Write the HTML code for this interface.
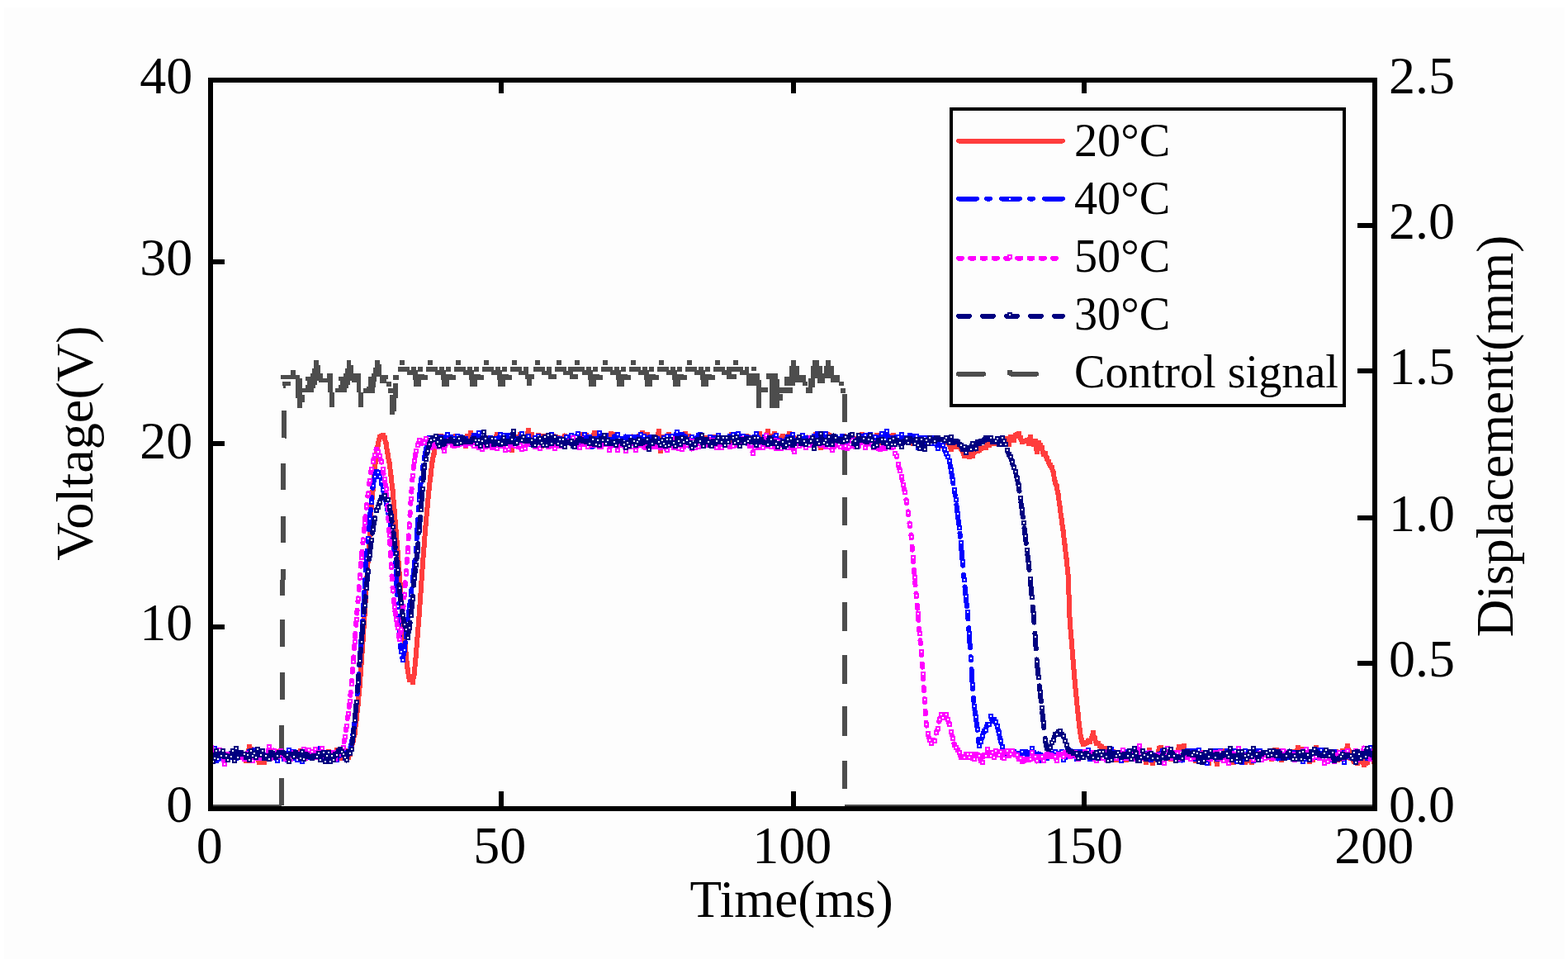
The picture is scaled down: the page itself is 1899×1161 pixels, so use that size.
<!DOCTYPE html><html><head><meta charset="utf-8"><title>chart</title><style>html,body{margin:0;padding:0;background:#fdfdfd;overflow:hidden}svg{display:block}</style></head><body><svg width="1899" height="1161" viewBox="0 0 1899 1161" shape-rendering="crispEdges"><defs><clipPath id="pc"><rect x="257" y="99" width="1405" height="877"/></clipPath></defs><rect width="1899" height="1161" fill="#fdfdfd"/><rect width="1899" height="9" fill="#fff"/><rect width="5" height="1161" fill="#fff"/><rect x="1895" width="4" height="1161" fill="#fff"/><g><path d="M254.0 974.0h87.0v6.0h-87.0zM1023.0 974.0h642.0v6.0h-642.0zM342.0 461.8h9.5v5.6h-9.5zM343.4 467.0h2.3v3.0h-2.3zM340.0 453.7h23.2v5.7h-23.2zM351.8 448.0h5.7v5.7h-5.7zM358.0 458.4h7.5v23.3h-7.5zM360.3 477.9h9.0v9.1h-9.0zM359.9 487.0h5.6v6.5h-5.6zM380.0 436.0h5.5v5.5h-5.5zM380.0 441.5h7.8v4.5h-7.8zM378.0 446.0h9.8v5.7h-9.8zM376.4 451.7h14.6v6.0h-14.6zM370.4 456.0h15.6v5.4h-15.6zM372.0 461.4h11.6v4.8h-11.6zM370.4 466.2h11.4v3.6h-11.4zM365.4 469.8h14.6v5.4h-14.6zM386.0 457.7h16.8v5.5h-16.8zM396.4 452.3h6.4v5.4h-6.4zM397.4 457.7h5.4v17.5h-5.4zM399.2 475.2h6.0v18.1h-6.0zM419.9 436.0h5.5v5.5h-5.5zM419.9 441.5h7.8v4.5h-7.8zM417.9 446.0h9.8v5.7h-9.8zM416.3 451.7h14.6v6.0h-14.6zM410.3 456.0h15.6v5.4h-15.6zM411.9 461.4h11.6v4.8h-11.6zM410.3 466.2h11.4v3.6h-11.4zM406.0 469.8h13.9v5.4h-13.9zM425.9 457.7h11.5v5.5h-11.5zM431.0 452.3h6.4v5.4h-6.4zM432.0 457.7h5.4v17.5h-5.4zM433.8 475.2h6.0v18.1h-6.0zM454.1 436.2h5.5v5.2h-5.5zM454.1 441.4h7.5v3.6h-7.5zM452.0 445.0h9.6v6.7h-9.6zM450.0 451.7h11.6v4.3h-11.6zM460.0 454.0h9.6v5.0h-9.6zM460.0 457.5h7.5v6.2h-7.5zM467.9 462.0h5.8v5.5h-5.8zM446.2 456.0h9.6v5.7h-9.6zM446.2 461.7h9.0v7.6h-9.0zM444.0 468.0h9.8v2.0h-9.8zM439.8 470.0h14.0v5.5h-14.0zM476.2 453.8h6.3v5.8h-6.3zM470.0 470.0h11.7v5.5h-11.7zM475.8 464.0h5.9v17.7h-5.9zM472.0 477.5h8.0v20.0h-8.0zM472.0 496.0h5.5v5.6h-5.5zM494.4 448.0h5.6v5.4h-5.6zM484.0 436.0h6.0v6.0h-6.0zM482.0 444.0h14.0v6.0h-14.0zM493.0 448.0h13.0v5.5h-13.0zM498.0 444.0h6.0v6.0h-6.0zM506.0 444.0h6.0v6.0h-6.0zM500.0 453.0h14.0v7.0h-14.0zM512.0 454.0h6.0v6.0h-6.0zM501.0 460.0h9.0v7.5h-9.0zM518.0 436.0h6.0v6.0h-6.0zM516.0 444.0h14.0v6.0h-14.0zM527.0 448.0h13.0v5.5h-13.0zM532.0 444.0h6.0v6.0h-6.0zM540.0 444.0h6.0v6.0h-6.0zM534.0 453.0h14.0v7.0h-14.0zM546.0 454.0h6.0v6.0h-6.0zM535.0 460.0h9.0v7.5h-9.0zM552.0 436.0h6.0v6.0h-6.0zM550.0 444.0h14.0v6.0h-14.0zM561.0 448.0h13.0v5.5h-13.0zM566.0 444.0h6.0v6.0h-6.0zM574.0 444.0h6.0v6.0h-6.0zM568.0 453.0h14.0v7.0h-14.0zM580.0 454.0h6.0v6.0h-6.0zM569.0 460.0h9.0v7.5h-9.0zM586.0 436.0h6.0v6.0h-6.0zM584.0 444.0h14.0v6.0h-14.0zM595.0 448.0h13.0v5.5h-13.0zM600.0 444.0h6.0v6.0h-6.0zM608.0 444.0h6.0v6.0h-6.0zM602.0 453.0h14.0v7.0h-14.0zM614.0 454.0h6.0v6.0h-6.0zM603.0 460.0h9.0v7.5h-9.0zM620.0 436.0h6.0v6.0h-6.0zM618.0 444.0h14.0v6.0h-14.0zM628.0 449.0h12.0v4.5h-12.0zM634.0 444.0h6.0v6.0h-6.0zM636.0 452.8h11.0v6.6h-11.0zM638.0 459.4h6.0v7.9h-6.0zM648.0 436.0h6.0v6.0h-6.0zM646.0 444.0h14.0v6.0h-14.0zM656.0 449.0h12.0v4.5h-12.0zM662.0 444.0h6.0v6.0h-6.0zM664.0 453.0h10.0v6.4h-10.0zM674.0 436.0h6.0v6.0h-6.0zM672.0 444.0h14.0v6.0h-14.0zM682.0 449.0h12.0v4.5h-12.0zM688.0 444.0h6.0v6.0h-6.0zM690.0 453.0h10.0v6.4h-10.0zM696.0 436.0h6.0v6.0h-6.0zM694.0 444.0h14.0v6.0h-14.0zM705.0 448.0h13.0v5.5h-13.0zM710.0 444.0h6.0v6.0h-6.0zM718.0 444.0h6.0v6.0h-6.0zM712.0 453.0h14.0v7.0h-14.0zM724.0 454.0h6.0v6.0h-6.0zM713.0 460.0h9.0v7.5h-9.0zM730.0 436.0h6.0v6.0h-6.0zM728.0 444.0h14.0v6.0h-14.0zM739.0 448.0h13.0v5.5h-13.0zM744.0 444.0h6.0v6.0h-6.0zM752.0 444.0h6.0v6.0h-6.0zM746.0 453.0h14.0v7.0h-14.0zM758.0 454.0h6.0v6.0h-6.0zM747.0 460.0h9.0v7.5h-9.0zM764.0 436.0h6.0v6.0h-6.0zM762.0 444.0h14.0v6.0h-14.0zM773.0 448.0h13.0v5.5h-13.0zM778.0 444.0h6.0v6.0h-6.0zM786.0 444.0h6.0v6.0h-6.0zM780.0 453.0h14.0v7.0h-14.0zM792.0 454.0h6.0v6.0h-6.0zM781.0 460.0h9.0v7.5h-9.0zM798.0 436.0h6.0v6.0h-6.0zM796.0 444.0h14.0v6.0h-14.0zM807.0 448.0h13.0v5.5h-13.0zM812.0 444.0h6.0v6.0h-6.0zM820.0 444.0h6.0v6.0h-6.0zM814.0 453.0h14.0v7.0h-14.0zM826.0 454.0h6.0v6.0h-6.0zM815.0 460.0h9.0v7.5h-9.0zM832.0 436.0h6.0v6.0h-6.0zM830.0 444.0h14.0v6.0h-14.0zM841.0 448.0h13.0v5.5h-13.0zM846.0 444.0h6.0v6.0h-6.0zM854.0 444.0h6.0v6.0h-6.0zM848.0 453.0h14.0v7.0h-14.0zM860.0 454.0h6.0v6.0h-6.0zM849.0 460.0h9.0v7.5h-9.0zM866.0 436.0h6.0v6.0h-6.0zM864.0 444.0h14.0v6.0h-14.0zM874.0 449.0h12.0v4.5h-12.0zM880.0 444.0h6.0v6.0h-6.0zM882.0 453.0h10.0v6.4h-10.0zM888.0 436.0h6.0v6.0h-6.0zM886.0 444.0h14.0v6.0h-14.0zM874.2 448.0h7.6v5.6h-7.6zM880.0 453.6h8.0v5.7h-8.0zM860.0 453.6h5.7v5.7h-5.7zM896.0 448.4h11.4v5.2h-11.4zM902.0 443.7h5.4v4.7h-5.4zM910.2 443.7h5.8v5.7h-5.8zM904.0 452.2h15.7v15.2h-15.7zM916.0 459.8h6.0v33.7h-6.0zM921.6 469.3h8.4v5.7h-8.4zM928.0 451.8h14.0v7.1h-14.0zM932.0 458.9h12.0v34.6h-12.0zM944.0 476.9h3.7v8.5h-3.7zM940.0 469.3h19.5v6.2h-19.5zM950.0 456.0h13.3v11.4h-13.3zM955.7 442.7h12.3v13.3h-12.3zM958.0 435.6h5.8v7.1h-5.8zM963.3 454.0h12.3v8.7h-12.3zM971.8 461.7h6.2v5.7h-6.2zM976.0 469.3h8.2v6.2h-8.2zM979.4 458.0h7.6v11.3h-7.6zM982.3 442.7h13.2v15.3h-13.2zM984.2 435.6h7.6v7.1h-7.6zM989.9 452.2h9.4v11.4h-9.4zM998.4 442.7h11.4v15.3h-11.4zM1000.3 435.6h5.7v7.1h-5.7zM1006.0 454.0h11.3v8.7h-11.3zM1015.5 461.7h6.5v5.7h-6.5zM1017.8 469.8h6.2v5.7h-6.2zM1020.0 476.5h6.0v34.3h-6.0zM1020.0 540.3h6.0v34.3h-6.0zM1020.0 601.6h6.0v34.4h-6.0zM1020.0 665.5h6.0v34.3h-6.0zM1020.0 729.3h6.0v34.3h-6.0zM1020.0 793.0h6.0v34.5h-6.0zM1020.0 854.5h6.0v36.8h-6.0zM1020.0 920.7h6.0v34.3h-6.0z" fill="#4d4d4d"/><path d="M340.7 975.0 L340.9 942.0M341.2 910.0 L341.4 878.0M341.6 847.0 L341.8 814.0M342.0 783.0 L342.2 750.0M342.4 721.0 L342.6 689.0M342.9 657.0 L343.1 625.0M343.3 593.0 L343.5 561.0M343.7 530.5 L343.9 497.0" fill="none" stroke="#4d4d4d" stroke-width="6"/></g><g clip-path="url(#pc)"><path d="M253.7 916.0 L255.7 917.5 L257.7 916.2 L259.7 910.3 L261.7 920.6 L263.7 917.6 L265.7 914.0 L267.7 917.5 L269.7 916.1 L271.7 915.7 L273.7 915.0 L275.7 917.5 L277.7 913.3 L279.7 915.4 L281.7 914.5 L283.7 918.5 L285.7 915.4 L287.7 913.1 L289.7 910.8 L291.7 913.0 L293.7 914.8 L295.7 914.5 L297.7 921.3 L299.7 920.6 L301.7 904.4 L303.7 907.0 L305.7 913.9 L307.7 912.9 L309.7 915.0 L311.7 915.5 L313.7 923.3 L315.7 909.5 L317.7 912.2 L319.7 922.6 L321.7 916.1 L323.7 917.2 L325.7 912.6 L327.7 908.5 L329.7 916.4 L331.7 916.1 L333.7 909.9 L335.7 911.5 L337.7 913.8 L339.7 910.5 L341.7 914.7 L343.7 915.5 L345.7 915.5 L347.7 913.2 L349.7 916.7 L351.7 917.9 L353.7 915.8 L355.7 911.0 L357.7 917.2 L359.7 912.7 L361.7 918.1 L363.7 909.5 L365.7 918.4 L367.7 914.7 L369.7 910.1 L371.7 914.0 L373.7 915.2 L375.7 916.1 L377.7 911.2 L379.7 909.7 L381.7 915.0 L383.7 912.8 L385.7 914.7 L387.7 916.4 L389.7 905.7 L391.7 914.2 L393.7 917.4 L395.7 911.6 L397.7 910.2 L399.7 917.6 L401.7 915.9 L403.7 919.2 L405.7 913.7 L407.7 907.7 L409.7 914.0 L411.7 912.2 L413.7 918.3 L415.7 915.7 L417.7 908.6 L419.7 910.7 L421.7 916.6 L423.7 912.5 L425.7 905.1 L427.7 896.2 L429.7 886.8 L431.7 870.0 L433.7 852.1 L435.7 830.2 L437.7 802.1 L439.7 774.0 L441.7 743.0 L443.7 709.7 L445.7 678.6 L447.7 646.7 L449.7 614.1 L451.7 591.5 L453.7 569.0 L455.7 551.3 L457.7 538.0 L459.7 529.3 L461.7 527.9 L463.7 527.3 L465.7 530.0 L467.7 538.3 L469.7 551.4 L471.7 561.6 L473.7 578.1 L475.7 595.5 L477.7 619.0 L479.7 644.3 L481.7 669.1 L483.7 695.1 L485.7 720.8 L487.7 745.6 L489.7 768.9 L491.7 792.0 L493.7 811.1 L495.7 822.9 L497.7 821.8 L499.7 825.9 L501.7 815.4 L503.7 794.3 L505.7 769.3 L507.7 744.2 L509.7 715.0 L511.7 686.0 L513.7 659.6 L515.7 634.1 L517.7 611.9 L519.7 591.3 L521.7 573.9 L523.7 556.9 L525.7 547.8 L527.7 538.4 L529.7 536.5 L531.7 531.3 L533.7 527.7 L535.7 535.8 L537.7 529.5 L539.7 530.5 L541.7 533.4 L543.7 530.3 L545.7 531.5 L547.7 534.0 L549.7 533.6 L551.7 527.8 L553.7 536.1 L555.7 531.7 L557.7 529.8 L559.7 529.8 L561.7 531.6 L563.7 540.4 L565.7 527.7 L567.7 533.0 L569.7 524.3 L571.7 532.9 L573.7 537.0 L575.7 532.7 L577.7 530.9 L579.7 533.6 L581.7 535.2 L583.7 534.6 L585.7 539.5 L587.7 532.9 L589.7 529.7 L591.7 532.3 L593.7 533.0 L595.7 533.3 L597.7 532.6 L599.7 533.9 L601.7 525.9 L603.7 535.8 L605.7 531.1 L607.7 529.2 L609.7 537.1 L611.7 539.6 L613.7 537.2 L615.7 535.2 L617.7 529.9 L619.7 545.3 L621.7 537.1 L623.7 528.6 L625.7 530.0 L627.7 533.9 L629.7 526.3 L631.7 534.0 L633.7 530.1 L635.7 536.6 L637.7 535.7 L639.7 520.8 L641.7 532.4 L643.7 526.3 L645.7 537.5 L647.7 533.3 L649.7 534.6 L651.7 527.4 L653.7 539.5 L655.7 540.4 L657.7 528.3 L659.7 534.8 L661.7 530.0 L663.7 532.3 L665.7 527.9 L667.7 539.8 L669.7 528.0 L671.7 530.8 L673.7 534.6 L675.7 529.5 L677.7 531.6 L679.7 530.7 L681.7 532.5 L683.7 527.5 L685.7 531.3 L687.7 532.3 L689.7 531.9 L691.7 534.2 L693.7 532.6 L695.7 536.1 L697.7 531.7 L699.7 531.8 L701.7 529.1 L703.7 529.7 L705.7 526.1 L707.7 533.6 L709.7 526.9 L711.7 529.2 L713.7 533.4 L715.7 534.5 L717.7 531.1 L719.7 523.6 L721.7 533.5 L723.7 533.9 L725.7 526.8 L727.7 536.2 L729.7 531.0 L731.7 529.5 L733.7 534.3 L735.7 532.1 L737.7 533.1 L739.7 525.3 L741.7 539.1 L743.7 529.2 L745.7 526.5 L747.7 535.8 L749.7 532.3 L751.7 535.0 L753.7 532.3 L755.7 533.0 L757.7 533.9 L759.7 529.2 L761.7 535.3 L763.7 530.5 L765.7 528.5 L767.7 532.8 L769.7 533.8 L771.7 531.1 L773.7 528.0 L775.7 534.2 L777.7 524.5 L779.7 527.3 L781.7 531.5 L783.7 526.2 L785.7 532.8 L787.7 532.5 L789.7 537.1 L791.7 530.8 L793.7 531.2 L795.7 534.5 L797.7 522.1 L799.7 545.7 L801.7 528.9 L803.7 529.7 L805.7 537.1 L807.7 533.6 L809.7 525.6 L811.7 535.2 L813.7 536.6 L815.7 531.1 L817.7 532.1 L819.7 535.5 L821.7 530.0 L823.7 534.6 L825.7 533.1 L827.7 528.2 L829.7 525.3 L831.7 530.2 L833.7 527.7 L835.7 535.8 L837.7 533.5 L839.7 536.2 L841.7 533.9 L843.7 533.3 L845.7 528.4 L847.7 534.8 L849.7 539.0 L851.7 529.8 L853.7 529.9 L855.7 531.8 L857.7 530.1 L859.7 529.0 L861.7 531.9 L863.7 529.3 L865.7 536.2 L867.7 529.9 L869.7 531.7 L871.7 535.2 L873.7 530.1 L875.7 539.0 L877.7 530.3 L879.7 529.7 L881.7 531.6 L883.7 533.0 L885.7 526.3 L887.7 532.1 L889.7 525.6 L891.7 538.5 L893.7 532.8 L895.7 530.5 L897.7 529.0 L899.7 531.7 L901.7 532.0 L903.7 528.3 L905.7 529.4 L907.7 533.3 L909.7 530.6 L911.7 536.6 L913.7 537.1 L915.7 532.0 L917.7 532.3 L919.7 525.2 L921.7 532.6 L923.7 530.0 L925.7 532.5 L927.7 538.4 L929.7 521.7 L931.7 533.9 L933.7 527.7 L935.7 534.1 L937.7 525.5 L939.7 529.0 L941.7 531.7 L943.7 534.0 L945.7 531.4 L947.7 528.0 L949.7 529.7 L951.7 535.7 L953.7 531.8 L955.7 525.0 L957.7 536.2 L959.7 533.5 L961.7 535.4 L963.7 530.6 L965.7 536.9 L967.7 528.8 L969.7 536.6 L971.7 531.8 L973.7 536.0 L975.7 537.1 L977.7 529.5 L979.7 532.0 L981.7 532.1 L983.7 537.1 L985.7 534.9 L987.7 526.5 L989.7 533.4 L991.7 535.8 L993.7 541.6 L995.7 525.2 L997.7 529.9 L999.7 537.7 L1001.7 525.7 L1003.7 526.8 L1005.7 533.9 L1007.7 537.1 L1009.7 529.9 L1011.7 534.9 L1013.7 533.0 L1015.7 539.0 L1017.7 531.6 L1019.7 536.0 L1021.7 528.4 L1023.7 530.4 L1025.7 530.8 L1027.7 536.2 L1029.7 533.8 L1031.7 528.3 L1033.7 534.8 L1035.7 535.1 L1037.7 531.4 L1039.7 531.3 L1041.7 531.1 L1043.7 525.7 L1045.7 533.4 L1047.7 534.0 L1049.7 528.8 L1051.7 535.6 L1053.7 526.2 L1055.7 530.8 L1057.7 531.0 L1059.7 541.5 L1061.7 527.0 L1063.7 535.9 L1065.7 536.3 L1067.7 533.8 L1069.7 537.4 L1071.7 528.0 L1073.7 522.5 L1075.7 535.8 L1077.7 527.6 L1079.7 531.3 L1081.7 527.4 L1083.7 536.7 L1085.7 536.1 L1087.7 529.2 L1089.7 536.1 L1091.7 532.7 L1093.7 531.9 L1095.7 532.0 L1097.7 530.8 L1099.7 534.3 L1101.7 533.3 L1103.7 531.1 L1105.7 537.2 L1107.7 531.3 L1109.7 534.7 L1111.7 534.7 L1113.7 539.0 L1115.7 530.9 L1117.7 539.2 L1119.7 533.3 L1121.7 532.7 L1123.7 530.8 L1125.7 536.0 L1127.7 534.4 L1129.7 529.7 L1131.7 530.3 L1133.7 532.3 L1135.7 532.1 L1137.7 539.4 L1139.7 539.9 L1141.7 536.7 L1143.7 535.9 L1145.7 532.1 L1147.7 534.4 L1149.7 538.5 L1151.7 543.8 L1153.7 540.6 L1155.7 538.9 L1157.7 541.4 L1159.7 540.8 L1161.7 539.9 L1163.7 543.2 L1165.7 545.9 L1167.7 552.3 L1169.7 546.1 L1171.7 551.6 L1173.7 553.1 L1175.7 544.8 L1177.7 552.0 L1179.7 547.4 L1181.7 542.3 L1183.7 545.6 L1185.7 545.3 L1187.7 542.7 L1189.7 542.2 L1191.7 542.4 L1193.7 542.4 L1195.7 537.6 L1197.7 539.1 L1199.7 533.5 L1201.7 537.5 L1203.7 537.3 L1205.7 533.7 L1207.7 534.8 L1209.7 534.9 L1211.7 530.5 L1213.7 531.2 L1215.7 533.3 L1217.7 533.8 L1219.7 530.9 L1221.7 538.2 L1223.7 529.0 L1225.7 532.6 L1227.7 532.8 L1229.7 526.9 L1231.7 525.6 L1233.7 525.4 L1235.7 530.5 L1237.7 534.8 L1239.7 533.8 L1241.7 534.4 L1243.7 532.9 L1245.7 537.1 L1247.7 528.7 L1249.7 537.4 L1251.7 538.0 L1253.7 534.1 L1255.7 546.7 L1257.7 535.6 L1259.7 539.2 L1261.7 542.2 L1263.7 550.2 L1265.7 548.8 L1267.7 555.4 L1269.7 559.0 L1271.7 563.4 L1273.7 566.1 L1275.7 572.6 L1277.7 583.6 L1279.7 588.9 L1281.7 600.3 L1283.7 614.6 L1285.7 629.7 L1287.7 644.0 L1289.7 661.3 L1291.7 677.9 L1293.7 697.6 L1295.7 752.7 L1297.7 775.5 L1299.7 801.0 L1301.7 824.6 L1303.7 846.0 L1305.7 865.3 L1307.7 884.0 L1309.7 896.2 L1311.7 901.1 L1313.7 900.2 L1315.7 898.8 L1317.7 896.5 L1319.7 897.7 L1321.7 894.3 L1323.7 887.4 L1325.7 894.4 L1327.7 899.6 L1329.7 900.2 L1331.7 902.6 L1333.7 903.8 L1335.7 908.7 L1337.7 906.1 L1339.7 913.1 L1341.7 912.1 L1343.7 917.4 L1345.7 915.0 L1347.7 910.3 L1349.7 915.4 L1351.7 920.1 L1353.7 912.1 L1355.7 914.7 L1357.7 913.4 L1359.7 910.2 L1361.7 919.1 L1363.7 920.2 L1365.7 917.9 L1367.7 915.5 L1369.7 915.0 L1371.7 916.4 L1373.7 912.6 L1375.7 919.2 L1377.7 919.9 L1379.7 919.1 L1381.7 913.2 L1383.7 916.3 L1385.7 914.6 L1387.7 922.9 L1389.7 916.6 L1391.7 908.3 L1393.7 916.8 L1395.7 924.3 L1397.7 918.8 L1399.7 918.6 L1401.7 915.0 L1403.7 906.1 L1405.7 905.1 L1407.7 908.3 L1409.7 913.8 L1411.7 915.7 L1413.7 917.7 L1415.7 914.4 L1417.7 919.1 L1419.7 914.3 L1421.7 912.5 L1423.7 919.6 L1425.7 911.3 L1427.7 904.4 L1429.7 911.3 L1431.7 916.3 L1433.7 903.0 L1435.7 915.2 L1437.7 914.9 L1439.7 909.9 L1441.7 909.3 L1443.7 913.4 L1445.7 912.9 L1447.7 921.3 L1449.7 916.9 L1451.7 908.5 L1453.7 911.3 L1455.7 918.3 L1457.7 923.2 L1459.7 917.9 L1461.7 917.9 L1463.7 924.0 L1465.7 916.5 L1467.7 915.0 L1469.7 909.8 L1471.7 913.3 L1473.7 925.0 L1475.7 909.2 L1477.7 915.2 L1479.7 909.1 L1481.7 914.5 L1483.7 917.8 L1485.7 913.1 L1487.7 917.3 L1489.7 917.3 L1491.7 917.4 L1493.7 923.1 L1495.7 918.8 L1497.7 914.6 L1499.7 912.3 L1501.7 911.0 L1503.7 915.7 L1505.7 911.6 L1507.7 923.4 L1509.7 921.0 L1511.7 913.4 L1513.7 913.3 L1515.7 923.4 L1517.7 908.9 L1519.7 914.2 L1521.7 919.7 L1523.7 911.8 L1525.7 913.2 L1527.7 913.1 L1529.7 917.9 L1531.7 915.4 L1533.7 916.9 L1535.7 916.8 L1537.7 914.9 L1539.7 919.1 L1541.7 911.9 L1543.7 908.1 L1545.7 907.9 L1547.7 909.0 L1549.7 913.2 L1551.7 920.0 L1553.7 916.9 L1555.7 913.5 L1557.7 912.2 L1559.7 915.0 L1561.7 914.8 L1563.7 913.9 L1565.7 910.1 L1567.7 913.3 L1569.7 918.9 L1571.7 905.4 L1573.7 914.0 L1575.7 906.8 L1577.7 915.3 L1579.7 912.0 L1581.7 906.6 L1583.7 915.8 L1585.7 922.4 L1587.7 916.3 L1589.7 920.1 L1591.7 914.4 L1593.7 904.6 L1595.7 915.9 L1597.7 911.9 L1599.7 907.7 L1601.7 917.6 L1603.7 915.7 L1605.7 912.0 L1607.7 918.4 L1609.7 911.8 L1611.7 917.6 L1613.7 912.1 L1615.7 917.8 L1617.7 909.7 L1619.7 919.6 L1621.7 914.7 L1623.7 919.1 L1625.7 909.5 L1627.7 911.1 L1629.7 917.0 L1631.7 903.1 L1633.7 909.9 L1635.7 918.5 L1637.7 918.3 L1639.7 922.2 L1641.7 919.6 L1643.7 924.3 L1645.7 922.2 L1647.7 922.2 L1649.7 920.7 L1651.7 925.9 L1653.7 924.2 L1655.7 922.6 L1657.7 912.9 L1659.7 915.8 L1661.7 918.8 L1663.7 921.7 L1665.7 918.8" fill="none" stroke="#ff3d3d" stroke-width="6" stroke-linejoin="round" stroke-linecap="round"/><path d="M251 913h6v6h-6zM253 915h6v6h-6zM255 913h6v6h-6zM257 907h6v6h-6zM259 918h6v6h-6zM261 915h6v6h-6zM263 911h6v6h-6zM265 915h6v6h-6zM267 913h6v6h-6zM269 913h6v6h-6zM271 912h6v6h-6zM273 915h6v6h-6zM275 910h6v6h-6zM277 912h6v6h-6zM279 912h6v6h-6zM281 916h6v6h-6zM283 912h6v6h-6zM285 910h6v6h-6zM287 908h6v6h-6zM289 910h6v6h-6zM291 912h6v6h-6zM293 911h6v6h-6zM295 918h6v6h-6zM297 918h6v6h-6zM299 901h6v6h-6zM301 904h6v6h-6zM303 911h6v6h-6zM305 910h6v6h-6zM307 912h6v6h-6zM309 913h6v6h-6zM311 920h6v6h-6zM313 906h6v6h-6zM315 909h6v6h-6zM317 920h6v6h-6zM319 913h6v6h-6zM321 914h6v6h-6zM323 910h6v6h-6zM325 906h6v6h-6zM327 913h6v6h-6zM329 913h6v6h-6zM331 907h6v6h-6zM333 909h6v6h-6zM335 911h6v6h-6zM337 908h6v6h-6zM339 912h6v6h-6zM341 912h6v6h-6zM343 913h6v6h-6zM345 910h6v6h-6zM347 914h6v6h-6zM349 915h6v6h-6zM351 913h6v6h-6zM353 908h6v6h-6zM355 914h6v6h-6zM357 910h6v6h-6zM359 915h6v6h-6zM361 906h6v6h-6zM363 915h6v6h-6zM365 912h6v6h-6zM367 907h6v6h-6zM369 911h6v6h-6zM371 912h6v6h-6zM373 913h6v6h-6zM375 908h6v6h-6zM377 907h6v6h-6zM379 912h6v6h-6zM381 910h6v6h-6zM383 912h6v6h-6zM385 913h6v6h-6zM387 903h6v6h-6zM389 911h6v6h-6zM391 914h6v6h-6zM393 909h6v6h-6zM395 907h6v6h-6zM397 915h6v6h-6zM399 913h6v6h-6zM401 916h6v6h-6zM403 911h6v6h-6zM405 905h6v6h-6zM407 911h6v6h-6zM409 909h6v6h-6zM411 915h6v6h-6zM413 913h6v6h-6zM415 906h6v6h-6zM417 908h6v6h-6zM419 914h6v6h-6zM421 910h6v6h-6zM423 902h6v6h-6zM425 893h6v6h-6zM427 884h6v6h-6zM429 867h6v6h-6zM431 849h6v6h-6zM433 827h6v6h-6zM435 799h6v6h-6zM437 771h6v6h-6zM439 740h6v6h-6zM441 707h6v6h-6zM443 676h6v6h-6zM445 644h6v6h-6zM447 611h6v6h-6zM449 589h6v6h-6zM451 566h6v6h-6zM453 548h6v6h-6zM455 535h6v6h-6zM457 526h6v6h-6zM459 525h6v6h-6zM461 524h6v6h-6zM463 527h6v6h-6zM465 535h6v6h-6zM467 548h6v6h-6zM469 559h6v6h-6zM471 575h6v6h-6zM473 592h6v6h-6zM475 616h6v6h-6zM477 641h6v6h-6zM479 666h6v6h-6zM481 692h6v6h-6zM483 718h6v6h-6zM485 743h6v6h-6zM487 766h6v6h-6zM489 789h6v6h-6zM491 808h6v6h-6zM493 820h6v6h-6zM495 819h6v6h-6zM497 823h6v6h-6zM499 812h6v6h-6zM501 791h6v6h-6zM503 766h6v6h-6zM505 741h6v6h-6zM507 712h6v6h-6zM509 683h6v6h-6zM511 657h6v6h-6zM513 631h6v6h-6zM515 609h6v6h-6zM517 588h6v6h-6zM519 571h6v6h-6zM521 554h6v6h-6zM523 545h6v6h-6zM525 535h6v6h-6zM527 534h6v6h-6zM529 528h6v6h-6zM531 525h6v6h-6zM533 533h6v6h-6zM535 527h6v6h-6zM537 528h6v6h-6zM539 530h6v6h-6zM541 527h6v6h-6zM543 528h6v6h-6zM545 531h6v6h-6zM547 531h6v6h-6zM549 525h6v6h-6zM551 533h6v6h-6zM553 529h6v6h-6zM555 527h6v6h-6zM557 527h6v6h-6zM559 529h6v6h-6zM561 537h6v6h-6zM563 525h6v6h-6zM565 530h6v6h-6zM567 521h6v6h-6zM569 530h6v6h-6zM571 534h6v6h-6zM573 530h6v6h-6zM575 528h6v6h-6zM577 531h6v6h-6zM579 532h6v6h-6zM581 532h6v6h-6zM583 536h6v6h-6zM585 530h6v6h-6zM587 527h6v6h-6zM589 529h6v6h-6zM591 530h6v6h-6zM593 530h6v6h-6zM595 530h6v6h-6zM597 531h6v6h-6zM599 523h6v6h-6zM601 533h6v6h-6zM603 528h6v6h-6zM605 526h6v6h-6zM607 534h6v6h-6zM609 537h6v6h-6zM611 534h6v6h-6zM613 532h6v6h-6zM615 527h6v6h-6zM617 542h6v6h-6zM619 534h6v6h-6zM621 526h6v6h-6zM623 527h6v6h-6zM625 531h6v6h-6zM627 523h6v6h-6zM629 531h6v6h-6zM631 527h6v6h-6zM633 534h6v6h-6zM635 533h6v6h-6zM637 518h6v6h-6zM639 529h6v6h-6zM641 523h6v6h-6zM643 535h6v6h-6zM645 530h6v6h-6zM647 532h6v6h-6zM649 524h6v6h-6zM651 536h6v6h-6zM653 537h6v6h-6zM655 525h6v6h-6zM657 532h6v6h-6zM659 527h6v6h-6zM661 529h6v6h-6zM663 525h6v6h-6zM665 537h6v6h-6zM667 525h6v6h-6zM669 528h6v6h-6zM671 532h6v6h-6zM673 527h6v6h-6zM675 529h6v6h-6zM677 528h6v6h-6zM679 530h6v6h-6zM681 525h6v6h-6zM683 528h6v6h-6zM685 529h6v6h-6zM687 529h6v6h-6zM689 531h6v6h-6zM691 530h6v6h-6zM693 533h6v6h-6zM695 529h6v6h-6zM697 529h6v6h-6zM699 526h6v6h-6zM701 527h6v6h-6zM703 523h6v6h-6zM705 531h6v6h-6zM707 524h6v6h-6zM709 526h6v6h-6zM711 530h6v6h-6zM713 532h6v6h-6zM715 528h6v6h-6zM717 521h6v6h-6zM719 531h6v6h-6zM721 531h6v6h-6zM723 524h6v6h-6zM725 533h6v6h-6zM727 528h6v6h-6zM729 527h6v6h-6zM731 531h6v6h-6zM733 529h6v6h-6zM735 530h6v6h-6zM737 522h6v6h-6zM739 536h6v6h-6zM741 526h6v6h-6zM743 523h6v6h-6zM745 533h6v6h-6zM747 529h6v6h-6zM749 532h6v6h-6zM751 529h6v6h-6zM753 530h6v6h-6zM755 531h6v6h-6zM757 526h6v6h-6zM759 532h6v6h-6zM761 527h6v6h-6zM763 526h6v6h-6zM765 530h6v6h-6zM767 531h6v6h-6zM769 528h6v6h-6zM771 525h6v6h-6zM773 531h6v6h-6zM775 521h6v6h-6zM777 524h6v6h-6zM779 529h6v6h-6zM781 523h6v6h-6zM783 530h6v6h-6zM785 529h6v6h-6zM787 534h6v6h-6zM789 528h6v6h-6zM791 528h6v6h-6zM793 532h6v6h-6zM795 519h6v6h-6zM797 543h6v6h-6zM799 526h6v6h-6zM801 527h6v6h-6zM803 534h6v6h-6zM805 531h6v6h-6zM807 523h6v6h-6zM809 532h6v6h-6zM811 534h6v6h-6zM813 528h6v6h-6zM815 529h6v6h-6zM817 533h6v6h-6zM819 527h6v6h-6zM821 532h6v6h-6zM823 530h6v6h-6zM825 525h6v6h-6zM827 522h6v6h-6zM829 527h6v6h-6zM831 525h6v6h-6zM833 533h6v6h-6zM835 530h6v6h-6zM837 533h6v6h-6zM839 531h6v6h-6zM841 530h6v6h-6zM843 525h6v6h-6zM845 532h6v6h-6zM847 536h6v6h-6zM849 527h6v6h-6zM851 527h6v6h-6zM853 529h6v6h-6zM855 527h6v6h-6zM857 526h6v6h-6zM859 529h6v6h-6zM861 526h6v6h-6zM863 533h6v6h-6zM865 527h6v6h-6zM867 529h6v6h-6zM869 532h6v6h-6zM871 527h6v6h-6zM873 536h6v6h-6zM875 527h6v6h-6zM877 527h6v6h-6zM879 529h6v6h-6zM881 530h6v6h-6zM883 523h6v6h-6zM885 529h6v6h-6zM887 523h6v6h-6zM889 536h6v6h-6zM891 530h6v6h-6zM893 528h6v6h-6zM895 526h6v6h-6zM897 529h6v6h-6zM899 529h6v6h-6zM901 525h6v6h-6zM903 526h6v6h-6zM905 530h6v6h-6zM907 528h6v6h-6zM909 534h6v6h-6zM911 534h6v6h-6zM913 529h6v6h-6zM915 529h6v6h-6zM917 522h6v6h-6zM919 530h6v6h-6zM921 527h6v6h-6zM923 530h6v6h-6zM925 535h6v6h-6zM927 519h6v6h-6zM929 531h6v6h-6zM931 525h6v6h-6zM933 531h6v6h-6zM935 522h6v6h-6zM937 526h6v6h-6zM939 529h6v6h-6zM941 531h6v6h-6zM943 528h6v6h-6zM945 525h6v6h-6zM947 527h6v6h-6zM949 533h6v6h-6zM951 529h6v6h-6zM953 522h6v6h-6zM955 533h6v6h-6zM957 530h6v6h-6zM959 532h6v6h-6zM961 528h6v6h-6zM963 534h6v6h-6zM965 526h6v6h-6zM967 534h6v6h-6zM969 529h6v6h-6zM971 533h6v6h-6zM973 534h6v6h-6zM975 527h6v6h-6zM977 529h6v6h-6zM979 529h6v6h-6zM981 534h6v6h-6zM983 532h6v6h-6zM985 523h6v6h-6zM987 530h6v6h-6zM989 533h6v6h-6zM991 539h6v6h-6zM993 522h6v6h-6zM995 527h6v6h-6zM997 535h6v6h-6zM999 523h6v6h-6zM1001 524h6v6h-6zM1003 531h6v6h-6zM1005 534h6v6h-6zM1007 527h6v6h-6zM1009 532h6v6h-6zM1011 530h6v6h-6zM1013 536h6v6h-6zM1015 529h6v6h-6zM1017 533h6v6h-6zM1019 525h6v6h-6zM1021 527h6v6h-6zM1023 528h6v6h-6zM1025 533h6v6h-6zM1027 531h6v6h-6zM1029 525h6v6h-6zM1031 532h6v6h-6zM1033 532h6v6h-6zM1035 528h6v6h-6zM1037 528h6v6h-6zM1039 528h6v6h-6zM1041 523h6v6h-6zM1043 530h6v6h-6zM1045 531h6v6h-6zM1047 526h6v6h-6zM1049 533h6v6h-6zM1051 523h6v6h-6zM1053 528h6v6h-6zM1055 528h6v6h-6zM1057 539h6v6h-6zM1059 524h6v6h-6zM1061 533h6v6h-6zM1063 533h6v6h-6zM1065 531h6v6h-6zM1067 534h6v6h-6zM1069 525h6v6h-6zM1071 520h6v6h-6zM1073 533h6v6h-6zM1075 525h6v6h-6zM1077 528h6v6h-6zM1079 524h6v6h-6zM1081 534h6v6h-6zM1083 533h6v6h-6zM1085 526h6v6h-6zM1087 533h6v6h-6zM1089 530h6v6h-6zM1091 529h6v6h-6zM1093 529h6v6h-6zM1095 528h6v6h-6zM1097 531h6v6h-6zM1099 530h6v6h-6zM1101 528h6v6h-6zM1103 534h6v6h-6zM1105 528h6v6h-6zM1107 532h6v6h-6zM1109 532h6v6h-6zM1111 536h6v6h-6zM1113 528h6v6h-6zM1115 536h6v6h-6zM1117 530h6v6h-6zM1119 530h6v6h-6zM1121 528h6v6h-6zM1123 533h6v6h-6zM1125 531h6v6h-6zM1127 527h6v6h-6zM1129 527h6v6h-6zM1131 529h6v6h-6zM1133 529h6v6h-6zM1135 536h6v6h-6zM1137 537h6v6h-6zM1139 534h6v6h-6zM1141 533h6v6h-6zM1143 529h6v6h-6zM1145 531h6v6h-6zM1147 535h6v6h-6zM1149 541h6v6h-6zM1151 538h6v6h-6zM1153 536h6v6h-6zM1155 538h6v6h-6zM1157 538h6v6h-6zM1159 537h6v6h-6zM1161 540h6v6h-6zM1163 543h6v6h-6zM1165 549h6v6h-6zM1167 543h6v6h-6zM1169 549h6v6h-6zM1171 550h6v6h-6zM1173 542h6v6h-6zM1175 549h6v6h-6zM1177 544h6v6h-6zM1179 539h6v6h-6zM1181 543h6v6h-6zM1183 542h6v6h-6zM1185 540h6v6h-6zM1187 539h6v6h-6zM1189 539h6v6h-6zM1191 539h6v6h-6zM1193 535h6v6h-6zM1195 536h6v6h-6zM1197 531h6v6h-6zM1199 534h6v6h-6zM1201 534h6v6h-6zM1203 531h6v6h-6zM1205 532h6v6h-6zM1207 532h6v6h-6zM1209 528h6v6h-6zM1211 528h6v6h-6zM1213 530h6v6h-6zM1215 531h6v6h-6zM1217 528h6v6h-6zM1219 535h6v6h-6zM1221 526h6v6h-6zM1223 530h6v6h-6zM1225 530h6v6h-6zM1227 524h6v6h-6zM1229 523h6v6h-6zM1231 522h6v6h-6zM1233 527h6v6h-6zM1235 532h6v6h-6zM1237 531h6v6h-6zM1239 531h6v6h-6zM1241 530h6v6h-6zM1243 534h6v6h-6zM1245 526h6v6h-6zM1247 534h6v6h-6zM1249 535h6v6h-6zM1251 531h6v6h-6zM1253 544h6v6h-6zM1255 533h6v6h-6zM1257 536h6v6h-6zM1259 539h6v6h-6zM1261 547h6v6h-6zM1263 546h6v6h-6zM1265 552h6v6h-6zM1267 556h6v6h-6zM1269 560h6v6h-6zM1271 563h6v6h-6zM1273 570h6v6h-6zM1275 581h6v6h-6zM1277 586h6v6h-6zM1279 597h6v6h-6zM1281 612h6v6h-6zM1283 627h6v6h-6zM1285 641h6v6h-6zM1287 658h6v6h-6zM1289 675h6v6h-6zM1291 695h6v6h-6zM1293 750h6v6h-6zM1295 773h6v6h-6zM1297 798h6v6h-6zM1299 822h6v6h-6zM1301 843h6v6h-6zM1303 862h6v6h-6zM1305 881h6v6h-6zM1307 893h6v6h-6zM1309 898h6v6h-6zM1311 897h6v6h-6zM1313 896h6v6h-6zM1315 894h6v6h-6zM1317 895h6v6h-6zM1319 891h6v6h-6zM1321 884h6v6h-6zM1323 891h6v6h-6zM1325 897h6v6h-6zM1327 897h6v6h-6zM1329 900h6v6h-6zM1331 901h6v6h-6zM1333 906h6v6h-6zM1335 903h6v6h-6zM1337 910h6v6h-6zM1339 909h6v6h-6zM1341 914h6v6h-6zM1343 912h6v6h-6zM1345 907h6v6h-6zM1347 912h6v6h-6zM1349 917h6v6h-6zM1351 909h6v6h-6zM1353 912h6v6h-6zM1355 910h6v6h-6zM1357 907h6v6h-6zM1359 916h6v6h-6zM1361 917h6v6h-6zM1363 915h6v6h-6zM1365 913h6v6h-6zM1367 912h6v6h-6zM1369 913h6v6h-6zM1371 910h6v6h-6zM1373 916h6v6h-6zM1375 917h6v6h-6zM1377 916h6v6h-6zM1379 910h6v6h-6zM1381 913h6v6h-6zM1383 912h6v6h-6zM1385 920h6v6h-6zM1387 914h6v6h-6zM1389 905h6v6h-6zM1391 914h6v6h-6zM1393 921h6v6h-6zM1395 916h6v6h-6zM1397 916h6v6h-6zM1399 912h6v6h-6zM1401 903h6v6h-6zM1403 902h6v6h-6zM1405 905h6v6h-6zM1407 911h6v6h-6zM1409 913h6v6h-6zM1411 915h6v6h-6zM1413 911h6v6h-6zM1415 916h6v6h-6zM1417 911h6v6h-6zM1419 910h6v6h-6zM1421 917h6v6h-6zM1423 908h6v6h-6zM1425 901h6v6h-6zM1427 908h6v6h-6zM1429 913h6v6h-6zM1431 900h6v6h-6zM1433 912h6v6h-6zM1435 912h6v6h-6zM1437 907h6v6h-6zM1439 906h6v6h-6zM1441 910h6v6h-6zM1443 910h6v6h-6zM1445 918h6v6h-6zM1447 914h6v6h-6zM1449 906h6v6h-6zM1451 908h6v6h-6zM1453 915h6v6h-6zM1455 920h6v6h-6zM1457 915h6v6h-6zM1459 915h6v6h-6zM1461 921h6v6h-6zM1463 914h6v6h-6zM1465 912h6v6h-6zM1467 907h6v6h-6zM1469 910h6v6h-6zM1471 922h6v6h-6zM1473 906h6v6h-6zM1475 912h6v6h-6zM1477 906h6v6h-6zM1479 912h6v6h-6zM1481 915h6v6h-6zM1483 910h6v6h-6zM1485 914h6v6h-6zM1487 914h6v6h-6zM1489 914h6v6h-6zM1491 920h6v6h-6zM1493 916h6v6h-6zM1495 912h6v6h-6zM1497 909h6v6h-6zM1499 908h6v6h-6zM1501 913h6v6h-6zM1503 909h6v6h-6zM1505 920h6v6h-6zM1507 918h6v6h-6zM1509 910h6v6h-6zM1511 910h6v6h-6zM1513 920h6v6h-6zM1515 906h6v6h-6zM1517 911h6v6h-6zM1519 917h6v6h-6zM1521 909h6v6h-6zM1523 910h6v6h-6zM1525 910h6v6h-6zM1527 915h6v6h-6zM1529 912h6v6h-6zM1531 914h6v6h-6zM1533 914h6v6h-6zM1535 912h6v6h-6zM1537 916h6v6h-6zM1539 909h6v6h-6zM1541 905h6v6h-6zM1543 905h6v6h-6zM1545 906h6v6h-6zM1547 910h6v6h-6zM1549 917h6v6h-6zM1551 914h6v6h-6zM1553 910h6v6h-6zM1555 909h6v6h-6zM1557 912h6v6h-6zM1559 912h6v6h-6zM1561 911h6v6h-6zM1563 907h6v6h-6zM1565 910h6v6h-6zM1567 916h6v6h-6zM1569 902h6v6h-6zM1571 911h6v6h-6zM1573 904h6v6h-6zM1575 912h6v6h-6zM1577 909h6v6h-6zM1579 904h6v6h-6zM1581 913h6v6h-6zM1583 919h6v6h-6zM1585 913h6v6h-6zM1587 917h6v6h-6zM1589 911h6v6h-6zM1591 902h6v6h-6zM1593 913h6v6h-6zM1595 909h6v6h-6zM1597 905h6v6h-6zM1599 915h6v6h-6zM1601 913h6v6h-6zM1603 909h6v6h-6zM1605 915h6v6h-6zM1607 909h6v6h-6zM1609 915h6v6h-6zM1611 909h6v6h-6zM1613 915h6v6h-6zM1615 907h6v6h-6zM1617 917h6v6h-6zM1619 912h6v6h-6zM1621 916h6v6h-6zM1623 906h6v6h-6zM1625 908h6v6h-6zM1627 914h6v6h-6zM1629 900h6v6h-6zM1631 907h6v6h-6zM1633 915h6v6h-6zM1635 915h6v6h-6zM1637 919h6v6h-6zM1639 917h6v6h-6zM1641 921h6v6h-6zM1643 919h6v6h-6zM1645 919h6v6h-6zM1647 918h6v6h-6zM1649 923h6v6h-6zM1651 921h6v6h-6zM1653 920h6v6h-6zM1655 910h6v6h-6zM1657 913h6v6h-6zM1659 916h6v6h-6zM1661 919h6v6h-6zM1663 916h6v6h-6z" fill="#ff3d3d"/></g><g clip-path="url(#pc)"><path d="M253.7 914.9 L255.7 912.2 L257.7 913.0 L259.7 906.5 L261.7 921.2 L263.7 919.4 L265.7 914.7 L267.7 918.0 L269.7 915.6 L271.7 912.6 L273.7 917.3 L275.7 913.1 L277.7 913.3 L279.7 912.1 L281.7 916.8 L283.7 916.3 L285.7 917.5 L287.7 913.3 L289.7 915.4 L291.7 911.3 L293.7 915.6 L295.7 914.2 L297.7 914.6 L299.7 914.8 L301.7 910.1 L303.7 916.5 L305.7 919.9 L307.7 907.8 L309.7 907.7 L311.7 908.1 L313.7 916.5 L315.7 914.7 L317.7 916.7 L319.7 915.9 L321.7 913.9 L323.7 913.9 L325.7 912.7 L327.7 917.6 L329.7 911.0 L331.7 914.1 L333.7 916.2 L335.7 921.2 L337.7 912.4 L339.7 911.6 L341.7 913.5 L343.7 918.7 L345.7 915.2 L347.7 919.9 L349.7 908.2 L351.7 918.1 L353.7 918.2 L355.7 909.6 L357.7 915.5 L359.7 919.8 L361.7 916.3 L363.7 918.2 L365.7 922.1 L367.7 914.6 L369.7 912.2 L371.7 911.2 L373.7 916.9 L375.7 914.7 L377.7 915.0 L379.7 915.7 L381.7 917.3 L383.7 911.7 L385.7 909.7 L387.7 905.9 L389.7 918.3 L391.7 914.0 L393.7 919.1 L395.7 914.7 L397.7 912.9 L399.7 916.9 L401.7 915.8 L403.7 910.5 L405.7 911.1 L407.7 919.6 L409.7 914.8 L411.7 914.3 L413.7 912.6 L415.7 911.4 L417.7 917.5 L419.7 913.5 L421.7 910.1 L423.7 909.1 L425.7 898.1 L427.7 887.4 L429.7 872.8 L431.7 850.3 L433.7 827.0 L435.7 799.6 L437.7 772.0 L439.7 743.8 L441.7 710.0 L443.7 676.5 L445.7 652.4 L447.7 628.3 L449.7 607.7 L451.7 587.5 L453.7 577.0 L455.7 570.8 L457.7 571.6 L459.7 577.5 L461.7 583.3 L463.7 593.4 L465.7 599.7 L467.7 608.3 L469.7 619.7 L471.7 627.6 L473.7 641.4 L475.7 652.5 L477.7 668.3 L479.7 691.9 L481.7 734.1 L483.7 765.4 L485.7 789.3 L487.7 798.7 L489.7 786.7 L491.7 770.6 L493.7 753.5 L495.7 737.0 L497.7 719.9 L499.7 703.3 L501.7 686.2 L503.7 666.8 L505.7 635.9 L507.7 605.2 L509.7 582.8 L511.7 567.2 L513.7 555.2 L515.7 545.5 L517.7 536.0 L519.7 530.3 L521.7 533.8 L523.7 531.0 L525.7 540.0 L527.7 533.0 L529.7 534.3 L531.7 529.2 L533.7 528.8 L535.7 532.0 L537.7 530.2 L539.7 533.2 L541.7 526.2 L543.7 534.2 L545.7 529.1 L547.7 537.9 L549.7 531.3 L551.7 536.1 L553.7 528.0 L555.7 533.6 L557.7 529.1 L559.7 529.7 L561.7 532.0 L563.7 531.2 L565.7 533.7 L567.7 534.5 L569.7 534.8 L571.7 532.2 L573.7 527.0 L575.7 528.3 L577.7 531.1 L579.7 524.4 L581.7 533.8 L583.7 530.2 L585.7 530.7 L587.7 534.8 L589.7 534.6 L591.7 532.7 L593.7 530.2 L595.7 535.3 L597.7 535.5 L599.7 531.0 L601.7 538.1 L603.7 535.6 L605.7 526.2 L607.7 533.2 L609.7 527.5 L611.7 535.0 L613.7 533.3 L615.7 526.9 L617.7 527.8 L619.7 532.1 L621.7 531.5 L623.7 537.6 L625.7 535.3 L627.7 530.9 L629.7 533.4 L631.7 524.6 L633.7 532.6 L635.7 533.9 L637.7 530.3 L639.7 528.2 L641.7 532.7 L643.7 538.0 L645.7 532.9 L647.7 529.8 L649.7 538.8 L651.7 527.8 L653.7 535.3 L655.7 531.4 L657.7 536.3 L659.7 531.2 L661.7 538.2 L663.7 534.3 L665.7 527.7 L667.7 526.2 L669.7 530.7 L671.7 536.0 L673.7 532.2 L675.7 531.9 L677.7 531.5 L679.7 534.6 L681.7 533.5 L683.7 533.3 L685.7 528.7 L687.7 535.7 L689.7 536.3 L691.7 526.9 L693.7 539.2 L695.7 533.7 L697.7 529.4 L699.7 524.8 L701.7 533.9 L703.7 534.7 L705.7 531.0 L707.7 526.1 L709.7 535.9 L711.7 529.7 L713.7 529.3 L715.7 540.9 L717.7 539.9 L719.7 535.2 L721.7 530.7 L723.7 534.4 L725.7 523.9 L727.7 532.3 L729.7 529.9 L731.7 528.4 L733.7 526.7 L735.7 533.7 L737.7 531.8 L739.7 533.4 L741.7 535.0 L743.7 529.3 L745.7 528.2 L747.7 525.9 L749.7 530.5 L751.7 534.3 L753.7 531.5 L755.7 534.4 L757.7 528.5 L759.7 530.7 L761.7 529.4 L763.7 528.8 L765.7 538.6 L767.7 535.5 L769.7 529.2 L771.7 529.1 L773.7 530.8 L775.7 526.4 L777.7 533.1 L779.7 527.7 L781.7 531.8 L783.7 529.9 L785.7 532.9 L787.7 529.1 L789.7 528.6 L791.7 530.3 L793.7 531.2 L795.7 531.0 L797.7 533.0 L799.7 537.0 L801.7 534.1 L803.7 530.3 L805.7 533.4 L807.7 528.4 L809.7 536.5 L811.7 533.7 L813.7 527.6 L815.7 535.0 L817.7 534.9 L819.7 522.6 L821.7 530.2 L823.7 530.9 L825.7 525.8 L827.7 528.4 L829.7 529.3 L831.7 532.8 L833.7 531.9 L835.7 540.0 L837.7 529.2 L839.7 533.7 L841.7 531.2 L843.7 532.1 L845.7 527.0 L847.7 525.7 L849.7 530.0 L851.7 535.6 L853.7 538.0 L855.7 534.9 L857.7 534.3 L859.7 529.5 L861.7 536.8 L863.7 536.4 L865.7 529.9 L867.7 530.9 L869.7 527.5 L871.7 535.2 L873.7 531.3 L875.7 529.6 L877.7 532.2 L879.7 532.8 L881.7 530.1 L883.7 527.8 L885.7 528.2 L887.7 526.4 L889.7 532.9 L891.7 538.4 L893.7 525.3 L895.7 531.6 L897.7 532.6 L899.7 528.1 L901.7 533.6 L903.7 529.4 L905.7 536.8 L907.7 530.5 L909.7 532.5 L911.7 534.2 L913.7 529.3 L915.7 524.9 L917.7 529.6 L919.7 534.8 L921.7 532.2 L923.7 533.8 L925.7 529.3 L927.7 533.5 L929.7 535.6 L931.7 532.4 L933.7 539.4 L935.7 532.2 L937.7 528.9 L939.7 526.8 L941.7 536.4 L943.7 532.7 L945.7 536.3 L947.7 534.4 L949.7 538.0 L951.7 536.2 L953.7 528.9 L955.7 531.2 L957.7 534.1 L959.7 526.2 L961.7 535.2 L963.7 535.0 L965.7 534.0 L967.7 529.4 L969.7 531.6 L971.7 527.4 L973.7 531.6 L975.7 529.9 L977.7 532.4 L979.7 530.9 L981.7 533.1 L983.7 536.3 L985.7 527.8 L987.7 535.6 L989.7 525.3 L991.7 524.6 L993.7 530.7 L995.7 530.8 L997.7 532.1 L999.7 525.1 L1001.7 531.0 L1003.7 532.5 L1005.7 536.5 L1007.7 532.3 L1009.7 534.2 L1011.7 529.0 L1013.7 531.2 L1015.7 531.0 L1017.7 534.1 L1019.7 528.3 L1021.7 529.3 L1023.7 534.5 L1025.7 538.4 L1027.7 534.5 L1029.7 533.8 L1031.7 531.1 L1033.7 535.2 L1035.7 533.2 L1037.7 537.6 L1039.7 533.2 L1041.7 529.2 L1043.7 530.8 L1045.7 528.4 L1047.7 526.8 L1049.7 534.9 L1051.7 532.9 L1053.7 526.2 L1055.7 537.3 L1057.7 532.8 L1059.7 529.2 L1061.7 534.1 L1063.7 532.6 L1065.7 530.2 L1067.7 524.5 L1069.7 531.1 L1071.7 532.2 L1073.7 521.8 L1075.7 532.3 L1077.7 534.0 L1079.7 529.9 L1081.7 531.4 L1083.7 530.6 L1085.7 528.7 L1087.7 529.3 L1089.7 536.0 L1091.7 526.4 L1093.7 532.3 L1095.7 532.3 L1097.7 529.7 L1099.7 530.5 L1101.7 527.2 L1103.7 528.5 L1105.7 530.6 L1107.7 531.8 L1109.7 527.9 L1111.7 541.6 L1113.7 529.6 L1115.7 532.3 L1117.7 531.0 L1119.7 530.4 L1121.7 535.5 L1123.7 530.3 L1125.7 536.7 L1127.7 537.1 L1129.7 529.8 L1131.7 537.3 L1133.7 531.0 L1135.7 542.7 L1137.7 531.6 L1139.7 535.1 L1141.7 538.7 L1143.7 543.9 L1145.7 549.3 L1147.7 552.9 L1149.7 557.6 L1151.7 568.9 L1153.7 580.8 L1155.7 593.5 L1157.7 604.7 L1159.7 622.2 L1161.7 638.5 L1163.7 657.1 L1165.7 680.0 L1167.7 702.4 L1169.7 722.4 L1171.7 741.3 L1173.7 766.5 L1175.7 797.3 L1177.7 829.2 L1179.7 854.7 L1181.7 868.4 L1183.7 882.6 L1185.7 903.4 L1187.7 898.0 L1189.7 891.4 L1191.7 885.0 L1193.7 883.5 L1195.7 876.6 L1197.7 877.2 L1199.7 867.2 L1201.7 873.4 L1203.7 871.2 L1205.7 874.2 L1207.7 879.0 L1209.7 887.0 L1211.7 897.1 L1213.7 904.3 L1215.7 909.0 L1217.7 911.3 L1219.7 913.2 L1221.7 913.5 L1223.7 912.0 L1225.7 911.8 L1227.7 910.0 L1229.7 911.6 L1231.7 912.4 L1233.7 916.6 L1235.7 912.2 L1237.7 909.9 L1239.7 915.7 L1241.7 909.9 L1243.7 910.9 L1245.7 913.2 L1247.7 915.5 L1249.7 906.2 L1251.7 911.0 L1253.7 915.5 L1255.7 914.7 L1257.7 912.6 L1259.7 914.2 L1261.7 921.2 L1263.7 914.6 L1265.7 917.9 L1267.7 917.8 L1269.7 912.8 L1271.7 915.4 L1273.7 912.3 L1275.7 912.1 L1277.7 910.2 L1279.7 917.2 L1281.7 912.5 L1283.7 911.9 L1285.7 909.9 L1287.7 919.9 L1289.7 916.8 L1291.7 913.8 L1293.7 911.8 L1295.7 908.9 L1297.7 915.5 L1299.7 915.4 L1301.7 909.9 L1303.7 918.7 L1305.7 916.9 L1307.7 910.4 L1309.7 911.2 L1311.7 911.6 L1313.7 913.8 L1315.7 912.3 L1317.7 908.3 L1319.7 919.4 L1321.7 914.9 L1323.7 917.6 L1325.7 918.4 L1327.7 912.3 L1329.7 913.7 L1331.7 915.5 L1333.7 916.0 L1335.7 912.6 L1337.7 911.9 L1339.7 914.1 L1341.7 911.1 L1343.7 912.8 L1345.7 907.3 L1347.7 914.1 L1349.7 910.7 L1351.7 912.2 L1353.7 913.6 L1355.7 915.5 L1357.7 921.3 L1359.7 914.5 L1361.7 909.7 L1363.7 914.9 L1365.7 912.1 L1367.7 915.8 L1369.7 913.2 L1371.7 913.0 L1373.7 914.0 L1375.7 913.9 L1377.7 908.9 L1379.7 912.8 L1381.7 914.1 L1383.7 917.2 L1385.7 911.8 L1387.7 911.6 L1389.7 915.3 L1391.7 916.0 L1393.7 919.6 L1395.7 916.9 L1397.7 914.5 L1399.7 918.4 L1401.7 918.6 L1403.7 912.6 L1405.7 914.6 L1407.7 909.2 L1409.7 914.5 L1411.7 913.1 L1413.7 915.4 L1415.7 913.9 L1417.7 914.1 L1419.7 913.7 L1421.7 915.8 L1423.7 914.4 L1425.7 912.4 L1427.7 910.9 L1429.7 919.8 L1431.7 920.5 L1433.7 913.7 L1435.7 917.2 L1437.7 909.5 L1439.7 909.1 L1441.7 912.6 L1443.7 919.0 L1445.7 909.4 L1447.7 911.1 L1449.7 918.9 L1451.7 907.6 L1453.7 916.0 L1455.7 915.8 L1457.7 913.3 L1459.7 915.0 L1461.7 923.8 L1463.7 910.7 L1465.7 913.5 L1467.7 912.4 L1469.7 911.3 L1471.7 908.9 L1473.7 919.3 L1475.7 914.9 L1477.7 908.6 L1479.7 912.9 L1481.7 916.6 L1483.7 915.8 L1485.7 909.5 L1487.7 913.4 L1489.7 914.3 L1491.7 915.2 L1493.7 916.6 L1495.7 909.1 L1497.7 922.4 L1499.7 915.7 L1501.7 920.5 L1503.7 923.2 L1505.7 912.8 L1507.7 909.1 L1509.7 916.7 L1511.7 913.3 L1513.7 913.4 L1515.7 911.6 L1517.7 921.1 L1519.7 913.5 L1521.7 909.4 L1523.7 911.6 L1525.7 909.5 L1527.7 914.0 L1529.7 912.9 L1531.7 911.4 L1533.7 917.3 L1535.7 912.2 L1537.7 916.6 L1539.7 917.5 L1541.7 912.6 L1543.7 911.9 L1545.7 915.1 L1547.7 918.4 L1549.7 915.8 L1551.7 915.7 L1553.7 915.0 L1555.7 916.4 L1557.7 916.5 L1559.7 912.4 L1561.7 913.5 L1563.7 914.8 L1565.7 911.4 L1567.7 914.8 L1569.7 916.0 L1571.7 913.9 L1573.7 912.3 L1575.7 913.2 L1577.7 922.0 L1579.7 918.5 L1581.7 911.6 L1583.7 912.5 L1585.7 920.4 L1587.7 918.3 L1589.7 914.3 L1591.7 917.0 L1593.7 907.7 L1595.7 913.9 L1597.7 916.6 L1599.7 907.7 L1601.7 911.4 L1603.7 917.0 L1605.7 917.7 L1607.7 911.9 L1609.7 914.8 L1611.7 920.4 L1613.7 913.9 L1615.7 910.0 L1617.7 913.9 L1619.7 912.7 L1621.7 918.3 L1623.7 914.1 L1625.7 911.3 L1627.7 922.5 L1629.7 912.4 L1631.7 914.8 L1633.7 915.7 L1635.7 916.6 L1637.7 914.7 L1639.7 916.3 L1641.7 914.6 L1643.7 909.6 L1645.7 913.6 L1647.7 913.8 L1649.7 914.1 L1651.7 914.4 L1653.7 913.1 L1655.7 918.1 L1657.7 918.3 L1659.7 905.0 L1661.7 913.4 L1663.7 910.2 L1665.7 905.0" fill="none" stroke="#0000ff" stroke-width="6" stroke-dasharray="24 11 4 11" stroke-linejoin="round" stroke-linecap="round"/><path d="M251 912h6v6h-6zM253 909h6v6h-6zM255 910h6v6h-6zM257 903h6v6h-6zM259 918h6v6h-6zM261 916h6v6h-6zM263 912h6v6h-6zM265 915h6v6h-6zM267 913h6v6h-6zM269 910h6v6h-6zM271 914h6v6h-6zM273 910h6v6h-6zM275 910h6v6h-6zM277 909h6v6h-6zM279 914h6v6h-6zM281 913h6v6h-6zM283 915h6v6h-6zM285 910h6v6h-6zM287 912h6v6h-6zM289 908h6v6h-6zM291 913h6v6h-6zM293 911h6v6h-6zM295 912h6v6h-6zM297 912h6v6h-6zM299 907h6v6h-6zM301 913h6v6h-6zM303 917h6v6h-6zM305 905h6v6h-6zM307 905h6v6h-6zM309 905h6v6h-6zM311 913h6v6h-6zM313 912h6v6h-6zM315 914h6v6h-6zM317 913h6v6h-6zM319 911h6v6h-6zM321 911h6v6h-6zM323 910h6v6h-6zM325 915h6v6h-6zM327 908h6v6h-6zM329 911h6v6h-6zM331 913h6v6h-6zM333 918h6v6h-6zM335 909h6v6h-6zM337 909h6v6h-6zM339 910h6v6h-6zM341 916h6v6h-6zM343 912h6v6h-6zM345 917h6v6h-6zM347 905h6v6h-6zM349 915h6v6h-6zM351 915h6v6h-6zM353 907h6v6h-6zM355 912h6v6h-6zM357 917h6v6h-6zM359 913h6v6h-6zM361 915h6v6h-6zM363 919h6v6h-6zM365 912h6v6h-6zM367 909h6v6h-6zM369 908h6v6h-6zM371 914h6v6h-6zM373 912h6v6h-6zM375 912h6v6h-6zM377 913h6v6h-6zM379 914h6v6h-6zM381 909h6v6h-6zM383 907h6v6h-6zM385 903h6v6h-6zM387 915h6v6h-6zM389 911h6v6h-6zM391 916h6v6h-6zM393 912h6v6h-6zM395 910h6v6h-6zM397 914h6v6h-6zM399 913h6v6h-6zM401 908h6v6h-6zM403 908h6v6h-6zM405 917h6v6h-6zM407 912h6v6h-6zM409 911h6v6h-6zM411 910h6v6h-6zM413 908h6v6h-6zM415 915h6v6h-6zM417 911h6v6h-6zM419 907h6v6h-6zM421 906h6v6h-6zM423 895h6v6h-6zM425 884h6v6h-6zM427 870h6v6h-6zM429 847h6v6h-6zM431 824h6v6h-6zM433 797h6v6h-6zM435 769h6v6h-6zM437 741h6v6h-6zM439 707h6v6h-6zM441 673h6v6h-6zM443 649h6v6h-6zM445 625h6v6h-6zM447 605h6v6h-6zM449 585h6v6h-6zM451 574h6v6h-6zM453 568h6v6h-6zM455 569h6v6h-6zM457 574h6v6h-6zM459 580h6v6h-6zM461 590h6v6h-6zM463 597h6v6h-6zM465 605h6v6h-6zM467 617h6v6h-6zM469 625h6v6h-6zM471 638h6v6h-6zM473 649h6v6h-6zM475 665h6v6h-6zM477 689h6v6h-6zM479 731h6v6h-6zM481 762h6v6h-6zM483 786h6v6h-6zM485 796h6v6h-6zM487 784h6v6h-6zM489 768h6v6h-6zM491 751h6v6h-6zM493 734h6v6h-6zM495 717h6v6h-6zM497 700h6v6h-6zM499 683h6v6h-6zM501 664h6v6h-6zM503 633h6v6h-6zM505 602h6v6h-6zM507 580h6v6h-6zM509 564h6v6h-6zM511 552h6v6h-6zM513 542h6v6h-6zM515 533h6v6h-6zM517 527h6v6h-6zM519 531h6v6h-6zM521 528h6v6h-6zM523 537h6v6h-6zM525 530h6v6h-6zM527 531h6v6h-6zM529 526h6v6h-6zM531 526h6v6h-6zM533 529h6v6h-6zM535 527h6v6h-6zM537 530h6v6h-6zM539 523h6v6h-6zM541 531h6v6h-6zM543 526h6v6h-6zM545 535h6v6h-6zM547 528h6v6h-6zM549 533h6v6h-6zM551 525h6v6h-6zM553 531h6v6h-6zM555 526h6v6h-6zM557 527h6v6h-6zM559 529h6v6h-6zM561 528h6v6h-6zM563 531h6v6h-6zM565 532h6v6h-6zM567 532h6v6h-6zM569 529h6v6h-6zM571 524h6v6h-6zM573 525h6v6h-6zM575 528h6v6h-6zM577 521h6v6h-6zM579 531h6v6h-6zM581 527h6v6h-6zM583 528h6v6h-6zM585 532h6v6h-6zM587 532h6v6h-6zM589 530h6v6h-6zM591 527h6v6h-6zM593 532h6v6h-6zM595 532h6v6h-6zM597 528h6v6h-6zM599 535h6v6h-6zM601 533h6v6h-6zM603 523h6v6h-6zM605 530h6v6h-6zM607 524h6v6h-6zM609 532h6v6h-6zM611 530h6v6h-6zM613 524h6v6h-6zM615 525h6v6h-6zM617 529h6v6h-6zM619 528h6v6h-6zM621 535h6v6h-6zM623 532h6v6h-6zM625 528h6v6h-6zM627 530h6v6h-6zM629 522h6v6h-6zM631 530h6v6h-6zM633 531h6v6h-6zM635 527h6v6h-6zM637 525h6v6h-6zM639 530h6v6h-6zM641 535h6v6h-6zM643 530h6v6h-6zM645 527h6v6h-6zM647 536h6v6h-6zM649 525h6v6h-6zM651 532h6v6h-6zM653 528h6v6h-6zM655 533h6v6h-6zM657 528h6v6h-6zM659 535h6v6h-6zM661 531h6v6h-6zM663 525h6v6h-6zM665 523h6v6h-6zM667 528h6v6h-6zM669 533h6v6h-6zM671 529h6v6h-6zM673 529h6v6h-6zM675 528h6v6h-6zM677 532h6v6h-6zM679 530h6v6h-6zM681 530h6v6h-6zM683 526h6v6h-6zM685 533h6v6h-6zM687 533h6v6h-6zM689 524h6v6h-6zM691 536h6v6h-6zM693 531h6v6h-6zM695 526h6v6h-6zM697 522h6v6h-6zM699 531h6v6h-6zM701 532h6v6h-6zM703 528h6v6h-6zM705 523h6v6h-6zM707 533h6v6h-6zM709 527h6v6h-6zM711 526h6v6h-6zM713 538h6v6h-6zM715 537h6v6h-6zM717 532h6v6h-6zM719 528h6v6h-6zM721 531h6v6h-6zM723 521h6v6h-6zM725 529h6v6h-6zM727 527h6v6h-6zM729 525h6v6h-6zM731 524h6v6h-6zM733 531h6v6h-6zM735 529h6v6h-6zM737 530h6v6h-6zM739 532h6v6h-6zM741 526h6v6h-6zM743 525h6v6h-6zM745 523h6v6h-6zM747 528h6v6h-6zM749 531h6v6h-6zM751 528h6v6h-6zM753 531h6v6h-6zM755 526h6v6h-6zM757 528h6v6h-6zM759 526h6v6h-6zM761 526h6v6h-6zM763 536h6v6h-6zM765 532h6v6h-6zM767 526h6v6h-6zM769 526h6v6h-6zM771 528h6v6h-6zM773 523h6v6h-6zM775 530h6v6h-6zM777 525h6v6h-6zM779 529h6v6h-6zM781 527h6v6h-6zM783 530h6v6h-6zM785 526h6v6h-6zM787 526h6v6h-6zM789 527h6v6h-6zM791 528h6v6h-6zM793 528h6v6h-6zM795 530h6v6h-6zM797 534h6v6h-6zM799 531h6v6h-6zM801 527h6v6h-6zM803 530h6v6h-6zM805 525h6v6h-6zM807 533h6v6h-6zM809 531h6v6h-6zM811 525h6v6h-6zM813 532h6v6h-6zM815 532h6v6h-6zM817 520h6v6h-6zM819 527h6v6h-6zM821 528h6v6h-6zM823 523h6v6h-6zM825 525h6v6h-6zM827 526h6v6h-6zM829 530h6v6h-6zM831 529h6v6h-6zM833 537h6v6h-6zM835 526h6v6h-6zM837 531h6v6h-6zM839 528h6v6h-6zM841 529h6v6h-6zM843 524h6v6h-6zM845 523h6v6h-6zM847 527h6v6h-6zM849 533h6v6h-6zM851 535h6v6h-6zM853 532h6v6h-6zM855 531h6v6h-6zM857 526h6v6h-6zM859 534h6v6h-6zM861 533h6v6h-6zM863 527h6v6h-6zM865 528h6v6h-6zM867 524h6v6h-6zM869 532h6v6h-6zM871 528h6v6h-6zM873 527h6v6h-6zM875 529h6v6h-6zM877 530h6v6h-6zM879 527h6v6h-6zM881 525h6v6h-6zM883 525h6v6h-6zM885 523h6v6h-6zM887 530h6v6h-6zM889 535h6v6h-6zM891 522h6v6h-6zM893 529h6v6h-6zM895 530h6v6h-6zM897 525h6v6h-6zM899 531h6v6h-6zM901 526h6v6h-6zM903 534h6v6h-6zM905 527h6v6h-6zM907 529h6v6h-6zM909 531h6v6h-6zM911 526h6v6h-6zM913 522h6v6h-6zM915 527h6v6h-6zM917 532h6v6h-6zM919 529h6v6h-6zM921 531h6v6h-6zM923 526h6v6h-6zM925 531h6v6h-6zM927 533h6v6h-6zM929 529h6v6h-6zM931 536h6v6h-6zM933 529h6v6h-6zM935 526h6v6h-6zM937 524h6v6h-6zM939 533h6v6h-6zM941 530h6v6h-6zM943 533h6v6h-6zM945 531h6v6h-6zM947 535h6v6h-6zM949 533h6v6h-6zM951 526h6v6h-6zM953 528h6v6h-6zM955 531h6v6h-6zM957 523h6v6h-6zM959 532h6v6h-6zM961 532h6v6h-6zM963 531h6v6h-6zM965 526h6v6h-6zM967 529h6v6h-6zM969 524h6v6h-6zM971 529h6v6h-6zM973 527h6v6h-6zM975 529h6v6h-6zM977 528h6v6h-6zM979 530h6v6h-6zM981 533h6v6h-6zM983 525h6v6h-6zM985 533h6v6h-6zM987 522h6v6h-6zM989 522h6v6h-6zM991 528h6v6h-6zM993 528h6v6h-6zM995 529h6v6h-6zM997 522h6v6h-6zM999 528h6v6h-6zM1001 529h6v6h-6zM1003 534h6v6h-6zM1005 529h6v6h-6zM1007 531h6v6h-6zM1009 526h6v6h-6zM1011 528h6v6h-6zM1013 528h6v6h-6zM1015 531h6v6h-6zM1017 525h6v6h-6zM1019 526h6v6h-6zM1021 531h6v6h-6zM1023 535h6v6h-6zM1025 532h6v6h-6zM1027 531h6v6h-6zM1029 528h6v6h-6zM1031 532h6v6h-6zM1033 530h6v6h-6zM1035 535h6v6h-6zM1037 530h6v6h-6zM1039 526h6v6h-6zM1041 528h6v6h-6zM1043 525h6v6h-6zM1045 524h6v6h-6zM1047 532h6v6h-6zM1049 530h6v6h-6zM1051 523h6v6h-6zM1053 534h6v6h-6zM1055 530h6v6h-6zM1057 526h6v6h-6zM1059 531h6v6h-6zM1061 530h6v6h-6zM1063 527h6v6h-6zM1065 522h6v6h-6zM1067 528h6v6h-6zM1069 529h6v6h-6zM1071 519h6v6h-6zM1073 529h6v6h-6zM1075 531h6v6h-6zM1077 527h6v6h-6zM1079 528h6v6h-6zM1081 528h6v6h-6zM1083 526h6v6h-6zM1085 526h6v6h-6zM1087 533h6v6h-6zM1089 523h6v6h-6zM1091 529h6v6h-6zM1093 529h6v6h-6zM1095 527h6v6h-6zM1097 528h6v6h-6zM1099 524h6v6h-6zM1101 525h6v6h-6zM1103 528h6v6h-6zM1105 529h6v6h-6zM1107 525h6v6h-6zM1109 539h6v6h-6zM1111 527h6v6h-6zM1113 529h6v6h-6zM1115 528h6v6h-6zM1117 527h6v6h-6zM1119 532h6v6h-6zM1121 527h6v6h-6zM1123 534h6v6h-6zM1125 534h6v6h-6zM1127 527h6v6h-6zM1129 534h6v6h-6zM1131 528h6v6h-6zM1133 540h6v6h-6zM1135 529h6v6h-6zM1137 532h6v6h-6zM1139 536h6v6h-6zM1141 541h6v6h-6zM1143 546h6v6h-6zM1145 550h6v6h-6zM1147 555h6v6h-6zM1149 566h6v6h-6zM1151 578h6v6h-6zM1153 590h6v6h-6zM1155 602h6v6h-6zM1157 619h6v6h-6zM1159 636h6v6h-6zM1161 654h6v6h-6zM1163 677h6v6h-6zM1165 699h6v6h-6zM1167 719h6v6h-6zM1169 738h6v6h-6zM1171 764h6v6h-6zM1173 794h6v6h-6zM1175 826h6v6h-6zM1177 852h6v6h-6zM1179 865h6v6h-6zM1181 880h6v6h-6zM1183 900h6v6h-6zM1185 895h6v6h-6zM1187 888h6v6h-6zM1189 882h6v6h-6zM1191 881h6v6h-6zM1193 874h6v6h-6zM1195 874h6v6h-6zM1197 864h6v6h-6zM1199 870h6v6h-6zM1201 868h6v6h-6zM1203 871h6v6h-6zM1205 876h6v6h-6zM1207 884h6v6h-6zM1209 894h6v6h-6zM1211 901h6v6h-6zM1213 906h6v6h-6zM1215 908h6v6h-6zM1217 910h6v6h-6zM1219 911h6v6h-6zM1221 909h6v6h-6zM1223 909h6v6h-6zM1225 907h6v6h-6zM1227 909h6v6h-6zM1229 909h6v6h-6zM1231 914h6v6h-6zM1233 909h6v6h-6zM1235 907h6v6h-6zM1237 913h6v6h-6zM1239 907h6v6h-6zM1241 908h6v6h-6zM1243 910h6v6h-6zM1245 912h6v6h-6zM1247 903h6v6h-6zM1249 908h6v6h-6zM1251 913h6v6h-6zM1253 912h6v6h-6zM1255 910h6v6h-6zM1257 911h6v6h-6zM1259 918h6v6h-6zM1261 912h6v6h-6zM1263 915h6v6h-6zM1265 915h6v6h-6zM1267 910h6v6h-6zM1269 912h6v6h-6zM1271 909h6v6h-6zM1273 909h6v6h-6zM1275 907h6v6h-6zM1277 914h6v6h-6zM1279 909h6v6h-6zM1281 909h6v6h-6zM1283 907h6v6h-6zM1285 917h6v6h-6zM1287 914h6v6h-6zM1289 911h6v6h-6zM1291 909h6v6h-6zM1293 906h6v6h-6zM1295 912h6v6h-6zM1297 912h6v6h-6zM1299 907h6v6h-6zM1301 916h6v6h-6zM1303 914h6v6h-6zM1305 907h6v6h-6zM1307 908h6v6h-6zM1309 909h6v6h-6zM1311 911h6v6h-6zM1313 909h6v6h-6zM1315 905h6v6h-6zM1317 916h6v6h-6zM1319 912h6v6h-6zM1321 915h6v6h-6zM1323 915h6v6h-6zM1325 909h6v6h-6zM1327 911h6v6h-6zM1329 913h6v6h-6zM1331 913h6v6h-6zM1333 910h6v6h-6zM1335 909h6v6h-6zM1337 911h6v6h-6zM1339 908h6v6h-6zM1341 910h6v6h-6zM1343 904h6v6h-6zM1345 911h6v6h-6zM1347 908h6v6h-6zM1349 909h6v6h-6zM1351 911h6v6h-6zM1353 912h6v6h-6zM1355 918h6v6h-6zM1357 911h6v6h-6zM1359 907h6v6h-6zM1361 912h6v6h-6zM1363 909h6v6h-6zM1365 913h6v6h-6zM1367 910h6v6h-6zM1369 910h6v6h-6zM1371 911h6v6h-6zM1373 911h6v6h-6zM1375 906h6v6h-6zM1377 910h6v6h-6zM1379 911h6v6h-6zM1381 914h6v6h-6zM1383 909h6v6h-6zM1385 909h6v6h-6zM1387 912h6v6h-6zM1389 913h6v6h-6zM1391 917h6v6h-6zM1393 914h6v6h-6zM1395 911h6v6h-6zM1397 915h6v6h-6zM1399 916h6v6h-6zM1401 910h6v6h-6zM1403 912h6v6h-6zM1405 906h6v6h-6zM1407 912h6v6h-6zM1409 910h6v6h-6zM1411 912h6v6h-6zM1413 911h6v6h-6zM1415 911h6v6h-6zM1417 911h6v6h-6zM1419 913h6v6h-6zM1421 911h6v6h-6zM1423 909h6v6h-6zM1425 908h6v6h-6zM1427 917h6v6h-6zM1429 917h6v6h-6zM1431 911h6v6h-6zM1433 914h6v6h-6zM1435 906h6v6h-6zM1437 906h6v6h-6zM1439 910h6v6h-6zM1441 916h6v6h-6zM1443 906h6v6h-6zM1445 908h6v6h-6zM1447 916h6v6h-6zM1449 905h6v6h-6zM1451 913h6v6h-6zM1453 913h6v6h-6zM1455 910h6v6h-6zM1457 912h6v6h-6zM1459 921h6v6h-6zM1461 908h6v6h-6zM1463 910h6v6h-6zM1465 909h6v6h-6zM1467 908h6v6h-6zM1469 906h6v6h-6zM1471 916h6v6h-6zM1473 912h6v6h-6zM1475 906h6v6h-6zM1477 910h6v6h-6zM1479 914h6v6h-6zM1481 913h6v6h-6zM1483 906h6v6h-6zM1485 910h6v6h-6zM1487 911h6v6h-6zM1489 912h6v6h-6zM1491 914h6v6h-6zM1493 906h6v6h-6zM1495 919h6v6h-6zM1497 913h6v6h-6zM1499 917h6v6h-6zM1501 920h6v6h-6zM1503 910h6v6h-6zM1505 906h6v6h-6zM1507 914h6v6h-6zM1509 910h6v6h-6zM1511 910h6v6h-6zM1513 909h6v6h-6zM1515 918h6v6h-6zM1517 911h6v6h-6zM1519 906h6v6h-6zM1521 909h6v6h-6zM1523 906h6v6h-6zM1525 911h6v6h-6zM1527 910h6v6h-6zM1529 908h6v6h-6zM1531 914h6v6h-6zM1533 909h6v6h-6zM1535 914h6v6h-6zM1537 914h6v6h-6zM1539 910h6v6h-6zM1541 909h6v6h-6zM1543 912h6v6h-6zM1545 915h6v6h-6zM1547 913h6v6h-6zM1549 913h6v6h-6zM1551 912h6v6h-6zM1553 913h6v6h-6zM1555 914h6v6h-6zM1557 909h6v6h-6zM1559 910h6v6h-6zM1561 912h6v6h-6zM1563 908h6v6h-6zM1565 912h6v6h-6zM1567 913h6v6h-6zM1569 911h6v6h-6zM1571 909h6v6h-6zM1573 910h6v6h-6zM1575 919h6v6h-6zM1577 916h6v6h-6zM1579 909h6v6h-6zM1581 909h6v6h-6zM1583 917h6v6h-6zM1585 915h6v6h-6zM1587 911h6v6h-6zM1589 914h6v6h-6zM1591 905h6v6h-6zM1593 911h6v6h-6zM1595 914h6v6h-6zM1597 905h6v6h-6zM1599 908h6v6h-6zM1601 914h6v6h-6zM1603 915h6v6h-6zM1605 909h6v6h-6zM1607 912h6v6h-6zM1609 917h6v6h-6zM1611 911h6v6h-6zM1613 907h6v6h-6zM1615 911h6v6h-6zM1617 910h6v6h-6zM1619 915h6v6h-6zM1621 911h6v6h-6zM1623 908h6v6h-6zM1625 920h6v6h-6zM1627 909h6v6h-6zM1629 912h6v6h-6zM1631 913h6v6h-6zM1633 914h6v6h-6zM1635 912h6v6h-6zM1637 913h6v6h-6zM1639 912h6v6h-6zM1641 907h6v6h-6zM1643 911h6v6h-6zM1645 911h6v6h-6zM1647 911h6v6h-6zM1649 911h6v6h-6zM1651 910h6v6h-6zM1653 915h6v6h-6zM1655 915h6v6h-6zM1657 902h6v6h-6zM1659 910h6v6h-6zM1661 907h6v6h-6zM1663 902h6v6h-6z" fill="#0000ff"/><path d="M257 912h2v2h-2zM259 905h2v2h-2zM263 918h2v2h-2zM265 914h2v2h-2zM271 912h2v2h-2zM273 916h2v2h-2zM279 911h2v2h-2zM285 917h2v2h-2zM289 914h2v2h-2zM291 910h2v2h-2zM299 914h2v2h-2zM301 909h2v2h-2zM303 915h2v2h-2zM305 919h2v2h-2zM311 907h2v2h-2zM325 912h2v2h-2zM327 917h2v2h-2zM329 910h2v2h-2zM333 915h2v2h-2zM335 920h2v2h-2zM341 912h2v2h-2zM343 918h2v2h-2zM345 914h2v2h-2zM347 919h2v2h-2zM349 907h2v2h-2zM353 917h2v2h-2zM355 909h2v2h-2zM357 914h2v2h-2zM359 919h2v2h-2zM363 917h2v2h-2zM365 921h2v2h-2zM371 910h2v2h-2zM381 916h2v2h-2zM385 909h2v2h-2zM387 905h2v2h-2zM389 917h2v2h-2zM391 913h2v2h-2zM393 918h2v2h-2zM397 912h2v2h-2zM401 915h2v2h-2zM405 910h2v2h-2zM407 919h2v2h-2zM415 910h2v2h-2zM417 917h2v2h-2zM419 913h2v2h-2zM423 908h2v2h-2zM425 897h2v2h-2zM427 886h2v2h-2zM429 872h2v2h-2zM431 849h2v2h-2zM433 826h2v2h-2zM435 799h2v2h-2zM437 771h2v2h-2zM439 743h2v2h-2zM441 709h2v2h-2zM443 675h2v2h-2zM445 651h2v2h-2zM447 627h2v2h-2zM449 607h2v2h-2zM451 587h2v2h-2zM453 576h2v2h-2zM457 571h2v2h-2zM459 576h2v2h-2zM461 582h2v2h-2zM463 592h2v2h-2zM465 599h2v2h-2zM467 607h2v2h-2zM469 619h2v2h-2zM471 627h2v2h-2zM473 640h2v2h-2zM475 651h2v2h-2zM477 667h2v2h-2zM479 691h2v2h-2zM481 733h2v2h-2zM483 764h2v2h-2zM485 788h2v2h-2zM487 798h2v2h-2zM489 786h2v2h-2zM491 770h2v2h-2zM493 753h2v2h-2zM495 736h2v2h-2zM497 719h2v2h-2zM499 702h2v2h-2zM501 685h2v2h-2zM503 666h2v2h-2zM505 635h2v2h-2zM507 604h2v2h-2zM509 582h2v2h-2zM511 566h2v2h-2zM513 554h2v2h-2zM515 544h2v2h-2zM517 535h2v2h-2zM519 529h2v2h-2zM523 530h2v2h-2zM525 539h2v2h-2zM529 533h2v2h-2zM533 528h2v2h-2zM539 532h2v2h-2zM541 525h2v2h-2zM543 533h2v2h-2zM545 528h2v2h-2zM547 537h2v2h-2zM549 530h2v2h-2zM551 535h2v2h-2zM553 527h2v2h-2zM555 533h2v2h-2zM571 531h2v2h-2zM577 530h2v2h-2zM579 523h2v2h-2zM581 533h2v2h-2zM585 530h2v2h-2zM593 529h2v2h-2zM597 534h2v2h-2zM599 530h2v2h-2zM603 535h2v2h-2zM605 525h2v2h-2zM607 532h2v2h-2zM609 526h2v2h-2zM613 532h2v2h-2zM617 527h2v2h-2zM621 530h2v2h-2zM625 534h2v2h-2zM629 532h2v2h-2zM631 524h2v2h-2zM635 533h2v2h-2zM639 527h2v2h-2zM641 532h2v2h-2zM643 537h2v2h-2zM645 532h2v2h-2zM647 529h2v2h-2zM649 538h2v2h-2zM651 527h2v2h-2zM653 534h2v2h-2zM655 530h2v2h-2zM657 535h2v2h-2zM659 530h2v2h-2zM661 537h2v2h-2zM663 533h2v2h-2zM667 525h2v2h-2zM669 530h2v2h-2zM671 535h2v2h-2zM677 530h2v2h-2zM683 532h2v2h-2zM685 528h2v2h-2zM689 535h2v2h-2zM691 526h2v2h-2zM693 538h2v2h-2zM695 533h2v2h-2zM697 528h2v2h-2zM699 524h2v2h-2zM703 534h2v2h-2zM705 530h2v2h-2zM707 525h2v2h-2zM709 535h2v2h-2zM713 528h2v2h-2zM717 539h2v2h-2zM719 534h2v2h-2zM721 530h2v2h-2zM723 533h2v2h-2zM725 523h2v2h-2zM733 526h2v2h-2zM741 534h2v2h-2zM747 525h2v2h-2zM749 530h2v2h-2zM755 533h2v2h-2zM763 528h2v2h-2zM765 538h2v2h-2zM767 534h2v2h-2zM773 530h2v2h-2zM775 525h2v2h-2zM777 532h2v2h-2zM779 527h2v2h-2zM783 529h2v2h-2zM785 532h2v2h-2zM797 532h2v2h-2zM801 533h2v2h-2zM803 529h2v2h-2zM805 532h2v2h-2zM807 527h2v2h-2zM811 533h2v2h-2zM813 527h2v2h-2zM817 534h2v2h-2zM819 522h2v2h-2zM823 530h2v2h-2zM829 528h2v2h-2zM833 531h2v2h-2zM835 539h2v2h-2zM837 528h2v2h-2zM843 531h2v2h-2zM847 525h2v2h-2zM849 529h2v2h-2zM853 537h2v2h-2zM857 533h2v2h-2zM859 528h2v2h-2zM863 535h2v2h-2zM867 530h2v2h-2zM869 526h2v2h-2zM871 534h2v2h-2zM887 525h2v2h-2zM889 532h2v2h-2zM891 537h2v2h-2zM893 524h2v2h-2zM897 532h2v2h-2zM899 527h2v2h-2zM901 533h2v2h-2zM903 528h2v2h-2zM905 536h2v2h-2zM911 533h2v2h-2zM913 528h2v2h-2zM915 524h2v2h-2zM917 529h2v2h-2zM923 533h2v2h-2zM925 528h2v2h-2zM929 535h2v2h-2zM931 531h2v2h-2zM933 538h2v2h-2zM935 531h2v2h-2zM939 526h2v2h-2zM941 535h2v2h-2zM943 532h2v2h-2zM947 533h2v2h-2zM951 535h2v2h-2zM957 533h2v2h-2zM959 525h2v2h-2zM965 533h2v2h-2zM969 531h2v2h-2zM971 526h2v2h-2zM981 532h2v2h-2zM983 535h2v2h-2zM985 527h2v2h-2zM987 535h2v2h-2zM991 524h2v2h-2zM997 531h2v2h-2zM999 524h2v2h-2zM1003 531h2v2h-2zM1005 536h2v2h-2zM1009 533h2v2h-2zM1015 530h2v2h-2zM1017 533h2v2h-2zM1021 528h2v2h-2zM1023 533h2v2h-2zM1025 537h2v2h-2zM1031 530h2v2h-2zM1035 532h2v2h-2zM1037 537h2v2h-2zM1039 532h2v2h-2zM1047 526h2v2h-2zM1051 532h2v2h-2zM1053 525h2v2h-2zM1055 536h2v2h-2zM1057 532h2v2h-2zM1059 528h2v2h-2zM1065 529h2v2h-2zM1067 524h2v2h-2zM1071 531h2v2h-2zM1073 521h2v2h-2zM1077 533h2v2h-2zM1087 528h2v2h-2zM1089 535h2v2h-2zM1091 525h2v2h-2zM1099 530h2v2h-2zM1107 531h2v2h-2zM1109 527h2v2h-2zM1111 541h2v2h-2zM1119 529h2v2h-2zM1121 534h2v2h-2zM1123 529h2v2h-2zM1127 536h2v2h-2zM1129 529h2v2h-2zM1131 536h2v2h-2zM1133 530h2v2h-2zM1135 542h2v2h-2zM1137 531h2v2h-2zM1139 534h2v2h-2zM1141 538h2v2h-2zM1143 543h2v2h-2zM1145 548h2v2h-2zM1147 552h2v2h-2zM1149 557h2v2h-2zM1151 568h2v2h-2zM1153 580h2v2h-2zM1155 592h2v2h-2zM1157 604h2v2h-2zM1159 621h2v2h-2zM1161 638h2v2h-2zM1163 656h2v2h-2zM1165 679h2v2h-2zM1167 701h2v2h-2zM1169 721h2v2h-2zM1171 740h2v2h-2zM1173 766h2v2h-2zM1175 796h2v2h-2zM1177 828h2v2h-2zM1179 854h2v2h-2zM1181 867h2v2h-2zM1183 882h2v2h-2zM1185 902h2v2h-2zM1187 897h2v2h-2zM1189 890h2v2h-2zM1193 883h2v2h-2zM1197 876h2v2h-2zM1199 866h2v2h-2zM1205 873h2v2h-2zM1207 878h2v2h-2zM1209 886h2v2h-2zM1211 896h2v2h-2zM1213 903h2v2h-2zM1231 911h2v2h-2zM1233 916h2v2h-2zM1237 909h2v2h-2zM1239 915h2v2h-2zM1247 914h2v2h-2zM1249 905h2v2h-2zM1251 910h2v2h-2zM1259 913h2v2h-2zM1261 920h2v2h-2zM1263 914h2v2h-2zM1267 917h2v2h-2zM1271 914h2v2h-2zM1277 909h2v2h-2zM1279 916h2v2h-2zM1285 909h2v2h-2zM1287 919h2v2h-2zM1295 908h2v2h-2zM1299 914h2v2h-2zM1301 909h2v2h-2zM1305 916h2v2h-2zM1315 911h2v2h-2zM1317 907h2v2h-2zM1319 918h2v2h-2zM1325 917h2v2h-2zM1333 915h2v2h-2zM1339 913h2v2h-2zM1343 912h2v2h-2zM1345 906h2v2h-2zM1347 913h2v2h-2zM1355 914h2v2h-2zM1357 920h2v2h-2zM1359 913h2v2h-2zM1361 909h2v2h-2zM1365 911h2v2h-2zM1375 913h2v2h-2zM1377 908h2v2h-2zM1381 913h2v2h-2zM1383 916h2v2h-2zM1387 911h2v2h-2zM1391 915h2v2h-2zM1397 913h2v2h-2zM1401 918h2v2h-2zM1405 914h2v2h-2zM1407 908h2v2h-2zM1427 910h2v2h-2zM1431 919h2v2h-2zM1433 913h2v2h-2zM1435 916h2v2h-2zM1439 908h2v2h-2zM1441 912h2v2h-2zM1443 918h2v2h-2zM1447 910h2v2h-2zM1449 918h2v2h-2zM1451 907h2v2h-2zM1459 914h2v2h-2zM1461 923h2v2h-2zM1471 908h2v2h-2zM1473 918h2v2h-2zM1475 914h2v2h-2zM1477 908h2v2h-2zM1479 912h2v2h-2zM1483 915h2v2h-2zM1485 908h2v2h-2zM1493 916h2v2h-2zM1495 908h2v2h-2zM1497 921h2v2h-2zM1499 915h2v2h-2zM1503 922h2v2h-2zM1505 912h2v2h-2zM1507 908h2v2h-2zM1509 916h2v2h-2zM1515 911h2v2h-2zM1517 920h2v2h-2zM1519 913h2v2h-2zM1525 908h2v2h-2zM1531 910h2v2h-2zM1533 916h2v2h-2zM1535 911h2v2h-2zM1539 916h2v2h-2zM1543 911h2v2h-2zM1545 914h2v2h-2zM1557 916h2v2h-2zM1563 914h2v2h-2zM1565 910h2v2h-2zM1575 912h2v2h-2zM1577 921h2v2h-2zM1579 918h2v2h-2zM1583 911h2v2h-2zM1587 917h2v2h-2zM1591 916h2v2h-2zM1593 907h2v2h-2zM1597 916h2v2h-2zM1599 907h2v2h-2zM1601 910h2v2h-2zM1605 917h2v2h-2zM1609 914h2v2h-2zM1611 919h2v2h-2zM1613 913h2v2h-2zM1615 909h2v2h-2zM1619 912h2v2h-2zM1621 917h2v2h-2zM1625 910h2v2h-2zM1627 922h2v2h-2zM1641 914h2v2h-2zM1643 909h2v2h-2zM1653 912h2v2h-2zM1657 917h2v2h-2zM1659 904h2v2h-2zM1661 912h2v2h-2zM1663 909h2v2h-2zM1665 904h2v2h-2z" fill="#fff"/></g><g clip-path="url(#pc)"><path d="M253.7 921.1 L255.7 904.8 L257.7 915.1 L259.7 911.8 L261.7 912.1 L263.7 912.8 L265.7 908.0 L267.7 912.7 L269.7 910.3 L271.7 925.3 L273.7 915.4 L275.7 912.9 L277.7 913.8 L279.7 913.2 L281.7 910.5 L283.7 912.9 L285.7 915.8 L287.7 913.5 L289.7 917.3 L291.7 913.3 L293.7 913.7 L295.7 918.8 L297.7 915.7 L299.7 912.0 L301.7 914.0 L303.7 916.6 L305.7 921.1 L307.7 913.6 L309.7 913.4 L311.7 917.5 L313.7 911.2 L315.7 913.6 L317.7 917.7 L319.7 916.5 L321.7 914.9 L323.7 916.5 L325.7 904.4 L327.7 918.2 L329.7 911.3 L331.7 908.5 L333.7 914.9 L335.7 916.2 L337.7 911.1 L339.7 909.2 L341.7 912.8 L343.7 913.2 L345.7 919.0 L347.7 917.5 L349.7 916.0 L351.7 919.3 L353.7 914.7 L355.7 911.3 L357.7 915.6 L359.7 915.3 L361.7 913.3 L363.7 911.7 L365.7 915.2 L367.7 907.3 L369.7 918.0 L371.7 916.4 L373.7 908.5 L375.7 914.1 L377.7 909.8 L379.7 916.7 L381.7 907.3 L383.7 911.2 L385.7 916.9 L387.7 918.4 L389.7 905.7 L391.7 911.4 L393.7 914.9 L395.7 912.1 L397.7 919.9 L399.7 910.6 L401.7 915.2 L403.7 910.6 L405.7 919.3 L407.7 913.6 L409.7 913.5 L411.7 908.7 L413.7 910.6 L415.7 904.9 L417.7 892.2 L419.7 879.3 L421.7 864.0 L423.7 848.5 L425.7 828.1 L427.7 800.7 L429.7 776.5 L431.7 750.1 L433.7 724.6 L435.7 699.0 L437.7 674.9 L439.7 654.4 L441.7 632.9 L443.7 613.4 L445.7 597.5 L447.7 581.7 L449.7 567.9 L451.7 559.4 L453.7 550.6 L455.7 543.7 L457.7 546.6 L459.7 552.4 L461.7 558.8 L463.7 568.5 L465.7 580.1 L467.7 592.1 L469.7 616.8 L471.7 648.2 L473.7 686.4 L475.7 714.6 L477.7 734.6 L479.7 749.6 L481.7 760.3 L483.7 774.1 L485.7 762.0 L487.7 745.7 L489.7 719.9 L491.7 694.3 L493.7 668.3 L495.7 636.2 L497.7 604.2 L499.7 576.3 L501.7 558.2 L503.7 546.4 L505.7 539.0 L507.7 533.2 L509.7 536.8 L511.7 534.3 L513.7 536.1 L515.7 531.0 L517.7 534.9 L519.7 534.4 L521.7 541.7 L523.7 539.8 L525.7 537.2 L527.7 537.3 L529.7 540.8 L531.7 537.3 L533.7 536.1 L535.7 540.5 L537.7 546.2 L539.7 537.3 L541.7 535.4 L543.7 533.2 L545.7 532.5 L547.7 539.4 L549.7 539.7 L551.7 537.1 L553.7 538.6 L555.7 538.0 L557.7 537.5 L559.7 532.4 L561.7 536.2 L563.7 538.6 L565.7 535.7 L567.7 536.6 L569.7 534.5 L571.7 536.3 L573.7 540.2 L575.7 535.8 L577.7 537.5 L579.7 541.5 L581.7 540.3 L583.7 543.7 L585.7 530.8 L587.7 540.8 L589.7 535.9 L591.7 538.6 L593.7 540.4 L595.7 541.5 L597.7 540.9 L599.7 538.2 L601.7 542.8 L603.7 537.2 L605.7 537.3 L607.7 540.5 L609.7 535.7 L611.7 544.7 L613.7 540.9 L615.7 544.1 L617.7 536.6 L619.7 536.1 L621.7 538.8 L623.7 540.1 L625.7 536.6 L627.7 540.6 L629.7 539.4 L631.7 544.5 L633.7 537.4 L635.7 543.0 L637.7 537.6 L639.7 535.7 L641.7 536.9 L643.7 534.1 L645.7 538.0 L647.7 540.6 L649.7 537.7 L651.7 539.1 L653.7 542.6 L655.7 539.2 L657.7 538.8 L659.7 537.1 L661.7 532.4 L663.7 541.3 L665.7 531.8 L667.7 540.2 L669.7 539.2 L671.7 543.3 L673.7 538.9 L675.7 536.4 L677.7 540.5 L679.7 535.9 L681.7 535.7 L683.7 536.2 L685.7 535.4 L687.7 535.6 L689.7 534.1 L691.7 537.1 L693.7 530.3 L695.7 537.7 L697.7 533.1 L699.7 540.7 L701.7 541.6 L703.7 531.1 L705.7 538.1 L707.7 537.5 L709.7 535.2 L711.7 541.3 L713.7 537.2 L715.7 533.7 L717.7 538.9 L719.7 539.2 L721.7 539.1 L723.7 535.4 L725.7 540.7 L727.7 541.1 L729.7 534.6 L731.7 536.8 L733.7 538.2 L735.7 536.4 L737.7 544.5 L739.7 539.2 L741.7 534.7 L743.7 535.7 L745.7 538.2 L747.7 545.5 L749.7 536.3 L751.7 538.1 L753.7 539.3 L755.7 537.6 L757.7 545.6 L759.7 537.1 L761.7 541.5 L763.7 539.6 L765.7 541.3 L767.7 535.2 L769.7 545.4 L771.7 538.6 L773.7 538.9 L775.7 535.9 L777.7 537.1 L779.7 540.9 L781.7 542.1 L783.7 541.4 L785.7 542.2 L787.7 540.7 L789.7 538.1 L791.7 540.4 L793.7 540.6 L795.7 538.4 L797.7 540.7 L799.7 542.4 L801.7 539.4 L803.7 537.0 L805.7 540.8 L807.7 545.4 L809.7 537.9 L811.7 537.9 L813.7 537.2 L815.7 541.7 L817.7 531.2 L819.7 538.4 L821.7 542.6 L823.7 535.7 L825.7 543.6 L827.7 540.5 L829.7 538.0 L831.7 539.4 L833.7 532.6 L835.7 535.4 L837.7 543.5 L839.7 533.5 L841.7 542.3 L843.7 536.0 L845.7 540.5 L847.7 537.2 L849.7 529.4 L851.7 535.5 L853.7 539.0 L855.7 533.5 L857.7 532.5 L859.7 538.8 L861.7 535.6 L863.7 532.6 L865.7 536.5 L867.7 541.6 L869.7 537.2 L871.7 541.5 L873.7 542.5 L875.7 537.8 L877.7 533.9 L879.7 533.2 L881.7 538.1 L883.7 541.2 L885.7 538.9 L887.7 540.2 L889.7 536.7 L891.7 539.2 L893.7 536.7 L895.7 536.0 L897.7 532.5 L899.7 531.2 L901.7 535.1 L903.7 533.4 L905.7 534.5 L907.7 540.2 L909.7 538.5 L911.7 548.9 L913.7 542.1 L915.7 537.2 L917.7 541.9 L919.7 539.9 L921.7 536.1 L923.7 542.0 L925.7 535.5 L927.7 527.4 L929.7 539.9 L931.7 534.2 L933.7 541.2 L935.7 534.4 L937.7 533.5 L939.7 543.0 L941.7 534.2 L943.7 539.0 L945.7 542.9 L947.7 537.4 L949.7 537.5 L951.7 538.8 L953.7 541.5 L955.7 535.9 L957.7 541.6 L959.7 541.2 L961.7 546.7 L963.7 537.0 L965.7 534.7 L967.7 540.2 L969.7 535.9 L971.7 538.0 L973.7 537.8 L975.7 542.1 L977.7 536.1 L979.7 538.8 L981.7 530.5 L983.7 535.6 L985.7 543.2 L987.7 535.0 L989.7 533.7 L991.7 532.5 L993.7 539.0 L995.7 537.5 L997.7 532.9 L999.7 540.5 L1001.7 539.2 L1003.7 541.2 L1005.7 537.2 L1007.7 545.4 L1009.7 540.6 L1011.7 538.6 L1013.7 537.3 L1015.7 537.7 L1017.7 541.0 L1019.7 537.3 L1021.7 541.7 L1023.7 539.7 L1025.7 542.9 L1027.7 541.4 L1029.7 538.2 L1031.7 532.6 L1033.7 540.2 L1035.7 540.8 L1037.7 538.1 L1039.7 540.0 L1041.7 536.3 L1043.7 535.4 L1045.7 533.6 L1047.7 542.0 L1049.7 537.0 L1051.7 534.8 L1053.7 532.8 L1055.7 537.5 L1057.7 542.5 L1059.7 539.8 L1061.7 536.4 L1063.7 543.3 L1065.7 543.7 L1067.7 543.0 L1069.7 542.4 L1071.7 542.8 L1073.7 540.6 L1075.7 540.5 L1077.7 535.1 L1079.7 541.5 L1081.7 541.4 L1083.7 548.5 L1085.7 551.9 L1087.7 562.3 L1089.7 570.0 L1091.7 577.2 L1093.7 586.8 L1095.7 595.7 L1097.7 606.8 L1099.7 620.6 L1101.7 635.2 L1103.7 650.3 L1105.7 675.3 L1107.7 698.8 L1109.7 721.0 L1111.7 743.4 L1113.7 766.8 L1115.7 789.1 L1117.7 816.1 L1119.7 847.0 L1121.7 876.9 L1123.7 887.9 L1125.7 896.3 L1127.7 900.1 L1129.7 896.1 L1131.7 897.1 L1133.7 887.2 L1135.7 882.3 L1137.7 871.0 L1139.7 864.7 L1141.7 868.6 L1143.7 865.1 L1145.7 864.6 L1147.7 870.6 L1149.7 877.3 L1151.7 885.6 L1153.7 893.9 L1155.7 901.8 L1157.7 904.7 L1159.7 908.0 L1161.7 910.8 L1163.7 916.7 L1165.7 916.3 L1167.7 917.1 L1169.7 913.1 L1171.7 913.4 L1173.7 917.0 L1175.7 913.2 L1177.7 917.9 L1179.7 918.6 L1181.7 913.3 L1183.7 914.5 L1185.7 914.7 L1187.7 921.0 L1189.7 923.1 L1191.7 914.4 L1193.7 915.1 L1195.7 907.1 L1197.7 915.3 L1199.7 914.9 L1201.7 910.7 L1203.7 916.8 L1205.7 908.7 L1207.7 913.2 L1209.7 914.4 L1211.7 910.1 L1213.7 917.4 L1215.7 918.1 L1217.7 909.8 L1219.7 908.8 L1221.7 915.2 L1223.7 912.9 L1225.7 908.7 L1227.7 912.0 L1229.7 913.7 L1231.7 914.2 L1233.7 918.5 L1235.7 917.7 L1237.7 922.3 L1239.7 921.3 L1241.7 919.2 L1243.7 919.6 L1245.7 920.1 L1247.7 918.5 L1249.7 911.4 L1251.7 918.4 L1253.7 916.1 L1255.7 921.5 L1257.7 915.7 L1259.7 917.3 L1261.7 916.0 L1263.7 920.7 L1265.7 914.7 L1267.7 913.4 L1269.7 915.7 L1271.7 913.6 L1273.7 915.3 L1275.7 915.6 L1277.7 916.1 L1279.7 920.9 L1281.7 912.6 L1283.7 914.1 L1285.7 913.4 L1287.7 916.4 L1289.7 910.8 L1291.7 912.0 L1293.7 913.9 L1295.7 915.5 L1297.7 914.3 L1299.7 912.2 L1301.7 910.7 L1303.7 915.8 L1305.7 919.0 L1307.7 914.3 L1309.7 913.7 L1311.7 915.1 L1313.7 910.3 L1315.7 912.7 L1317.7 912.7 L1319.7 915.9 L1321.7 915.1 L1323.7 910.9 L1325.7 918.8 L1327.7 921.4 L1329.7 914.8 L1331.7 917.5 L1333.7 917.0 L1335.7 918.4 L1337.7 910.4 L1339.7 919.9 L1341.7 912.6 L1343.7 918.4 L1345.7 915.2 L1347.7 913.8 L1349.7 914.7 L1351.7 918.3 L1353.7 911.8 L1355.7 912.4 L1357.7 912.3 L1359.7 908.2 L1361.7 918.1 L1363.7 916.6 L1365.7 914.7 L1367.7 918.4 L1369.7 910.6 L1371.7 912.9 L1373.7 919.4 L1375.7 916.7 L1377.7 905.6 L1379.7 902.9 L1381.7 911.9 L1383.7 918.3 L1385.7 913.2 L1387.7 914.4 L1389.7 916.2 L1391.7 911.0 L1393.7 915.0 L1395.7 917.2 L1397.7 916.4 L1399.7 916.8 L1401.7 914.0 L1403.7 918.3 L1405.7 914.4 L1407.7 920.3 L1409.7 923.9 L1411.7 911.3 L1413.7 906.1 L1415.7 912.5 L1417.7 914.7 L1419.7 917.9 L1421.7 918.3 L1423.7 911.3 L1425.7 911.7 L1427.7 919.3 L1429.7 911.1 L1431.7 918.1 L1433.7 913.8 L1435.7 916.9 L1437.7 917.0 L1439.7 917.4 L1441.7 918.5 L1443.7 913.1 L1445.7 917.4 L1447.7 915.9 L1449.7 916.7 L1451.7 919.1 L1453.7 913.5 L1455.7 912.4 L1457.7 911.7 L1459.7 913.2 L1461.7 917.5 L1463.7 912.6 L1465.7 918.8 L1467.7 916.3 L1469.7 914.8 L1471.7 911.1 L1473.7 915.7 L1475.7 917.6 L1477.7 909.8 L1479.7 919.3 L1481.7 920.6 L1483.7 917.5 L1485.7 918.0 L1487.7 923.9 L1489.7 919.5 L1491.7 911.8 L1493.7 914.4 L1495.7 913.9 L1497.7 913.5 L1499.7 906.0 L1501.7 916.8 L1503.7 911.8 L1505.7 914.3 L1507.7 914.0 L1509.7 917.6 L1511.7 913.8 L1513.7 912.0 L1515.7 917.1 L1517.7 919.6 L1519.7 913.8 L1521.7 919.6 L1523.7 915.1 L1525.7 912.2 L1527.7 919.6 L1529.7 912.1 L1531.7 918.1 L1533.7 913.4 L1535.7 916.6 L1537.7 910.4 L1539.7 911.3 L1541.7 917.9 L1543.7 915.1 L1545.7 914.1 L1547.7 912.7 L1549.7 914.9 L1551.7 908.8 L1553.7 909.4 L1555.7 913.2 L1557.7 910.6 L1559.7 911.8 L1561.7 913.8 L1563.7 914.2 L1565.7 913.3 L1567.7 920.5 L1569.7 918.2 L1571.7 918.5 L1573.7 914.0 L1575.7 912.8 L1577.7 909.1 L1579.7 912.7 L1581.7 907.1 L1583.7 912.1 L1585.7 916.7 L1587.7 919.4 L1589.7 917.2 L1591.7 911.1 L1593.7 916.2 L1595.7 911.9 L1597.7 918.3 L1599.7 915.3 L1601.7 918.0 L1603.7 923.6 L1605.7 917.6 L1607.7 922.0 L1609.7 915.1 L1611.7 913.7 L1613.7 919.0 L1615.7 921.7 L1617.7 913.9 L1619.7 915.8 L1621.7 911.0 L1623.7 915.2 L1625.7 917.9 L1627.7 914.7 L1629.7 912.0 L1631.7 909.4 L1633.7 915.0 L1635.7 916.1 L1637.7 915.5 L1639.7 915.3 L1641.7 909.0 L1643.7 919.8 L1645.7 913.6 L1647.7 912.8 L1649.7 915.2 L1651.7 905.5 L1653.7 912.7 L1655.7 913.0 L1657.7 915.1 L1659.7 919.4 L1661.7 916.8 L1663.7 908.8 L1665.7 913.8" fill="none" stroke="#ff00ff" stroke-width="6" stroke-dasharray="4 10.25" stroke-linejoin="round" stroke-linecap="round"/><path d="M251 918h6v6h-6zM253 902h6v6h-6zM255 912h6v6h-6zM257 909h6v6h-6zM259 909h6v6h-6zM261 910h6v6h-6zM263 905h6v6h-6zM265 910h6v6h-6zM267 907h6v6h-6zM269 922h6v6h-6zM271 912h6v6h-6zM273 910h6v6h-6zM275 911h6v6h-6zM277 910h6v6h-6zM279 907h6v6h-6zM281 910h6v6h-6zM283 913h6v6h-6zM285 910h6v6h-6zM287 914h6v6h-6zM289 910h6v6h-6zM291 911h6v6h-6zM293 916h6v6h-6zM295 913h6v6h-6zM297 909h6v6h-6zM299 911h6v6h-6zM301 914h6v6h-6zM303 918h6v6h-6zM305 911h6v6h-6zM307 910h6v6h-6zM309 915h6v6h-6zM311 908h6v6h-6zM313 911h6v6h-6zM315 915h6v6h-6zM317 913h6v6h-6zM319 912h6v6h-6zM321 913h6v6h-6zM323 901h6v6h-6zM325 915h6v6h-6zM327 908h6v6h-6zM329 906h6v6h-6zM331 912h6v6h-6zM333 913h6v6h-6zM335 908h6v6h-6zM337 906h6v6h-6zM339 910h6v6h-6zM341 910h6v6h-6zM343 916h6v6h-6zM345 914h6v6h-6zM347 913h6v6h-6zM349 916h6v6h-6zM351 912h6v6h-6zM353 908h6v6h-6zM355 913h6v6h-6zM357 912h6v6h-6zM359 910h6v6h-6zM361 909h6v6h-6zM363 912h6v6h-6zM365 904h6v6h-6zM367 915h6v6h-6zM369 913h6v6h-6zM371 905h6v6h-6zM373 911h6v6h-6zM375 907h6v6h-6zM377 914h6v6h-6zM379 904h6v6h-6zM381 908h6v6h-6zM383 914h6v6h-6zM385 915h6v6h-6zM387 903h6v6h-6zM389 908h6v6h-6zM391 912h6v6h-6zM393 909h6v6h-6zM395 917h6v6h-6zM397 908h6v6h-6zM399 912h6v6h-6zM401 908h6v6h-6zM403 916h6v6h-6zM405 911h6v6h-6zM407 910h6v6h-6zM409 906h6v6h-6zM411 908h6v6h-6zM413 902h6v6h-6zM415 889h6v6h-6zM417 876h6v6h-6zM419 861h6v6h-6zM421 846h6v6h-6zM423 825h6v6h-6zM425 798h6v6h-6zM427 774h6v6h-6zM429 747h6v6h-6zM431 722h6v6h-6zM433 696h6v6h-6zM435 672h6v6h-6zM437 651h6v6h-6zM439 630h6v6h-6zM441 610h6v6h-6zM443 595h6v6h-6zM445 579h6v6h-6zM447 565h6v6h-6zM449 556h6v6h-6zM451 548h6v6h-6zM453 541h6v6h-6zM455 544h6v6h-6zM457 549h6v6h-6zM459 556h6v6h-6zM461 565h6v6h-6zM463 577h6v6h-6zM465 589h6v6h-6zM467 614h6v6h-6zM469 645h6v6h-6zM471 683h6v6h-6zM473 712h6v6h-6zM475 732h6v6h-6zM477 747h6v6h-6zM479 757h6v6h-6zM481 771h6v6h-6zM483 759h6v6h-6zM485 743h6v6h-6zM487 717h6v6h-6zM489 691h6v6h-6zM491 665h6v6h-6zM493 633h6v6h-6zM495 601h6v6h-6zM497 573h6v6h-6zM499 555h6v6h-6zM501 543h6v6h-6zM503 536h6v6h-6zM505 530h6v6h-6zM507 534h6v6h-6zM509 531h6v6h-6zM511 533h6v6h-6zM513 528h6v6h-6zM515 532h6v6h-6zM517 531h6v6h-6zM519 539h6v6h-6zM521 537h6v6h-6zM523 534h6v6h-6zM525 534h6v6h-6zM527 538h6v6h-6zM529 534h6v6h-6zM531 533h6v6h-6zM533 537h6v6h-6zM535 543h6v6h-6zM537 534h6v6h-6zM539 532h6v6h-6zM541 530h6v6h-6zM543 529h6v6h-6zM545 536h6v6h-6zM547 537h6v6h-6zM549 534h6v6h-6zM551 536h6v6h-6zM553 535h6v6h-6zM555 534h6v6h-6zM557 529h6v6h-6zM559 533h6v6h-6zM561 536h6v6h-6zM563 533h6v6h-6zM565 534h6v6h-6zM567 531h6v6h-6zM569 533h6v6h-6zM571 537h6v6h-6zM573 533h6v6h-6zM575 535h6v6h-6zM577 539h6v6h-6zM579 537h6v6h-6zM581 541h6v6h-6zM583 528h6v6h-6zM585 538h6v6h-6zM587 533h6v6h-6zM589 536h6v6h-6zM591 537h6v6h-6zM593 539h6v6h-6zM595 538h6v6h-6zM597 535h6v6h-6zM599 540h6v6h-6zM601 534h6v6h-6zM603 534h6v6h-6zM605 537h6v6h-6zM607 533h6v6h-6zM609 542h6v6h-6zM611 538h6v6h-6zM613 541h6v6h-6zM615 534h6v6h-6zM617 533h6v6h-6zM619 536h6v6h-6zM621 537h6v6h-6zM623 534h6v6h-6zM625 538h6v6h-6zM627 536h6v6h-6zM629 541h6v6h-6zM631 534h6v6h-6zM633 540h6v6h-6zM635 535h6v6h-6zM637 533h6v6h-6zM639 534h6v6h-6zM641 531h6v6h-6zM643 535h6v6h-6zM645 538h6v6h-6zM647 535h6v6h-6zM649 536h6v6h-6zM651 540h6v6h-6zM653 536h6v6h-6zM655 536h6v6h-6zM657 534h6v6h-6zM659 529h6v6h-6zM661 538h6v6h-6zM663 529h6v6h-6zM665 537h6v6h-6zM667 536h6v6h-6zM669 540h6v6h-6zM671 536h6v6h-6zM673 533h6v6h-6zM675 537h6v6h-6zM677 533h6v6h-6zM679 533h6v6h-6zM681 533h6v6h-6zM683 532h6v6h-6zM685 533h6v6h-6zM687 531h6v6h-6zM689 534h6v6h-6zM691 527h6v6h-6zM693 535h6v6h-6zM695 530h6v6h-6zM697 538h6v6h-6zM699 539h6v6h-6zM701 528h6v6h-6zM703 535h6v6h-6zM705 535h6v6h-6zM707 532h6v6h-6zM709 538h6v6h-6zM711 534h6v6h-6zM713 531h6v6h-6zM715 536h6v6h-6zM717 536h6v6h-6zM719 536h6v6h-6zM721 532h6v6h-6zM723 538h6v6h-6zM725 538h6v6h-6zM727 532h6v6h-6zM729 534h6v6h-6zM731 535h6v6h-6zM733 533h6v6h-6zM735 542h6v6h-6zM737 536h6v6h-6zM739 532h6v6h-6zM741 533h6v6h-6zM743 535h6v6h-6zM745 542h6v6h-6zM747 533h6v6h-6zM749 535h6v6h-6zM751 536h6v6h-6zM753 535h6v6h-6zM755 543h6v6h-6zM757 534h6v6h-6zM759 538h6v6h-6zM761 537h6v6h-6zM763 538h6v6h-6zM765 532h6v6h-6zM767 542h6v6h-6zM769 536h6v6h-6zM771 536h6v6h-6zM773 533h6v6h-6zM775 534h6v6h-6zM777 538h6v6h-6zM779 539h6v6h-6zM781 538h6v6h-6zM783 539h6v6h-6zM785 538h6v6h-6zM787 535h6v6h-6zM789 537h6v6h-6zM791 538h6v6h-6zM793 535h6v6h-6zM795 538h6v6h-6zM797 539h6v6h-6zM799 536h6v6h-6zM801 534h6v6h-6zM803 538h6v6h-6zM805 542h6v6h-6zM807 535h6v6h-6zM809 535h6v6h-6zM811 534h6v6h-6zM813 539h6v6h-6zM815 528h6v6h-6zM817 535h6v6h-6zM819 540h6v6h-6zM821 533h6v6h-6zM823 541h6v6h-6zM825 538h6v6h-6zM827 535h6v6h-6zM829 536h6v6h-6zM831 530h6v6h-6zM833 532h6v6h-6zM835 540h6v6h-6zM837 531h6v6h-6zM839 539h6v6h-6zM841 533h6v6h-6zM843 538h6v6h-6zM845 534h6v6h-6zM847 526h6v6h-6zM849 532h6v6h-6zM851 536h6v6h-6zM853 530h6v6h-6zM855 529h6v6h-6zM857 536h6v6h-6zM859 533h6v6h-6zM861 530h6v6h-6zM863 533h6v6h-6zM865 539h6v6h-6zM867 534h6v6h-6zM869 538h6v6h-6zM871 539h6v6h-6zM873 535h6v6h-6zM875 531h6v6h-6zM877 530h6v6h-6zM879 535h6v6h-6zM881 538h6v6h-6zM883 536h6v6h-6zM885 537h6v6h-6zM887 534h6v6h-6zM889 536h6v6h-6zM891 534h6v6h-6zM893 533h6v6h-6zM895 529h6v6h-6zM897 528h6v6h-6zM899 532h6v6h-6zM901 530h6v6h-6zM903 532h6v6h-6zM905 537h6v6h-6zM907 535h6v6h-6zM909 546h6v6h-6zM911 539h6v6h-6zM913 534h6v6h-6zM915 539h6v6h-6zM917 537h6v6h-6zM919 533h6v6h-6zM921 539h6v6h-6zM923 533h6v6h-6zM925 524h6v6h-6zM927 537h6v6h-6zM929 531h6v6h-6zM931 538h6v6h-6zM933 531h6v6h-6zM935 530h6v6h-6zM937 540h6v6h-6zM939 531h6v6h-6zM941 536h6v6h-6zM943 540h6v6h-6zM945 534h6v6h-6zM947 535h6v6h-6zM949 536h6v6h-6zM951 539h6v6h-6zM953 533h6v6h-6zM955 539h6v6h-6zM957 538h6v6h-6zM959 544h6v6h-6zM961 534h6v6h-6zM963 532h6v6h-6zM965 537h6v6h-6zM967 533h6v6h-6zM969 535h6v6h-6zM971 535h6v6h-6zM973 539h6v6h-6zM975 533h6v6h-6zM977 536h6v6h-6zM979 527h6v6h-6zM981 533h6v6h-6zM983 540h6v6h-6zM985 532h6v6h-6zM987 531h6v6h-6zM989 530h6v6h-6zM991 536h6v6h-6zM993 534h6v6h-6zM995 530h6v6h-6zM997 538h6v6h-6zM999 536h6v6h-6zM1001 538h6v6h-6zM1003 534h6v6h-6zM1005 542h6v6h-6zM1007 538h6v6h-6zM1009 536h6v6h-6zM1011 534h6v6h-6zM1013 535h6v6h-6zM1015 538h6v6h-6zM1017 534h6v6h-6zM1019 539h6v6h-6zM1021 537h6v6h-6zM1023 540h6v6h-6zM1025 538h6v6h-6zM1027 535h6v6h-6zM1029 530h6v6h-6zM1031 537h6v6h-6zM1033 538h6v6h-6zM1035 535h6v6h-6zM1037 537h6v6h-6zM1039 533h6v6h-6zM1041 532h6v6h-6zM1043 531h6v6h-6zM1045 539h6v6h-6zM1047 534h6v6h-6zM1049 532h6v6h-6zM1051 530h6v6h-6zM1053 535h6v6h-6zM1055 539h6v6h-6zM1057 537h6v6h-6zM1059 533h6v6h-6zM1061 540h6v6h-6zM1063 541h6v6h-6zM1065 540h6v6h-6zM1067 539h6v6h-6zM1069 540h6v6h-6zM1071 538h6v6h-6zM1073 537h6v6h-6zM1075 532h6v6h-6zM1077 539h6v6h-6zM1079 538h6v6h-6zM1081 546h6v6h-6zM1083 549h6v6h-6zM1085 559h6v6h-6zM1087 567h6v6h-6zM1089 574h6v6h-6zM1091 584h6v6h-6zM1093 593h6v6h-6zM1095 604h6v6h-6zM1097 618h6v6h-6zM1099 632h6v6h-6zM1101 647h6v6h-6zM1103 672h6v6h-6zM1105 696h6v6h-6zM1107 718h6v6h-6zM1109 740h6v6h-6zM1111 764h6v6h-6zM1113 786h6v6h-6zM1115 813h6v6h-6zM1117 844h6v6h-6zM1119 874h6v6h-6zM1121 885h6v6h-6zM1123 893h6v6h-6zM1125 897h6v6h-6zM1127 893h6v6h-6zM1129 894h6v6h-6zM1131 884h6v6h-6zM1133 879h6v6h-6zM1135 868h6v6h-6zM1137 862h6v6h-6zM1139 866h6v6h-6zM1141 862h6v6h-6zM1143 862h6v6h-6zM1145 868h6v6h-6zM1147 874h6v6h-6zM1149 883h6v6h-6zM1151 891h6v6h-6zM1153 899h6v6h-6zM1155 902h6v6h-6zM1157 905h6v6h-6zM1159 908h6v6h-6zM1161 914h6v6h-6zM1163 913h6v6h-6zM1165 914h6v6h-6zM1167 910h6v6h-6zM1169 910h6v6h-6zM1171 914h6v6h-6zM1173 910h6v6h-6zM1175 915h6v6h-6zM1177 916h6v6h-6zM1179 910h6v6h-6zM1181 911h6v6h-6zM1183 912h6v6h-6zM1185 918h6v6h-6zM1187 920h6v6h-6zM1189 911h6v6h-6zM1191 912h6v6h-6zM1193 904h6v6h-6zM1195 912h6v6h-6zM1197 912h6v6h-6zM1199 908h6v6h-6zM1201 914h6v6h-6zM1203 906h6v6h-6zM1205 910h6v6h-6zM1207 911h6v6h-6zM1209 907h6v6h-6zM1211 914h6v6h-6zM1213 915h6v6h-6zM1215 907h6v6h-6zM1217 906h6v6h-6zM1219 912h6v6h-6zM1221 910h6v6h-6zM1223 906h6v6h-6zM1225 909h6v6h-6zM1227 911h6v6h-6zM1229 911h6v6h-6zM1231 916h6v6h-6zM1233 915h6v6h-6zM1235 919h6v6h-6zM1237 918h6v6h-6zM1239 916h6v6h-6zM1241 917h6v6h-6zM1243 917h6v6h-6zM1245 916h6v6h-6zM1247 908h6v6h-6zM1249 915h6v6h-6zM1251 913h6v6h-6zM1253 918h6v6h-6zM1255 913h6v6h-6zM1257 914h6v6h-6zM1259 913h6v6h-6zM1261 918h6v6h-6zM1263 912h6v6h-6zM1265 910h6v6h-6zM1267 913h6v6h-6zM1269 911h6v6h-6zM1271 912h6v6h-6zM1273 913h6v6h-6zM1275 913h6v6h-6zM1277 918h6v6h-6zM1279 910h6v6h-6zM1281 911h6v6h-6zM1283 910h6v6h-6zM1285 913h6v6h-6zM1287 908h6v6h-6zM1289 909h6v6h-6zM1291 911h6v6h-6zM1293 913h6v6h-6zM1295 911h6v6h-6zM1297 909h6v6h-6zM1299 908h6v6h-6zM1301 913h6v6h-6zM1303 916h6v6h-6zM1305 911h6v6h-6zM1307 911h6v6h-6zM1309 912h6v6h-6zM1311 907h6v6h-6zM1313 910h6v6h-6zM1315 910h6v6h-6zM1317 913h6v6h-6zM1319 912h6v6h-6zM1321 908h6v6h-6zM1323 916h6v6h-6zM1325 918h6v6h-6zM1327 912h6v6h-6zM1329 914h6v6h-6zM1331 914h6v6h-6zM1333 915h6v6h-6zM1335 907h6v6h-6zM1337 917h6v6h-6zM1339 910h6v6h-6zM1341 915h6v6h-6zM1343 912h6v6h-6zM1345 911h6v6h-6zM1347 912h6v6h-6zM1349 915h6v6h-6zM1351 909h6v6h-6zM1353 909h6v6h-6zM1355 909h6v6h-6zM1357 905h6v6h-6zM1359 915h6v6h-6zM1361 914h6v6h-6zM1363 912h6v6h-6zM1365 915h6v6h-6zM1367 908h6v6h-6zM1369 910h6v6h-6zM1371 916h6v6h-6zM1373 914h6v6h-6zM1375 903h6v6h-6zM1377 900h6v6h-6zM1379 909h6v6h-6zM1381 915h6v6h-6zM1383 910h6v6h-6zM1385 911h6v6h-6zM1387 913h6v6h-6zM1389 908h6v6h-6zM1391 912h6v6h-6zM1393 914h6v6h-6zM1395 913h6v6h-6zM1397 914h6v6h-6zM1399 911h6v6h-6zM1401 915h6v6h-6zM1403 911h6v6h-6zM1405 917h6v6h-6zM1407 921h6v6h-6zM1409 908h6v6h-6zM1411 903h6v6h-6zM1413 909h6v6h-6zM1415 912h6v6h-6zM1417 915h6v6h-6zM1419 915h6v6h-6zM1421 908h6v6h-6zM1423 909h6v6h-6zM1425 916h6v6h-6zM1427 908h6v6h-6zM1429 915h6v6h-6zM1431 911h6v6h-6zM1433 914h6v6h-6zM1435 914h6v6h-6zM1437 914h6v6h-6zM1439 916h6v6h-6zM1441 910h6v6h-6zM1443 914h6v6h-6zM1445 913h6v6h-6zM1447 914h6v6h-6zM1449 916h6v6h-6zM1451 911h6v6h-6zM1453 909h6v6h-6zM1455 909h6v6h-6zM1457 910h6v6h-6zM1459 915h6v6h-6zM1461 910h6v6h-6zM1463 916h6v6h-6zM1465 913h6v6h-6zM1467 912h6v6h-6zM1469 908h6v6h-6zM1471 913h6v6h-6zM1473 915h6v6h-6zM1475 907h6v6h-6zM1477 916h6v6h-6zM1479 918h6v6h-6zM1481 915h6v6h-6zM1483 915h6v6h-6zM1485 921h6v6h-6zM1487 916h6v6h-6zM1489 909h6v6h-6zM1491 911h6v6h-6zM1493 911h6v6h-6zM1495 910h6v6h-6zM1497 903h6v6h-6zM1499 914h6v6h-6zM1501 909h6v6h-6zM1503 911h6v6h-6zM1505 911h6v6h-6zM1507 915h6v6h-6zM1509 911h6v6h-6zM1511 909h6v6h-6zM1513 914h6v6h-6zM1515 917h6v6h-6zM1517 911h6v6h-6zM1519 917h6v6h-6zM1521 912h6v6h-6zM1523 909h6v6h-6zM1525 917h6v6h-6zM1527 909h6v6h-6zM1529 915h6v6h-6zM1531 910h6v6h-6zM1533 914h6v6h-6zM1535 907h6v6h-6zM1537 908h6v6h-6zM1539 915h6v6h-6zM1541 912h6v6h-6zM1543 911h6v6h-6zM1545 910h6v6h-6zM1547 912h6v6h-6zM1549 906h6v6h-6zM1551 906h6v6h-6zM1553 910h6v6h-6zM1555 908h6v6h-6zM1557 909h6v6h-6zM1559 911h6v6h-6zM1561 911h6v6h-6zM1563 910h6v6h-6zM1565 917h6v6h-6zM1567 915h6v6h-6zM1569 915h6v6h-6zM1571 911h6v6h-6zM1573 910h6v6h-6zM1575 906h6v6h-6zM1577 910h6v6h-6zM1579 904h6v6h-6zM1581 909h6v6h-6zM1583 914h6v6h-6zM1585 916h6v6h-6zM1587 914h6v6h-6zM1589 908h6v6h-6zM1591 913h6v6h-6zM1593 909h6v6h-6zM1595 915h6v6h-6zM1597 912h6v6h-6zM1599 915h6v6h-6zM1601 921h6v6h-6zM1603 915h6v6h-6zM1605 919h6v6h-6zM1607 912h6v6h-6zM1609 911h6v6h-6zM1611 916h6v6h-6zM1613 919h6v6h-6zM1615 911h6v6h-6zM1617 913h6v6h-6zM1619 908h6v6h-6zM1621 912h6v6h-6zM1623 915h6v6h-6zM1625 912h6v6h-6zM1627 909h6v6h-6zM1629 906h6v6h-6zM1631 912h6v6h-6zM1633 913h6v6h-6zM1635 912h6v6h-6zM1637 912h6v6h-6zM1639 906h6v6h-6zM1641 917h6v6h-6zM1643 911h6v6h-6zM1645 910h6v6h-6zM1647 912h6v6h-6zM1649 903h6v6h-6zM1651 910h6v6h-6zM1653 910h6v6h-6zM1655 912h6v6h-6zM1657 916h6v6h-6zM1659 914h6v6h-6zM1661 906h6v6h-6zM1663 911h6v6h-6z" fill="#ff00ff"/><path d="M253 920h2v2h-2zM255 904h2v2h-2zM257 914h2v2h-2zM263 912h2v2h-2zM265 907h2v2h-2zM269 909h2v2h-2zM271 924h2v2h-2zM287 912h2v2h-2zM289 916h2v2h-2zM293 913h2v2h-2zM295 918h2v2h-2zM297 915h2v2h-2zM303 916h2v2h-2zM305 920h2v2h-2zM309 912h2v2h-2zM311 917h2v2h-2zM315 913h2v2h-2zM323 915h2v2h-2zM325 903h2v2h-2zM327 917h2v2h-2zM331 908h2v2h-2zM335 915h2v2h-2zM339 908h2v2h-2zM343 912h2v2h-2zM349 915h2v2h-2zM351 918h2v2h-2zM353 914h2v2h-2zM355 910h2v2h-2zM363 911h2v2h-2zM365 914h2v2h-2zM367 906h2v2h-2zM371 915h2v2h-2zM373 907h2v2h-2zM375 913h2v2h-2zM377 909h2v2h-2zM379 916h2v2h-2zM381 906h2v2h-2zM383 910h2v2h-2zM387 917h2v2h-2zM389 905h2v2h-2zM391 910h2v2h-2zM395 911h2v2h-2zM397 919h2v2h-2zM399 910h2v2h-2zM401 914h2v2h-2zM403 910h2v2h-2zM405 918h2v2h-2zM409 912h2v2h-2zM413 910h2v2h-2zM415 904h2v2h-2zM417 891h2v2h-2zM419 878h2v2h-2zM421 863h2v2h-2zM423 848h2v2h-2zM425 827h2v2h-2zM427 800h2v2h-2zM429 776h2v2h-2zM431 749h2v2h-2zM433 724h2v2h-2zM435 698h2v2h-2zM437 674h2v2h-2zM439 653h2v2h-2zM441 632h2v2h-2zM443 612h2v2h-2zM445 597h2v2h-2zM447 581h2v2h-2zM449 567h2v2h-2zM451 558h2v2h-2zM453 550h2v2h-2zM457 546h2v2h-2zM459 551h2v2h-2zM461 558h2v2h-2zM463 567h2v2h-2zM465 579h2v2h-2zM467 591h2v2h-2zM469 616h2v2h-2zM471 647h2v2h-2zM473 685h2v2h-2zM475 714h2v2h-2zM477 734h2v2h-2zM479 749h2v2h-2zM481 759h2v2h-2zM483 773h2v2h-2zM485 761h2v2h-2zM487 745h2v2h-2zM489 719h2v2h-2zM491 693h2v2h-2zM493 667h2v2h-2zM495 635h2v2h-2zM497 603h2v2h-2zM499 575h2v2h-2zM501 557h2v2h-2zM503 545h2v2h-2zM505 538h2v2h-2zM507 532h2v2h-2zM513 535h2v2h-2zM515 530h2v2h-2zM519 533h2v2h-2zM527 536h2v2h-2zM529 540h2v2h-2zM533 535h2v2h-2zM535 539h2v2h-2zM537 545h2v2h-2zM545 531h2v2h-2zM557 536h2v2h-2zM559 531h2v2h-2zM571 535h2v2h-2zM573 539h2v2h-2zM577 537h2v2h-2zM581 539h2v2h-2zM583 543h2v2h-2zM585 530h2v2h-2zM587 540h2v2h-2zM599 537h2v2h-2zM601 542h2v2h-2zM605 536h2v2h-2zM607 539h2v2h-2zM609 535h2v2h-2zM611 544h2v2h-2zM613 540h2v2h-2zM615 543h2v2h-2zM623 539h2v2h-2zM625 536h2v2h-2zM629 538h2v2h-2zM631 543h2v2h-2zM633 536h2v2h-2zM635 542h2v2h-2zM643 533h2v2h-2zM651 538h2v2h-2zM653 542h2v2h-2zM659 536h2v2h-2zM661 531h2v2h-2zM663 540h2v2h-2zM665 531h2v2h-2zM669 538h2v2h-2zM671 542h2v2h-2zM675 535h2v2h-2zM677 539h2v2h-2zM689 533h2v2h-2zM691 536h2v2h-2zM693 529h2v2h-2zM695 537h2v2h-2zM697 532h2v2h-2zM701 541h2v2h-2zM703 530h2v2h-2zM709 534h2v2h-2zM711 540h2v2h-2zM713 536h2v2h-2zM715 533h2v2h-2zM721 538h2v2h-2zM723 534h2v2h-2zM727 540h2v2h-2zM735 535h2v2h-2zM737 544h2v2h-2zM739 538h2v2h-2zM745 537h2v2h-2zM747 544h2v2h-2zM755 537h2v2h-2zM757 545h2v2h-2zM759 536h2v2h-2zM765 540h2v2h-2zM767 534h2v2h-2zM769 544h2v2h-2zM773 538h2v2h-2zM777 536h2v2h-2zM803 536h2v2h-2zM805 540h2v2h-2zM807 544h2v2h-2zM813 536h2v2h-2zM815 541h2v2h-2zM817 530h2v2h-2zM819 537h2v2h-2zM821 542h2v2h-2zM823 535h2v2h-2zM825 543h2v2h-2zM831 538h2v2h-2zM835 534h2v2h-2zM837 542h2v2h-2zM839 533h2v2h-2zM841 541h2v2h-2zM843 535h2v2h-2zM845 540h2v2h-2zM847 536h2v2h-2zM849 528h2v2h-2zM851 534h2v2h-2zM853 538h2v2h-2zM857 531h2v2h-2zM859 538h2v2h-2zM861 535h2v2h-2zM863 532h2v2h-2zM865 535h2v2h-2zM867 541h2v2h-2zM869 536h2v2h-2zM873 541h2v2h-2zM875 537h2v2h-2zM879 532h2v2h-2zM881 537h2v2h-2zM887 539h2v2h-2zM895 535h2v2h-2zM899 530h2v2h-2zM905 534h2v2h-2zM909 537h2v2h-2zM911 548h2v2h-2zM913 541h2v2h-2zM915 536h2v2h-2zM919 539h2v2h-2zM921 535h2v2h-2zM923 541h2v2h-2zM925 535h2v2h-2zM927 526h2v2h-2zM929 539h2v2h-2zM931 533h2v2h-2zM933 540h2v2h-2zM937 532h2v2h-2zM939 542h2v2h-2zM941 533h2v2h-2zM943 538h2v2h-2zM945 542h2v2h-2zM953 541h2v2h-2zM955 535h2v2h-2zM959 540h2v2h-2zM961 546h2v2h-2zM965 534h2v2h-2zM967 539h2v2h-2zM973 537h2v2h-2zM975 541h2v2h-2zM979 538h2v2h-2zM981 529h2v2h-2zM983 535h2v2h-2zM985 542h2v2h-2zM991 532h2v2h-2zM995 536h2v2h-2zM997 532h2v2h-2zM1003 540h2v2h-2zM1005 536h2v2h-2zM1007 544h2v2h-2zM1015 537h2v2h-2zM1017 540h2v2h-2zM1019 536h2v2h-2zM1023 539h2v2h-2zM1027 540h2v2h-2zM1029 537h2v2h-2zM1031 532h2v2h-2zM1039 539h2v2h-2zM1045 533h2v2h-2zM1047 541h2v2h-2zM1053 532h2v2h-2zM1055 537h2v2h-2zM1059 539h2v2h-2zM1061 535h2v2h-2zM1075 539h2v2h-2zM1077 534h2v2h-2zM1081 540h2v2h-2zM1083 548h2v2h-2zM1085 551h2v2h-2zM1087 561h2v2h-2zM1089 569h2v2h-2zM1091 576h2v2h-2zM1093 586h2v2h-2zM1095 595h2v2h-2zM1097 606h2v2h-2zM1099 620h2v2h-2zM1101 634h2v2h-2zM1103 649h2v2h-2zM1105 674h2v2h-2zM1107 698h2v2h-2zM1109 720h2v2h-2zM1111 742h2v2h-2zM1113 766h2v2h-2zM1115 788h2v2h-2zM1117 815h2v2h-2zM1119 846h2v2h-2zM1121 876h2v2h-2zM1123 887h2v2h-2zM1125 895h2v2h-2zM1127 899h2v2h-2zM1131 896h2v2h-2zM1133 886h2v2h-2zM1135 881h2v2h-2zM1137 870h2v2h-2zM1139 864h2v2h-2zM1141 868h2v2h-2zM1145 864h2v2h-2zM1147 870h2v2h-2zM1149 876h2v2h-2zM1151 885h2v2h-2zM1153 893h2v2h-2zM1157 904h2v2h-2zM1161 910h2v2h-2zM1167 916h2v2h-2zM1171 912h2v2h-2zM1173 916h2v2h-2zM1175 912h2v2h-2zM1179 918h2v2h-2zM1185 914h2v2h-2zM1189 922h2v2h-2zM1193 914h2v2h-2zM1195 906h2v2h-2zM1199 914h2v2h-2zM1201 910h2v2h-2zM1203 916h2v2h-2zM1205 908h2v2h-2zM1209 913h2v2h-2zM1211 909h2v2h-2zM1215 917h2v2h-2zM1219 908h2v2h-2zM1223 912h2v2h-2zM1225 908h2v2h-2zM1231 913h2v2h-2zM1235 917h2v2h-2zM1247 918h2v2h-2zM1249 910h2v2h-2zM1253 915h2v2h-2zM1255 920h2v2h-2zM1261 915h2v2h-2zM1263 920h2v2h-2zM1277 915h2v2h-2zM1279 920h2v2h-2zM1287 915h2v2h-2zM1301 910h2v2h-2zM1303 915h2v2h-2zM1305 918h2v2h-2zM1311 914h2v2h-2zM1317 912h2v2h-2zM1321 914h2v2h-2zM1323 910h2v2h-2zM1327 920h2v2h-2zM1335 917h2v2h-2zM1337 909h2v2h-2zM1339 919h2v2h-2zM1341 912h2v2h-2zM1343 917h2v2h-2zM1349 914h2v2h-2zM1351 917h2v2h-2zM1357 911h2v2h-2zM1359 907h2v2h-2zM1365 914h2v2h-2zM1367 917h2v2h-2zM1371 912h2v2h-2zM1375 916h2v2h-2zM1379 902h2v2h-2zM1381 911h2v2h-2zM1383 917h2v2h-2zM1389 915h2v2h-2zM1391 910h2v2h-2zM1401 913h2v2h-2zM1403 917h2v2h-2zM1405 913h2v2h-2zM1407 919h2v2h-2zM1409 923h2v2h-2zM1411 910h2v2h-2zM1413 905h2v2h-2zM1417 914h2v2h-2zM1421 917h2v2h-2zM1425 911h2v2h-2zM1427 918h2v2h-2zM1429 910h2v2h-2zM1431 917h2v2h-2zM1433 913h2v2h-2zM1441 918h2v2h-2zM1443 912h2v2h-2zM1451 918h2v2h-2zM1459 912h2v2h-2zM1461 917h2v2h-2zM1463 912h2v2h-2zM1469 914h2v2h-2zM1471 910h2v2h-2zM1475 917h2v2h-2zM1477 909h2v2h-2zM1481 920h2v2h-2zM1485 917h2v2h-2zM1487 923h2v2h-2zM1489 918h2v2h-2zM1497 912h2v2h-2zM1499 905h2v2h-2zM1501 916h2v2h-2zM1507 913h2v2h-2zM1509 917h2v2h-2zM1513 911h2v2h-2zM1517 919h2v2h-2zM1519 913h2v2h-2zM1521 919h2v2h-2zM1525 911h2v2h-2zM1527 919h2v2h-2zM1529 911h2v2h-2zM1531 917h2v2h-2zM1533 912h2v2h-2zM1535 916h2v2h-2zM1539 910h2v2h-2zM1549 914h2v2h-2zM1553 908h2v2h-2zM1565 912h2v2h-2zM1571 917h2v2h-2zM1575 912h2v2h-2zM1577 908h2v2h-2zM1579 912h2v2h-2zM1581 906h2v2h-2zM1583 911h2v2h-2zM1589 916h2v2h-2zM1591 910h2v2h-2zM1593 915h2v2h-2zM1595 911h2v2h-2zM1601 917h2v2h-2zM1603 923h2v2h-2zM1605 917h2v2h-2zM1607 921h2v2h-2zM1611 913h2v2h-2zM1615 921h2v2h-2zM1619 915h2v2h-2zM1621 910h2v2h-2zM1625 917h2v2h-2zM1631 908h2v2h-2zM1639 914h2v2h-2zM1641 908h2v2h-2zM1643 919h2v2h-2zM1649 914h2v2h-2zM1651 905h2v2h-2zM1657 914h2v2h-2zM1661 916h2v2h-2zM1663 908h2v2h-2zM1665 913h2v2h-2z" fill="#fff"/></g><g clip-path="url(#pc)"><path d="M253.7 913.9 L255.7 915.5 L257.7 922.2 L259.7 917.7 L261.7 909.3 L263.7 915.0 L265.7 913.3 L267.7 914.9 L269.7 909.1 L271.7 915.8 L273.7 915.4 L275.7 920.1 L277.7 915.7 L279.7 916.1 L281.7 908.8 L283.7 920.9 L285.7 906.3 L287.7 917.3 L289.7 913.0 L291.7 911.2 L293.7 912.6 L295.7 912.9 L297.7 916.5 L299.7 914.2 L301.7 920.2 L303.7 908.8 L305.7 914.9 L307.7 911.9 L309.7 917.4 L311.7 907.3 L313.7 912.9 L315.7 914.2 L317.7 908.8 L319.7 917.8 L321.7 914.9 L323.7 918.3 L325.7 919.3 L327.7 911.5 L329.7 911.9 L331.7 914.1 L333.7 916.7 L335.7 915.1 L337.7 910.6 L339.7 911.3 L341.7 910.7 L343.7 911.8 L345.7 914.1 L347.7 914.5 L349.7 921.8 L351.7 912.6 L353.7 913.3 L355.7 916.2 L357.7 910.9 L359.7 913.3 L361.7 915.2 L363.7 918.0 L365.7 909.6 L367.7 919.2 L369.7 912.9 L371.7 913.9 L373.7 916.1 L375.7 916.0 L377.7 917.8 L379.7 915.0 L381.7 914.5 L383.7 916.0 L385.7 912.4 L387.7 919.5 L389.7 912.1 L391.7 910.8 L393.7 922.1 L395.7 914.9 L397.7 910.7 L399.7 922.1 L401.7 915.1 L403.7 919.6 L405.7 912.6 L407.7 914.5 L409.7 908.6 L411.7 907.0 L413.7 909.9 L415.7 913.4 L417.7 916.6 L419.7 920.4 L421.7 910.0 L423.7 911.9 L425.7 906.5 L427.7 890.5 L429.7 871.6 L431.7 850.2 L433.7 826.4 L435.7 799.5 L437.7 777.4 L439.7 754.4 L441.7 733.3 L443.7 712.3 L445.7 691.8 L447.7 671.7 L449.7 654.4 L451.7 641.2 L453.7 628.2 L455.7 617.7 L457.7 614.0 L459.7 608.2 L461.7 602.5 L463.7 601.9 L465.7 600.3 L467.7 604.7 L469.7 605.3 L471.7 613.7 L473.7 625.4 L475.7 638.0 L477.7 654.2 L479.7 670.5 L481.7 689.9 L483.7 712.1 L485.7 729.9 L487.7 745.2 L489.7 756.0 L491.7 762.4 L493.7 771.7 L495.7 760.4 L497.7 745.4 L499.7 724.8 L501.7 700.3 L503.7 683.5 L505.7 666.5 L507.7 641.9 L509.7 617.2 L511.7 591.6 L513.7 565.8 L515.7 555.7 L517.7 546.1 L519.7 538.3 L521.7 533.5 L523.7 530.0 L525.7 532.1 L527.7 527.7 L529.7 534.5 L531.7 539.8 L533.7 531.1 L535.7 537.9 L537.7 537.3 L539.7 534.4 L541.7 534.1 L543.7 534.1 L545.7 531.5 L547.7 533.5 L549.7 534.2 L551.7 536.7 L553.7 536.6 L555.7 530.8 L557.7 536.1 L559.7 530.2 L561.7 532.3 L563.7 534.9 L565.7 533.9 L567.7 533.7 L569.7 535.0 L571.7 532.1 L573.7 531.5 L575.7 532.6 L577.7 537.1 L579.7 532.9 L581.7 539.9 L583.7 533.6 L585.7 522.8 L587.7 531.1 L589.7 538.9 L591.7 533.8 L593.7 532.5 L595.7 531.2 L597.7 538.0 L599.7 537.1 L601.7 535.2 L603.7 534.6 L605.7 538.2 L607.7 536.8 L609.7 529.9 L611.7 536.8 L613.7 534.8 L615.7 533.5 L617.7 535.5 L619.7 532.5 L621.7 522.4 L623.7 537.0 L625.7 535.8 L627.7 532.2 L629.7 531.4 L631.7 533.2 L633.7 529.1 L635.7 534.4 L637.7 532.8 L639.7 533.5 L641.7 532.7 L643.7 532.8 L645.7 539.1 L647.7 539.5 L649.7 535.4 L651.7 532.5 L653.7 530.6 L655.7 535.5 L657.7 538.7 L659.7 528.9 L661.7 538.8 L663.7 527.1 L665.7 534.2 L667.7 537.0 L669.7 530.3 L671.7 529.1 L673.7 534.8 L675.7 536.5 L677.7 532.1 L679.7 539.0 L681.7 532.2 L683.7 540.6 L685.7 535.3 L687.7 535.4 L689.7 535.9 L691.7 534.4 L693.7 540.1 L695.7 541.1 L697.7 535.7 L699.7 533.3 L701.7 531.1 L703.7 531.7 L705.7 534.1 L707.7 534.0 L709.7 535.1 L711.7 534.1 L713.7 536.7 L715.7 531.0 L717.7 531.8 L719.7 538.3 L721.7 538.4 L723.7 532.8 L725.7 538.6 L727.7 531.2 L729.7 532.8 L731.7 526.7 L733.7 536.6 L735.7 533.2 L737.7 537.3 L739.7 536.8 L741.7 534.9 L743.7 535.1 L745.7 539.3 L747.7 534.3 L749.7 533.7 L751.7 534.5 L753.7 536.9 L755.7 538.0 L757.7 542.3 L759.7 535.5 L761.7 539.9 L763.7 532.8 L765.7 535.4 L767.7 533.6 L769.7 539.5 L771.7 535.1 L773.7 531.9 L775.7 537.3 L777.7 536.2 L779.7 533.9 L781.7 534.9 L783.7 532.4 L785.7 543.5 L787.7 534.1 L789.7 536.8 L791.7 529.4 L793.7 530.2 L795.7 534.6 L797.7 535.2 L799.7 538.7 L801.7 532.5 L803.7 537.0 L805.7 540.5 L807.7 532.3 L809.7 538.6 L811.7 532.3 L813.7 536.5 L815.7 536.3 L817.7 539.8 L819.7 531.0 L821.7 533.8 L823.7 537.6 L825.7 529.9 L827.7 535.0 L829.7 531.3 L831.7 532.5 L833.7 536.3 L835.7 536.4 L837.7 542.2 L839.7 538.5 L841.7 537.6 L843.7 532.9 L845.7 532.2 L847.7 534.2 L849.7 526.8 L851.7 540.4 L853.7 533.5 L855.7 532.4 L857.7 534.9 L859.7 539.3 L861.7 540.3 L863.7 534.3 L865.7 536.5 L867.7 533.8 L869.7 530.4 L871.7 534.9 L873.7 534.8 L875.7 529.8 L877.7 539.1 L879.7 529.7 L881.7 535.4 L883.7 529.7 L885.7 530.2 L887.7 530.2 L889.7 536.3 L891.7 529.3 L893.7 534.0 L895.7 540.1 L897.7 532.0 L899.7 533.3 L901.7 536.2 L903.7 531.4 L905.7 534.1 L907.7 530.9 L909.7 534.8 L911.7 532.9 L913.7 530.0 L915.7 539.2 L917.7 534.0 L919.7 534.6 L921.7 532.4 L923.7 534.7 L925.7 535.8 L927.7 536.4 L929.7 538.3 L931.7 529.7 L933.7 532.5 L935.7 537.4 L937.7 535.4 L939.7 536.7 L941.7 541.1 L943.7 536.8 L945.7 537.0 L947.7 534.7 L949.7 541.1 L951.7 538.9 L953.7 532.4 L955.7 537.3 L957.7 531.1 L959.7 538.9 L961.7 536.6 L963.7 534.4 L965.7 534.1 L967.7 529.2 L969.7 537.1 L971.7 535.2 L973.7 534.4 L975.7 537.9 L977.7 533.6 L979.7 534.7 L981.7 533.7 L983.7 530.5 L985.7 543.1 L987.7 533.6 L989.7 532.9 L991.7 537.0 L993.7 524.8 L995.7 535.1 L997.7 535.8 L999.7 532.7 L1001.7 537.7 L1003.7 528.8 L1005.7 535.7 L1007.7 538.0 L1009.7 527.5 L1011.7 529.8 L1013.7 533.4 L1015.7 533.6 L1017.7 531.8 L1019.7 534.7 L1021.7 534.5 L1023.7 529.5 L1025.7 533.0 L1027.7 529.2 L1029.7 527.1 L1031.7 525.8 L1033.7 536.9 L1035.7 534.1 L1037.7 540.9 L1039.7 526.9 L1041.7 530.7 L1043.7 533.2 L1045.7 530.7 L1047.7 533.8 L1049.7 534.7 L1051.7 532.3 L1053.7 527.1 L1055.7 533.0 L1057.7 540.8 L1059.7 537.5 L1061.7 539.4 L1063.7 533.0 L1065.7 533.8 L1067.7 531.7 L1069.7 536.1 L1071.7 535.5 L1073.7 537.3 L1075.7 541.5 L1077.7 533.0 L1079.7 537.7 L1081.7 530.7 L1083.7 538.1 L1085.7 533.0 L1087.7 534.8 L1089.7 536.0 L1091.7 540.8 L1093.7 535.5 L1095.7 534.0 L1097.7 531.4 L1099.7 536.1 L1101.7 531.3 L1103.7 532.9 L1105.7 534.0 L1107.7 536.8 L1109.7 532.4 L1111.7 539.2 L1113.7 542.9 L1115.7 532.4 L1117.7 541.7 L1119.7 543.7 L1121.7 533.2 L1123.7 536.6 L1125.7 529.7 L1127.7 534.3 L1129.7 531.7 L1131.7 534.1 L1133.7 530.1 L1135.7 530.2 L1137.7 532.3 L1139.7 532.0 L1141.7 531.8 L1143.7 533.5 L1145.7 530.5 L1147.7 534.1 L1149.7 536.0 L1151.7 529.0 L1153.7 536.2 L1155.7 534.9 L1157.7 534.4 L1159.7 534.9 L1161.7 537.7 L1163.7 539.5 L1165.7 543.7 L1167.7 540.9 L1169.7 547.8 L1171.7 541.7 L1173.7 544.5 L1175.7 544.2 L1177.7 536.8 L1179.7 541.5 L1181.7 543.4 L1183.7 535.3 L1185.7 537.1 L1187.7 534.2 L1189.7 534.6 L1191.7 532.6 L1193.7 530.3 L1195.7 532.2 L1197.7 532.3 L1199.7 529.9 L1201.7 534.7 L1203.7 534.7 L1205.7 534.5 L1207.7 531.3 L1209.7 538.2 L1211.7 537.9 L1213.7 530.2 L1215.7 534.0 L1217.7 537.5 L1219.7 545.1 L1221.7 550.4 L1223.7 553.4 L1225.7 559.2 L1227.7 566.4 L1229.7 570.7 L1231.7 579.3 L1233.7 588.2 L1235.7 603.0 L1237.7 617.4 L1239.7 632.9 L1241.7 649.4 L1243.7 666.1 L1245.7 681.9 L1247.7 700.7 L1249.7 722.6 L1251.7 743.4 L1253.7 770.8 L1255.7 801.0 L1257.7 819.6 L1259.7 838.2 L1261.7 857.3 L1263.7 875.5 L1265.7 895.5 L1267.7 905.8 L1269.7 907.4 L1271.7 905.2 L1273.7 899.2 L1275.7 895.6 L1277.7 889.4 L1279.7 888.9 L1281.7 885.6 L1283.7 884.9 L1285.7 888.8 L1287.7 890.7 L1289.7 896.6 L1291.7 901.8 L1293.7 908.5 L1295.7 909.6 L1297.7 910.1 L1299.7 912.4 L1301.7 912.2 L1303.7 911.8 L1305.7 917.7 L1307.7 912.3 L1309.7 913.1 L1311.7 917.4 L1313.7 913.0 L1315.7 912.2 L1317.7 913.7 L1319.7 917.1 L1321.7 916.4 L1323.7 916.5 L1325.7 913.3 L1327.7 911.0 L1329.7 918.0 L1331.7 909.9 L1333.7 914.1 L1335.7 910.4 L1337.7 914.0 L1339.7 915.7 L1341.7 920.9 L1343.7 905.9 L1345.7 920.1 L1347.7 911.7 L1349.7 914.7 L1351.7 915.4 L1353.7 910.8 L1355.7 914.3 L1357.7 917.3 L1359.7 914.9 L1361.7 913.3 L1363.7 916.1 L1365.7 914.8 L1367.7 909.4 L1369.7 919.1 L1371.7 914.9 L1373.7 906.2 L1375.7 912.1 L1377.7 920.7 L1379.7 921.1 L1381.7 917.0 L1383.7 909.4 L1385.7 914.5 L1387.7 918.6 L1389.7 916.4 L1391.7 913.4 L1393.7 912.4 L1395.7 918.0 L1397.7 914.8 L1399.7 916.5 L1401.7 917.7 L1403.7 922.6 L1405.7 916.8 L1407.7 915.8 L1409.7 908.3 L1411.7 918.2 L1413.7 917.3 L1415.7 914.9 L1417.7 907.0 L1419.7 912.9 L1421.7 915.2 L1423.7 921.3 L1425.7 915.6 L1427.7 917.0 L1429.7 917.2 L1431.7 918.4 L1433.7 910.2 L1435.7 910.8 L1437.7 909.8 L1439.7 912.6 L1441.7 912.4 L1443.7 914.5 L1445.7 911.0 L1447.7 914.2 L1449.7 911.6 L1451.7 922.3 L1453.7 913.2 L1455.7 923.3 L1457.7 921.2 L1459.7 910.8 L1461.7 917.0 L1463.7 915.6 L1465.7 909.4 L1467.7 916.1 L1469.7 914.2 L1471.7 917.0 L1473.7 913.0 L1475.7 914.9 L1477.7 916.7 L1479.7 914.6 L1481.7 912.4 L1483.7 914.0 L1485.7 911.6 L1487.7 915.9 L1489.7 906.1 L1491.7 920.4 L1493.7 915.2 L1495.7 916.3 L1497.7 917.8 L1499.7 910.3 L1501.7 922.0 L1503.7 910.1 L1505.7 915.6 L1507.7 915.4 L1509.7 919.1 L1511.7 914.3 L1513.7 910.2 L1515.7 916.3 L1517.7 906.1 L1519.7 913.8 L1521.7 913.2 L1523.7 919.7 L1525.7 913.3 L1527.7 913.0 L1529.7 910.8 L1531.7 910.6 L1533.7 911.3 L1535.7 915.1 L1537.7 909.0 L1539.7 913.5 L1541.7 909.0 L1543.7 913.9 L1545.7 915.3 L1547.7 909.9 L1549.7 912.0 L1551.7 914.7 L1553.7 917.5 L1555.7 917.9 L1557.7 915.0 L1559.7 911.9 L1561.7 909.6 L1563.7 917.2 L1565.7 918.7 L1567.7 914.9 L1569.7 919.2 L1571.7 911.3 L1573.7 911.4 L1575.7 918.7 L1577.7 910.0 L1579.7 915.7 L1581.7 915.6 L1583.7 914.5 L1585.7 919.7 L1587.7 910.3 L1589.7 911.5 L1591.7 906.8 L1593.7 910.3 L1595.7 912.1 L1597.7 913.6 L1599.7 914.3 L1601.7 915.2 L1603.7 912.3 L1605.7 908.0 L1607.7 914.7 L1609.7 915.0 L1611.7 910.1 L1613.7 911.4 L1615.7 920.9 L1617.7 918.6 L1619.7 919.3 L1621.7 917.9 L1623.7 916.2 L1625.7 913.1 L1627.7 916.6 L1629.7 914.6 L1631.7 913.9 L1633.7 915.3 L1635.7 914.8 L1637.7 918.3 L1639.7 910.7 L1641.7 922.8 L1643.7 910.4 L1645.7 913.1 L1647.7 918.1 L1649.7 912.4 L1651.7 913.6 L1653.7 915.6 L1655.7 905.6 L1657.7 913.3 L1659.7 911.9 L1661.7 914.4 L1663.7 916.9 L1665.7 916.9" fill="none" stroke="#000080" stroke-width="6" stroke-dasharray="19 13" stroke-linejoin="round" stroke-linecap="round"/><path d="M251 911h6v6h-6zM253 912h6v6h-6zM255 919h6v6h-6zM257 915h6v6h-6zM259 906h6v6h-6zM261 912h6v6h-6zM263 910h6v6h-6zM265 912h6v6h-6zM267 906h6v6h-6zM269 913h6v6h-6zM271 912h6v6h-6zM273 917h6v6h-6zM275 913h6v6h-6zM277 913h6v6h-6zM279 906h6v6h-6zM281 918h6v6h-6zM283 903h6v6h-6zM285 914h6v6h-6zM287 910h6v6h-6zM289 908h6v6h-6zM291 910h6v6h-6zM293 910h6v6h-6zM295 914h6v6h-6zM297 911h6v6h-6zM299 917h6v6h-6zM301 906h6v6h-6zM303 912h6v6h-6zM305 909h6v6h-6zM307 914h6v6h-6zM309 904h6v6h-6zM311 910h6v6h-6zM313 911h6v6h-6zM315 906h6v6h-6zM317 915h6v6h-6zM319 912h6v6h-6zM321 915h6v6h-6zM323 916h6v6h-6zM325 908h6v6h-6zM327 909h6v6h-6zM329 911h6v6h-6zM331 914h6v6h-6zM333 912h6v6h-6zM335 908h6v6h-6zM337 908h6v6h-6zM339 908h6v6h-6zM341 909h6v6h-6zM343 911h6v6h-6zM345 911h6v6h-6zM347 919h6v6h-6zM349 910h6v6h-6zM351 910h6v6h-6zM353 913h6v6h-6zM355 908h6v6h-6zM357 910h6v6h-6zM359 912h6v6h-6zM361 915h6v6h-6zM363 907h6v6h-6zM365 916h6v6h-6zM367 910h6v6h-6zM369 911h6v6h-6zM371 913h6v6h-6zM373 913h6v6h-6zM375 915h6v6h-6zM377 912h6v6h-6zM379 912h6v6h-6zM381 913h6v6h-6zM383 909h6v6h-6zM385 917h6v6h-6zM387 909h6v6h-6zM389 908h6v6h-6zM391 919h6v6h-6zM393 912h6v6h-6zM395 908h6v6h-6zM397 919h6v6h-6zM399 912h6v6h-6zM401 917h6v6h-6zM403 910h6v6h-6zM405 911h6v6h-6zM407 906h6v6h-6zM409 904h6v6h-6zM411 907h6v6h-6zM413 910h6v6h-6zM415 914h6v6h-6zM417 917h6v6h-6zM419 907h6v6h-6zM421 909h6v6h-6zM423 904h6v6h-6zM425 887h6v6h-6zM427 869h6v6h-6zM429 847h6v6h-6zM431 823h6v6h-6zM433 797h6v6h-6zM435 774h6v6h-6zM437 751h6v6h-6zM439 730h6v6h-6zM441 709h6v6h-6zM443 689h6v6h-6zM445 669h6v6h-6zM447 651h6v6h-6zM449 638h6v6h-6zM451 625h6v6h-6zM453 615h6v6h-6zM455 611h6v6h-6zM457 605h6v6h-6zM459 599h6v6h-6zM461 599h6v6h-6zM463 597h6v6h-6zM465 602h6v6h-6zM467 602h6v6h-6zM469 611h6v6h-6zM471 622h6v6h-6zM473 635h6v6h-6zM475 651h6v6h-6zM477 667h6v6h-6zM479 687h6v6h-6zM481 709h6v6h-6zM483 727h6v6h-6zM485 742h6v6h-6zM487 753h6v6h-6zM489 759h6v6h-6zM491 769h6v6h-6zM493 757h6v6h-6zM495 742h6v6h-6zM497 722h6v6h-6zM499 697h6v6h-6zM501 681h6v6h-6zM503 664h6v6h-6zM505 639h6v6h-6zM507 614h6v6h-6zM509 589h6v6h-6zM511 563h6v6h-6zM513 553h6v6h-6zM515 543h6v6h-6zM517 535h6v6h-6zM519 530h6v6h-6zM521 527h6v6h-6zM523 529h6v6h-6zM525 525h6v6h-6zM527 532h6v6h-6zM529 537h6v6h-6zM531 528h6v6h-6zM533 535h6v6h-6zM535 534h6v6h-6zM537 531h6v6h-6zM539 531h6v6h-6zM541 531h6v6h-6zM543 529h6v6h-6zM545 531h6v6h-6zM547 531h6v6h-6zM549 534h6v6h-6zM551 534h6v6h-6zM553 528h6v6h-6zM555 533h6v6h-6zM557 527h6v6h-6zM559 529h6v6h-6zM561 532h6v6h-6zM563 531h6v6h-6zM565 531h6v6h-6zM567 532h6v6h-6zM569 529h6v6h-6zM571 528h6v6h-6zM573 530h6v6h-6zM575 534h6v6h-6zM577 530h6v6h-6zM579 537h6v6h-6zM581 531h6v6h-6zM583 520h6v6h-6zM585 528h6v6h-6zM587 536h6v6h-6zM589 531h6v6h-6zM591 530h6v6h-6zM593 528h6v6h-6zM595 535h6v6h-6zM597 534h6v6h-6zM599 532h6v6h-6zM601 532h6v6h-6zM603 535h6v6h-6zM605 534h6v6h-6zM607 527h6v6h-6zM609 534h6v6h-6zM611 532h6v6h-6zM613 531h6v6h-6zM615 532h6v6h-6zM617 529h6v6h-6zM619 519h6v6h-6zM621 534h6v6h-6zM623 533h6v6h-6zM625 529h6v6h-6zM627 528h6v6h-6zM629 530h6v6h-6zM631 526h6v6h-6zM633 531h6v6h-6zM635 530h6v6h-6zM637 531h6v6h-6zM639 530h6v6h-6zM641 530h6v6h-6zM643 536h6v6h-6zM645 536h6v6h-6zM647 532h6v6h-6zM649 529h6v6h-6zM651 528h6v6h-6zM653 533h6v6h-6zM655 536h6v6h-6zM657 526h6v6h-6zM659 536h6v6h-6zM661 524h6v6h-6zM663 531h6v6h-6zM665 534h6v6h-6zM667 527h6v6h-6zM669 526h6v6h-6zM671 532h6v6h-6zM673 534h6v6h-6zM675 529h6v6h-6zM677 536h6v6h-6zM679 529h6v6h-6zM681 538h6v6h-6zM683 532h6v6h-6zM685 532h6v6h-6zM687 533h6v6h-6zM689 531h6v6h-6zM691 537h6v6h-6zM693 538h6v6h-6zM695 533h6v6h-6zM697 530h6v6h-6zM699 528h6v6h-6zM701 529h6v6h-6zM703 531h6v6h-6zM705 531h6v6h-6zM707 532h6v6h-6zM709 531h6v6h-6zM711 534h6v6h-6zM713 528h6v6h-6zM715 529h6v6h-6zM717 535h6v6h-6zM719 535h6v6h-6zM721 530h6v6h-6zM723 536h6v6h-6zM725 528h6v6h-6zM727 530h6v6h-6zM729 524h6v6h-6zM731 534h6v6h-6zM733 530h6v6h-6zM735 534h6v6h-6zM737 534h6v6h-6zM739 532h6v6h-6zM741 532h6v6h-6zM743 536h6v6h-6zM745 531h6v6h-6zM747 531h6v6h-6zM749 531h6v6h-6zM751 534h6v6h-6zM753 535h6v6h-6zM755 539h6v6h-6zM757 533h6v6h-6zM759 537h6v6h-6zM761 530h6v6h-6zM763 532h6v6h-6zM765 531h6v6h-6zM767 536h6v6h-6zM769 532h6v6h-6zM771 529h6v6h-6zM773 534h6v6h-6zM775 533h6v6h-6zM777 531h6v6h-6zM779 532h6v6h-6zM781 529h6v6h-6zM783 541h6v6h-6zM785 531h6v6h-6zM787 534h6v6h-6zM789 526h6v6h-6zM791 527h6v6h-6zM793 532h6v6h-6zM795 532h6v6h-6zM797 536h6v6h-6zM799 530h6v6h-6zM801 534h6v6h-6zM803 537h6v6h-6zM805 529h6v6h-6zM807 536h6v6h-6zM809 529h6v6h-6zM811 534h6v6h-6zM813 533h6v6h-6zM815 537h6v6h-6zM817 528h6v6h-6zM819 531h6v6h-6zM821 535h6v6h-6zM823 527h6v6h-6zM825 532h6v6h-6zM827 528h6v6h-6zM829 530h6v6h-6zM831 533h6v6h-6zM833 533h6v6h-6zM835 539h6v6h-6zM837 536h6v6h-6zM839 535h6v6h-6zM841 530h6v6h-6zM843 529h6v6h-6zM845 531h6v6h-6zM847 524h6v6h-6zM849 537h6v6h-6zM851 530h6v6h-6zM853 529h6v6h-6zM855 532h6v6h-6zM857 536h6v6h-6zM859 537h6v6h-6zM861 531h6v6h-6zM863 534h6v6h-6zM865 531h6v6h-6zM867 527h6v6h-6zM869 532h6v6h-6zM871 532h6v6h-6zM873 527h6v6h-6zM875 536h6v6h-6zM877 527h6v6h-6zM879 532h6v6h-6zM881 527h6v6h-6zM883 527h6v6h-6zM885 527h6v6h-6zM887 533h6v6h-6zM889 526h6v6h-6zM891 531h6v6h-6zM893 537h6v6h-6zM895 529h6v6h-6zM897 530h6v6h-6zM899 533h6v6h-6zM901 528h6v6h-6zM903 531h6v6h-6zM905 528h6v6h-6zM907 532h6v6h-6zM909 530h6v6h-6zM911 527h6v6h-6zM913 536h6v6h-6zM915 531h6v6h-6zM917 532h6v6h-6zM919 529h6v6h-6zM921 532h6v6h-6zM923 533h6v6h-6zM925 533h6v6h-6zM927 535h6v6h-6zM929 527h6v6h-6zM931 529h6v6h-6zM933 534h6v6h-6zM935 532h6v6h-6zM937 534h6v6h-6zM939 538h6v6h-6zM941 534h6v6h-6zM943 534h6v6h-6zM945 532h6v6h-6zM947 538h6v6h-6zM949 536h6v6h-6zM951 529h6v6h-6zM953 534h6v6h-6zM955 528h6v6h-6zM957 536h6v6h-6zM959 534h6v6h-6zM961 531h6v6h-6zM963 531h6v6h-6zM965 526h6v6h-6zM967 534h6v6h-6zM969 532h6v6h-6zM971 531h6v6h-6zM973 535h6v6h-6zM975 531h6v6h-6zM977 532h6v6h-6zM979 531h6v6h-6zM981 527h6v6h-6zM983 540h6v6h-6zM985 531h6v6h-6zM987 530h6v6h-6zM989 534h6v6h-6zM991 522h6v6h-6zM993 532h6v6h-6zM995 533h6v6h-6zM997 530h6v6h-6zM999 535h6v6h-6zM1001 526h6v6h-6zM1003 533h6v6h-6zM1005 535h6v6h-6zM1007 525h6v6h-6zM1009 527h6v6h-6zM1011 530h6v6h-6zM1013 531h6v6h-6zM1015 529h6v6h-6zM1017 532h6v6h-6zM1019 531h6v6h-6zM1021 526h6v6h-6zM1023 530h6v6h-6zM1025 526h6v6h-6zM1027 524h6v6h-6zM1029 523h6v6h-6zM1031 534h6v6h-6zM1033 531h6v6h-6zM1035 538h6v6h-6zM1037 524h6v6h-6zM1039 528h6v6h-6zM1041 530h6v6h-6zM1043 528h6v6h-6zM1045 531h6v6h-6zM1047 532h6v6h-6zM1049 529h6v6h-6zM1051 524h6v6h-6zM1053 530h6v6h-6zM1055 538h6v6h-6zM1057 534h6v6h-6zM1059 536h6v6h-6zM1061 530h6v6h-6zM1063 531h6v6h-6zM1065 529h6v6h-6zM1067 533h6v6h-6zM1069 533h6v6h-6zM1071 534h6v6h-6zM1073 538h6v6h-6zM1075 530h6v6h-6zM1077 535h6v6h-6zM1079 528h6v6h-6zM1081 535h6v6h-6zM1083 530h6v6h-6zM1085 532h6v6h-6zM1087 533h6v6h-6zM1089 538h6v6h-6zM1091 532h6v6h-6zM1093 531h6v6h-6zM1095 528h6v6h-6zM1097 533h6v6h-6zM1099 528h6v6h-6zM1101 530h6v6h-6zM1103 531h6v6h-6zM1105 534h6v6h-6zM1107 529h6v6h-6zM1109 536h6v6h-6zM1111 540h6v6h-6zM1113 529h6v6h-6zM1115 539h6v6h-6zM1117 541h6v6h-6zM1119 530h6v6h-6zM1121 534h6v6h-6zM1123 527h6v6h-6zM1125 531h6v6h-6zM1127 529h6v6h-6zM1129 531h6v6h-6zM1131 527h6v6h-6zM1133 527h6v6h-6zM1135 529h6v6h-6zM1137 529h6v6h-6zM1139 529h6v6h-6zM1141 530h6v6h-6zM1143 527h6v6h-6zM1145 531h6v6h-6zM1147 533h6v6h-6zM1149 526h6v6h-6zM1151 533h6v6h-6zM1153 532h6v6h-6zM1155 531h6v6h-6zM1157 532h6v6h-6zM1159 535h6v6h-6zM1161 536h6v6h-6zM1163 541h6v6h-6zM1165 538h6v6h-6zM1167 545h6v6h-6zM1169 539h6v6h-6zM1171 541h6v6h-6zM1173 541h6v6h-6zM1175 534h6v6h-6zM1177 538h6v6h-6zM1179 540h6v6h-6zM1181 532h6v6h-6zM1183 534h6v6h-6zM1185 531h6v6h-6zM1187 532h6v6h-6zM1189 530h6v6h-6zM1191 527h6v6h-6zM1193 529h6v6h-6zM1195 529h6v6h-6zM1197 527h6v6h-6zM1199 532h6v6h-6zM1201 532h6v6h-6zM1203 531h6v6h-6zM1205 528h6v6h-6zM1207 535h6v6h-6zM1209 535h6v6h-6zM1211 527h6v6h-6zM1213 531h6v6h-6zM1215 535h6v6h-6zM1217 542h6v6h-6zM1219 547h6v6h-6zM1221 550h6v6h-6zM1223 556h6v6h-6zM1225 563h6v6h-6zM1227 568h6v6h-6zM1229 576h6v6h-6zM1231 585h6v6h-6zM1233 600h6v6h-6zM1235 614h6v6h-6zM1237 630h6v6h-6zM1239 646h6v6h-6zM1241 663h6v6h-6zM1243 679h6v6h-6zM1245 698h6v6h-6zM1247 720h6v6h-6zM1249 740h6v6h-6zM1251 768h6v6h-6zM1253 798h6v6h-6zM1255 817h6v6h-6zM1257 835h6v6h-6zM1259 854h6v6h-6zM1261 872h6v6h-6zM1263 893h6v6h-6zM1265 903h6v6h-6zM1267 904h6v6h-6zM1269 902h6v6h-6zM1271 896h6v6h-6zM1273 893h6v6h-6zM1275 886h6v6h-6zM1277 886h6v6h-6zM1279 883h6v6h-6zM1281 882h6v6h-6zM1283 886h6v6h-6zM1285 888h6v6h-6zM1287 894h6v6h-6zM1289 899h6v6h-6zM1291 905h6v6h-6zM1293 907h6v6h-6zM1295 907h6v6h-6zM1297 909h6v6h-6zM1299 909h6v6h-6zM1301 909h6v6h-6zM1303 915h6v6h-6zM1305 909h6v6h-6zM1307 910h6v6h-6zM1309 914h6v6h-6zM1311 910h6v6h-6zM1313 909h6v6h-6zM1315 911h6v6h-6zM1317 914h6v6h-6zM1319 913h6v6h-6zM1321 914h6v6h-6zM1323 910h6v6h-6zM1325 908h6v6h-6zM1327 915h6v6h-6zM1329 907h6v6h-6zM1331 911h6v6h-6zM1333 907h6v6h-6zM1335 911h6v6h-6zM1337 913h6v6h-6zM1339 918h6v6h-6zM1341 903h6v6h-6zM1343 917h6v6h-6zM1345 909h6v6h-6zM1347 912h6v6h-6zM1349 912h6v6h-6zM1351 908h6v6h-6zM1353 911h6v6h-6zM1355 914h6v6h-6zM1357 912h6v6h-6zM1359 910h6v6h-6zM1361 913h6v6h-6zM1363 912h6v6h-6zM1365 906h6v6h-6zM1367 916h6v6h-6zM1369 912h6v6h-6zM1371 903h6v6h-6zM1373 909h6v6h-6zM1375 918h6v6h-6zM1377 918h6v6h-6zM1379 914h6v6h-6zM1381 906h6v6h-6zM1383 911h6v6h-6zM1385 916h6v6h-6zM1387 913h6v6h-6zM1389 910h6v6h-6zM1391 909h6v6h-6zM1393 915h6v6h-6zM1395 912h6v6h-6zM1397 913h6v6h-6zM1399 915h6v6h-6zM1401 920h6v6h-6zM1403 914h6v6h-6zM1405 913h6v6h-6zM1407 905h6v6h-6zM1409 915h6v6h-6zM1411 914h6v6h-6zM1413 912h6v6h-6zM1415 904h6v6h-6zM1417 910h6v6h-6zM1419 912h6v6h-6zM1421 918h6v6h-6zM1423 913h6v6h-6zM1425 914h6v6h-6zM1427 914h6v6h-6zM1429 915h6v6h-6zM1431 907h6v6h-6zM1433 908h6v6h-6zM1435 907h6v6h-6zM1437 910h6v6h-6zM1439 909h6v6h-6zM1441 911h6v6h-6zM1443 908h6v6h-6zM1445 911h6v6h-6zM1447 909h6v6h-6zM1449 919h6v6h-6zM1451 910h6v6h-6zM1453 920h6v6h-6zM1455 918h6v6h-6zM1457 908h6v6h-6zM1459 914h6v6h-6zM1461 913h6v6h-6zM1463 906h6v6h-6zM1465 913h6v6h-6zM1467 911h6v6h-6zM1469 914h6v6h-6zM1471 910h6v6h-6zM1473 912h6v6h-6zM1475 914h6v6h-6zM1477 912h6v6h-6zM1479 909h6v6h-6zM1481 911h6v6h-6zM1483 909h6v6h-6zM1485 913h6v6h-6zM1487 903h6v6h-6zM1489 917h6v6h-6zM1491 912h6v6h-6zM1493 913h6v6h-6zM1495 915h6v6h-6zM1497 907h6v6h-6zM1499 919h6v6h-6zM1501 907h6v6h-6zM1503 913h6v6h-6zM1505 912h6v6h-6zM1507 916h6v6h-6zM1509 911h6v6h-6zM1511 907h6v6h-6zM1513 913h6v6h-6zM1515 903h6v6h-6zM1517 911h6v6h-6zM1519 910h6v6h-6zM1521 917h6v6h-6zM1523 910h6v6h-6zM1525 910h6v6h-6zM1527 908h6v6h-6zM1529 908h6v6h-6zM1531 908h6v6h-6zM1533 912h6v6h-6zM1535 906h6v6h-6zM1537 911h6v6h-6zM1539 906h6v6h-6zM1541 911h6v6h-6zM1543 912h6v6h-6zM1545 907h6v6h-6zM1547 909h6v6h-6zM1549 912h6v6h-6zM1551 915h6v6h-6zM1553 915h6v6h-6zM1555 912h6v6h-6zM1557 909h6v6h-6zM1559 907h6v6h-6zM1561 914h6v6h-6zM1563 916h6v6h-6zM1565 912h6v6h-6zM1567 916h6v6h-6zM1569 908h6v6h-6zM1571 908h6v6h-6zM1573 916h6v6h-6zM1575 907h6v6h-6zM1577 913h6v6h-6zM1579 913h6v6h-6zM1581 911h6v6h-6zM1583 917h6v6h-6zM1585 907h6v6h-6zM1587 909h6v6h-6zM1589 904h6v6h-6zM1591 907h6v6h-6zM1593 909h6v6h-6zM1595 911h6v6h-6zM1597 911h6v6h-6zM1599 912h6v6h-6zM1601 909h6v6h-6zM1603 905h6v6h-6zM1605 912h6v6h-6zM1607 912h6v6h-6zM1609 907h6v6h-6zM1611 908h6v6h-6zM1613 918h6v6h-6zM1615 916h6v6h-6zM1617 916h6v6h-6zM1619 915h6v6h-6zM1621 913h6v6h-6zM1623 910h6v6h-6zM1625 914h6v6h-6zM1627 912h6v6h-6zM1629 911h6v6h-6zM1631 912h6v6h-6zM1633 912h6v6h-6zM1635 915h6v6h-6zM1637 908h6v6h-6zM1639 920h6v6h-6zM1641 907h6v6h-6zM1643 910h6v6h-6zM1645 915h6v6h-6zM1647 909h6v6h-6zM1649 911h6v6h-6zM1651 913h6v6h-6zM1653 903h6v6h-6zM1655 910h6v6h-6zM1657 909h6v6h-6zM1659 911h6v6h-6zM1661 914h6v6h-6zM1663 914h6v6h-6z" fill="#000080"/><path d="M255 914h2v2h-2zM257 921h2v2h-2zM259 917h2v2h-2zM261 908h2v2h-2zM267 914h2v2h-2zM269 908h2v2h-2zM273 914h2v2h-2zM275 919h2v2h-2zM279 915h2v2h-2zM281 908h2v2h-2zM283 920h2v2h-2zM285 905h2v2h-2zM287 916h2v2h-2zM295 912h2v2h-2zM299 913h2v2h-2zM301 919h2v2h-2zM303 908h2v2h-2zM305 914h2v2h-2zM307 911h2v2h-2zM309 916h2v2h-2zM311 906h2v2h-2zM315 913h2v2h-2zM317 908h2v2h-2zM321 914h2v2h-2zM325 918h2v2h-2zM335 914h2v2h-2zM347 913h2v2h-2zM349 921h2v2h-2zM355 915h2v2h-2zM363 917h2v2h-2zM365 909h2v2h-2zM367 918h2v2h-2zM383 915h2v2h-2zM385 911h2v2h-2zM387 919h2v2h-2zM391 910h2v2h-2zM393 921h2v2h-2zM395 914h2v2h-2zM397 910h2v2h-2zM399 921h2v2h-2zM401 914h2v2h-2zM403 919h2v2h-2zM407 913h2v2h-2zM413 909h2v2h-2zM415 912h2v2h-2zM417 916h2v2h-2zM419 919h2v2h-2zM423 911h2v2h-2zM425 906h2v2h-2zM427 889h2v2h-2zM429 871h2v2h-2zM431 849h2v2h-2zM433 825h2v2h-2zM435 799h2v2h-2zM437 776h2v2h-2zM439 753h2v2h-2zM441 732h2v2h-2zM443 711h2v2h-2zM445 691h2v2h-2zM447 671h2v2h-2zM449 653h2v2h-2zM451 640h2v2h-2zM453 627h2v2h-2zM455 617h2v2h-2zM457 613h2v2h-2zM459 607h2v2h-2zM465 599h2v2h-2zM469 604h2v2h-2zM471 613h2v2h-2zM473 624h2v2h-2zM475 637h2v2h-2zM477 653h2v2h-2zM479 669h2v2h-2zM481 689h2v2h-2zM483 711h2v2h-2zM485 729h2v2h-2zM487 744h2v2h-2zM489 755h2v2h-2zM491 761h2v2h-2zM493 771h2v2h-2zM495 759h2v2h-2zM497 744h2v2h-2zM499 724h2v2h-2zM501 699h2v2h-2zM503 683h2v2h-2zM505 666h2v2h-2zM507 641h2v2h-2zM509 616h2v2h-2zM511 591h2v2h-2zM513 565h2v2h-2zM515 555h2v2h-2zM517 545h2v2h-2zM519 537h2v2h-2zM521 532h2v2h-2zM525 531h2v2h-2zM527 527h2v2h-2zM529 534h2v2h-2zM531 539h2v2h-2zM533 530h2v2h-2zM553 536h2v2h-2zM555 530h2v2h-2zM557 535h2v2h-2zM575 532h2v2h-2zM577 536h2v2h-2zM579 532h2v2h-2zM581 539h2v2h-2zM583 533h2v2h-2zM585 522h2v2h-2zM587 530h2v2h-2zM589 538h2v2h-2zM595 530h2v2h-2zM603 534h2v2h-2zM607 536h2v2h-2zM609 529h2v2h-2zM619 531h2v2h-2zM621 521h2v2h-2zM625 535h2v2h-2zM631 532h2v2h-2zM633 528h2v2h-2zM643 532h2v2h-2zM647 538h2v2h-2zM653 530h2v2h-2zM655 535h2v2h-2zM657 538h2v2h-2zM659 528h2v2h-2zM661 538h2v2h-2zM663 526h2v2h-2zM667 536h2v2h-2zM671 528h2v2h-2zM675 536h2v2h-2zM677 531h2v2h-2zM679 538h2v2h-2zM681 531h2v2h-2zM683 540h2v2h-2zM691 533h2v2h-2zM695 540h2v2h-2zM713 536h2v2h-2zM717 531h2v2h-2zM721 537h2v2h-2zM723 532h2v2h-2zM725 538h2v2h-2zM729 532h2v2h-2zM731 526h2v2h-2zM733 536h2v2h-2zM735 532h2v2h-2zM743 534h2v2h-2zM745 538h2v2h-2zM755 537h2v2h-2zM757 541h2v2h-2zM759 535h2v2h-2zM761 539h2v2h-2zM767 533h2v2h-2zM769 538h2v2h-2zM771 534h2v2h-2zM773 531h2v2h-2zM783 531h2v2h-2zM785 543h2v2h-2zM789 536h2v2h-2zM793 529h2v2h-2zM797 534h2v2h-2zM799 538h2v2h-2zM801 532h2v2h-2zM803 536h2v2h-2zM805 539h2v2h-2zM807 531h2v2h-2zM809 538h2v2h-2zM811 531h2v2h-2zM815 535h2v2h-2zM817 539h2v2h-2zM821 533h2v2h-2zM823 537h2v2h-2zM825 529h2v2h-2zM827 534h2v2h-2zM831 532h2v2h-2zM835 535h2v2h-2zM837 541h2v2h-2zM841 537h2v2h-2zM847 533h2v2h-2zM849 526h2v2h-2zM851 539h2v2h-2zM857 534h2v2h-2zM861 539h2v2h-2zM867 533h2v2h-2zM869 529h2v2h-2zM873 534h2v2h-2zM875 529h2v2h-2zM877 538h2v2h-2zM879 529h2v2h-2zM881 534h2v2h-2zM887 529h2v2h-2zM889 535h2v2h-2zM891 528h2v2h-2zM893 533h2v2h-2zM895 539h2v2h-2zM901 535h2v2h-2zM905 533h2v2h-2zM907 530h2v2h-2zM913 529h2v2h-2zM915 538h2v2h-2zM929 537h2v2h-2zM933 531h2v2h-2zM939 536h2v2h-2zM941 540h2v2h-2zM947 534h2v2h-2zM951 538h2v2h-2zM953 531h2v2h-2zM955 536h2v2h-2zM957 530h2v2h-2zM965 533h2v2h-2zM967 528h2v2h-2zM973 533h2v2h-2zM975 537h2v2h-2zM981 533h2v2h-2zM983 529h2v2h-2zM985 542h2v2h-2zM989 532h2v2h-2zM991 536h2v2h-2zM993 524h2v2h-2zM997 535h2v2h-2zM999 532h2v2h-2zM1001 537h2v2h-2zM1003 528h2v2h-2zM1007 537h2v2h-2zM1011 529h2v2h-2zM1021 533h2v2h-2zM1023 528h2v2h-2zM1025 532h2v2h-2zM1031 525h2v2h-2zM1035 533h2v2h-2zM1037 540h2v2h-2zM1039 526h2v2h-2zM1045 530h2v2h-2zM1051 531h2v2h-2zM1053 526h2v2h-2zM1055 532h2v2h-2zM1057 540h2v2h-2zM1061 538h2v2h-2zM1067 531h2v2h-2zM1073 536h2v2h-2zM1075 540h2v2h-2zM1077 532h2v2h-2zM1079 537h2v2h-2zM1081 530h2v2h-2zM1083 537h2v2h-2zM1089 535h2v2h-2zM1091 540h2v2h-2zM1097 530h2v2h-2zM1099 535h2v2h-2zM1107 536h2v2h-2zM1109 531h2v2h-2zM1111 538h2v2h-2zM1113 542h2v2h-2zM1115 531h2v2h-2zM1119 543h2v2h-2zM1121 532h2v2h-2zM1123 536h2v2h-2zM1125 529h2v2h-2zM1131 533h2v2h-2zM1143 532h2v2h-2zM1145 529h2v2h-2zM1149 535h2v2h-2zM1151 528h2v2h-2zM1163 538h2v2h-2zM1167 540h2v2h-2zM1169 547h2v2h-2zM1175 543h2v2h-2zM1177 536h2v2h-2zM1181 542h2v2h-2zM1199 529h2v2h-2zM1205 533h2v2h-2zM1207 530h2v2h-2zM1211 537h2v2h-2zM1213 529h2v2h-2zM1215 533h2v2h-2zM1217 537h2v2h-2zM1219 544h2v2h-2zM1223 552h2v2h-2zM1225 558h2v2h-2zM1227 565h2v2h-2zM1229 570h2v2h-2zM1231 578h2v2h-2zM1233 587h2v2h-2zM1235 602h2v2h-2zM1237 616h2v2h-2zM1239 632h2v2h-2zM1241 648h2v2h-2zM1243 665h2v2h-2zM1245 681h2v2h-2zM1247 700h2v2h-2zM1249 722h2v2h-2zM1251 742h2v2h-2zM1253 770h2v2h-2zM1255 800h2v2h-2zM1257 819h2v2h-2zM1259 837h2v2h-2zM1261 856h2v2h-2zM1263 874h2v2h-2zM1265 895h2v2h-2zM1271 904h2v2h-2zM1273 898h2v2h-2zM1275 895h2v2h-2zM1279 888h2v2h-2zM1283 884h2v2h-2zM1287 890h2v2h-2zM1289 896h2v2h-2zM1291 901h2v2h-2zM1303 911h2v2h-2zM1305 917h2v2h-2zM1309 912h2v2h-2zM1311 916h2v2h-2zM1317 913h2v2h-2zM1323 916h2v2h-2zM1327 910h2v2h-2zM1329 917h2v2h-2zM1331 909h2v2h-2zM1333 913h2v2h-2zM1335 909h2v2h-2zM1339 915h2v2h-2zM1341 920h2v2h-2zM1343 905h2v2h-2zM1345 919h2v2h-2zM1351 914h2v2h-2zM1353 910h2v2h-2zM1355 913h2v2h-2zM1365 914h2v2h-2zM1367 908h2v2h-2zM1369 918h2v2h-2zM1371 914h2v2h-2zM1373 905h2v2h-2zM1375 911h2v2h-2zM1379 920h2v2h-2zM1381 916h2v2h-2zM1383 908h2v2h-2zM1385 913h2v2h-2zM1389 915h2v2h-2zM1393 911h2v2h-2zM1395 917h2v2h-2zM1401 917h2v2h-2zM1403 922h2v2h-2zM1407 915h2v2h-2zM1409 907h2v2h-2zM1415 914h2v2h-2zM1417 906h2v2h-2zM1421 914h2v2h-2zM1423 920h2v2h-2zM1431 917h2v2h-2zM1443 913h2v2h-2zM1445 910h2v2h-2zM1449 911h2v2h-2zM1451 921h2v2h-2zM1453 912h2v2h-2zM1457 920h2v2h-2zM1459 910h2v2h-2zM1463 915h2v2h-2zM1465 908h2v2h-2zM1471 916h2v2h-2zM1485 911h2v2h-2zM1487 915h2v2h-2zM1489 905h2v2h-2zM1491 919h2v2h-2zM1497 917h2v2h-2zM1499 909h2v2h-2zM1501 921h2v2h-2zM1503 909h2v2h-2zM1507 914h2v2h-2zM1509 918h2v2h-2zM1511 913h2v2h-2zM1513 909h2v2h-2zM1515 915h2v2h-2zM1517 905h2v2h-2zM1521 912h2v2h-2zM1523 919h2v2h-2zM1533 910h2v2h-2zM1535 914h2v2h-2zM1537 908h2v2h-2zM1539 913h2v2h-2zM1541 908h2v2h-2zM1545 914h2v2h-2zM1557 914h2v2h-2zM1561 909h2v2h-2zM1565 918h2v2h-2zM1567 914h2v2h-2zM1569 918h2v2h-2zM1573 910h2v2h-2zM1575 918h2v2h-2zM1577 909h2v2h-2zM1583 913h2v2h-2zM1585 919h2v2h-2zM1589 911h2v2h-2zM1591 906h2v2h-2zM1603 911h2v2h-2zM1605 907h2v2h-2zM1609 914h2v2h-2zM1613 910h2v2h-2zM1623 915h2v2h-2zM1625 912h2v2h-2zM1635 914h2v2h-2zM1637 917h2v2h-2zM1639 910h2v2h-2zM1641 922h2v2h-2zM1645 912h2v2h-2zM1647 917h2v2h-2zM1653 915h2v2h-2zM1655 905h2v2h-2zM1665 916h2v2h-2z" fill="#fff"/></g><g fill="#000"><rect x="251.5" y="93.5" width="1416.5" height="6"/><rect x="251.5" y="93.5" width="6" height="888.5"/><rect x="1662" y="93.5" width="6" height="888.5"/><rect x="251.5" y="976" width="1416.5" height="6"/><rect x="257" y="313.7" width="14.6" height="5.8"/><rect x="257" y="533.7" width="14.6" height="5.8"/><rect x="257" y="755.9" width="14.6" height="5.8"/><rect x="1644" y="269.7" width="18.5" height="5.8"/><rect x="1644" y="445.9" width="18.5" height="5.8"/><rect x="1644" y="624.0" width="18.5" height="5.8"/><rect x="1644" y="800.0" width="18.5" height="5.8"/><rect x="603.8" y="958" width="6" height="18.5"/><rect x="603.8" y="99" width="6" height="14.3"/><rect x="958.0" y="958" width="6" height="18.5"/><rect x="958.0" y="99" width="6" height="14.3"/><rect x="1310.0" y="958" width="6" height="18.5"/><rect x="1310.0" y="99" width="6" height="14.3"/></g><g font-family='"Liberation Serif", "Times New Roman", serif' fill="#000" shape-rendering="auto"><text x="233.3" y="112.7" font-size="64" text-anchor="end">40</text><text x="233.3" y="333.1" font-size="64" text-anchor="end">30</text><text x="233.3" y="555.0" font-size="64" text-anchor="end">20</text><text x="233.3" y="775.0" font-size="64" text-anchor="end">10</text><text x="233.3" y="995.1" font-size="64" text-anchor="end">0</text><text x="253.7" y="1044.6" font-size="64" text-anchor="middle">0</text><text x="605.2" y="1044.6" font-size="64" text-anchor="middle">50</text><text x="959.2" y="1044.6" font-size="64" text-anchor="middle">100</text><text x="1312.1" y="1044.6" font-size="64" text-anchor="middle">150</text><text x="1664.2" y="1044.6" font-size="64" text-anchor="middle">200</text><text x="1682.0" y="112.9" font-size="64" text-anchor="start">2.5</text><text x="1682.0" y="289.1" font-size="64" text-anchor="start">2.0</text><text x="1682.0" y="465.0" font-size="64" text-anchor="start">1.5</text><text x="1682.0" y="643.1" font-size="64" text-anchor="start">1.0</text><text x="1682.0" y="819.1" font-size="64" text-anchor="start">0.5</text><text x="1682.0" y="995.3" font-size="64" text-anchor="start">0.0</text><text x="958.5" y="1109.5" font-size="63" text-anchor="middle">Time(ms)</text><text transform="translate(112,536.6) rotate(-90)" font-size="64.3" text-anchor="middle">Voltage(V)</text><text transform="translate(1832,528) rotate(-90)" font-size="63" text-anchor="middle">Displacement(mm)</text></g><rect x="1152" y="131.5" width="476" height="359" fill="none" stroke="#000" stroke-width="4"/><g stroke-width="6" fill="none" stroke-linecap="round"><path d="M1161 170.5H1287" stroke="#ff3d3d"/><path d="M1161 240.5H1287" stroke="#0000ff" stroke-dasharray="22 12 4 14"/><path d="M1161 312.6H1279" stroke="#ff00ff" stroke-dasharray="4 10.25"/><path d="M1161 382.6H1287" stroke="#000080" stroke-dasharray="13 16"/><path d="M1161 452.8H1287" stroke="#4d4d4d" stroke-dasharray="30 34"/></g><rect x="1220" y="237.5" width="6" height="6" fill="#0000ff"/><rect x="1222" y="239.5" width="2" height="2" fill="#fff"/><rect x="1220" y="307.8" width="6" height="6" fill="#ff00ff"/><rect x="1222" y="309.8" width="2" height="2" fill="#fff"/><rect x="1220" y="377.8" width="6" height="6" fill="#000080"/><rect x="1222" y="379.8" width="2" height="2" fill="#fff"/><rect x="1220" y="447.6" width="6" height="6" fill="#4d4d4d"/><g font-family='"Liberation Serif", "Times New Roman", serif' fill="#000" shape-rendering="auto"><text x="1301.0" y="188.8" font-size="56.2" text-anchor="start">20°C</text><text x="1301.0" y="258.8" font-size="56.2" text-anchor="start">40°C</text><text x="1301.0" y="328.8" font-size="56.2" text-anchor="start">50°C</text><text x="1301.0" y="398.8" font-size="56.2" text-anchor="start">30°C</text><text x="1301.0" y="469.0" font-size="56.2" text-anchor="start">Control signal</text></g></svg></body></html>
